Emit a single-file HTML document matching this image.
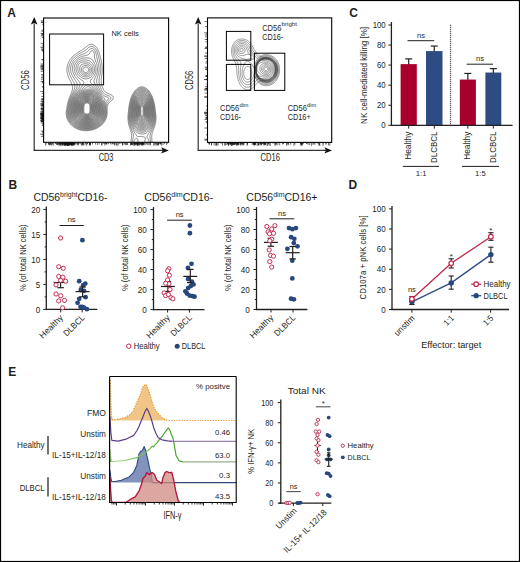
<!DOCTYPE html>
<html><head><meta charset="utf-8"><style>
html,body{margin:0;padding:0;background:#fff;}
body{width:520px;height:562px;overflow:hidden;}
svg{display:block;font-family:"Liberation Sans", sans-serif;}
text{fill:#231f20;}
</style></head><body>
<svg width="520" height="562" viewBox="0 0 520 562">
<rect x="0" y="0" width="520" height="562" fill="#fff"/>
<text x="7.2" y="17.1" font-size="12" font-weight="bold" fill="#000">A</text>
<text x="8.6" y="188.5" font-size="12" font-weight="bold" fill="#000">B</text>
<text x="349.2" y="17.3" font-size="12" font-weight="bold" fill="#000">C</text>
<text x="348.5" y="188.5" font-size="12" font-weight="bold" fill="#000">D</text>
<text x="8.3" y="376.2" font-size="12" font-weight="bold" fill="#000">E</text>
<path d="M89.9,44.5 90.3,44.4 90.8,44.3 91.3,44.3 91.8,44.3 92.3,44.4 92.6,44.5 93.1,44.7 93.3,44.8 93.8,45.0 94.1,45.2 94.3,45.3 94.6,45.5 94.9,45.8 95.2,46.0 95.5,46.2 95.7,46.5 96.0,46.8 96.2,47.0 96.4,47.2 96.6,47.5 96.8,47.9 97.1,48.2 97.3,48.5 97.4,48.8 97.6,49.1 97.8,49.5 97.9,49.8 98.1,50.1 98.3,50.5 98.4,50.8 98.6,51.2 98.7,51.5 98.8,51.9 99.0,52.2 99.1,52.6 99.2,53.0 99.3,53.3 99.5,53.8 99.6,54.2 99.7,54.5 99.8,55.0 99.9,55.2 100.0,55.8 100.1,56.0 100.2,56.5 100.3,57.0 100.4,57.2 100.5,57.8 100.6,58.0 100.7,58.5 100.8,59.0 100.9,59.2 101.0,59.7 101.1,60.2 101.2,60.5 101.3,61.0 101.3,61.4 101.4,61.8 101.5,62.2 101.6,62.6 101.7,63.0 101.8,63.5 101.8,64.0 101.9,64.2 101.9,64.8 102.0,65.2 102.1,65.8 102.1,66.0 102.2,66.5 102.2,67.0 102.2,67.5 102.2,68.0 102.3,68.5 102.3,69.0 102.3,69.5 102.3,70.0 102.2,70.5 102.2,71.0 102.2,71.5 102.1,72.0 102.1,72.5 102.1,72.8 102.0,73.2 102.0,73.8 101.9,74.2 101.8,74.5 101.8,75.0 101.7,75.5 101.6,76.0 101.6,76.2 101.5,76.8 101.4,77.2 101.4,77.8 101.3,78.0 101.3,78.5 101.2,79.0 101.2,79.5 101.2,80.0 101.2,80.5 101.2,81.0 101.2,81.5 101.3,82.0 101.3,82.5 101.4,82.8 101.4,83.2 101.5,83.8 101.6,84.1 101.7,84.5 101.8,85.0 101.9,85.2 102.0,85.8 102.1,86.1 102.2,86.5 102.3,86.9 102.5,87.2 102.6,87.6 102.8,88.0 102.9,88.2 103.1,88.8 103.2,89.0 103.3,89.3 103.6,89.7 103.8,90.0 103.9,90.2 104.1,90.5 104.3,90.9 104.6,91.2 104.8,91.4 105.1,91.7 105.3,91.9 105.6,92.1 105.8,92.3 106.1,92.5 106.5,92.7 106.8,92.9 107.1,93.1 107.5,93.2 107.8,93.4 108.1,93.5 108.6,93.7 108.9,93.8 109.3,94.0 109.6,94.1 110.0,94.2 110.3,94.4 110.6,94.5 111.1,94.8 111.3,94.9 111.6,95.1 111.8,95.3 112.1,95.5 112.4,95.8 112.6,96.0 112.9,96.3 113.1,96.8 113.1,97.0 113.2,97.5 113.2,98.0 113.1,98.4 113.0,98.8 112.8,99.0 112.6,99.4 112.4,99.8 112.2,100.0 111.9,100.2 111.7,100.5 111.4,100.8 111.1,101.0 110.9,101.2 110.6,101.4 110.3,101.6 110.1,101.8 109.8,102.0 109.6,102.3 109.3,102.5 109.1,102.8 108.8,103.0 108.6,103.3 108.3,103.7 108.2,104.0 108.0,104.2 107.8,104.7 107.7,105.0 107.6,105.5 107.5,105.8 107.4,106.2 107.3,106.6 107.3,107.0 107.2,107.5 107.2,108.0 107.2,108.5 107.2,109.0 107.2,109.5 107.2,110.0 107.2,110.5 107.2,111.0 107.2,111.5 107.2,112.0 107.2,112.5 107.2,113.0 107.2,113.5 107.1,114.0 107.1,114.5 107.1,114.7 107.0,115.2 106.9,115.8 106.8,116.0 106.7,116.5 106.6,117.0 106.5,117.2 106.4,117.8 106.3,118.0 106.1,118.5 106.0,118.8 105.8,119.1 105.7,119.5 105.6,119.8 105.3,120.2 105.2,120.5 105.0,120.8 104.8,121.0 104.6,121.4 104.4,121.8 104.2,122.0 104.0,122.2 103.8,122.5 103.6,122.8 103.3,123.1 103.1,123.4 102.8,123.7 102.6,124.0 102.3,124.2 102.1,124.5 101.8,124.7 101.6,125.0 101.3,125.2 101.1,125.4 100.8,125.6 100.6,125.8 100.3,126.0 100.1,126.2 99.7,126.5 99.4,126.8 99.1,126.9 98.8,127.1 98.6,127.2 98.2,127.5 97.8,127.7 97.6,127.8 97.3,128.0 96.8,128.2 96.6,128.4 96.3,128.5 95.8,128.7 95.6,128.8 95.2,129.0 94.8,129.1 94.5,129.2 94.1,129.4 93.8,129.5 93.3,129.6 93.0,129.8 92.6,129.9 92.1,130.0 91.8,130.1 91.3,130.2 91.0,130.2 90.6,130.3 90.1,130.4 89.6,130.5 89.3,130.5 88.8,130.6 88.3,130.6 87.8,130.7 87.3,130.7 86.8,130.7 86.3,130.7 85.8,130.7 85.3,130.7 84.8,130.7 84.3,130.7 83.8,130.6 83.3,130.6 83.0,130.5 82.6,130.4 82.1,130.4 81.6,130.3 81.3,130.2 80.8,130.1 80.5,130.0 80.1,129.9 79.6,129.8 79.3,129.7 78.8,129.5 78.6,129.4 78.1,129.2 77.8,129.2 77.5,129.0 77.1,128.8 76.8,128.7 76.4,128.5 76.1,128.4 75.8,128.2 75.4,128.0 75.1,127.8 74.8,127.7 74.6,127.5 74.2,127.2 73.8,127.0 73.6,126.9 73.3,126.7 73.1,126.5 72.8,126.2 72.5,126.0 72.2,125.8 71.9,125.5 71.6,125.3 71.3,125.0 71.1,124.8 70.8,124.5 70.6,124.2 70.4,124.0 70.2,123.8 70.0,123.5 69.8,123.2 69.6,123.0 69.3,122.7 69.1,122.4 68.8,122.0 68.7,121.8 68.5,121.5 68.3,121.2 68.1,120.8 68.0,120.5 67.8,120.2 67.6,119.8 67.5,119.5 67.3,119.2 67.2,118.8 67.1,118.5 66.9,118.0 66.8,117.7 66.7,117.2 66.6,116.8 66.5,116.5 66.4,116.0 66.4,115.5 66.3,115.2 66.3,114.8 66.2,114.2 66.2,113.8 66.2,113.2 66.2,112.8 66.2,112.2 66.3,111.8 66.3,111.2 66.4,111.0 66.4,110.5 66.5,110.0 66.6,109.5 66.6,109.2 66.7,108.8 66.8,108.2 66.8,107.8 66.9,107.5 67.0,107.0 67.0,106.5 67.1,106.1 67.1,105.8 67.2,105.2 67.3,104.8 67.4,104.5 67.5,104.0 67.6,103.5 67.7,103.2 67.8,102.8 67.9,102.5 68.0,102.0 68.1,101.6 68.2,101.2 68.3,100.8 68.4,100.5 68.6,100.0 68.7,99.8 68.8,99.3 68.9,99.0 69.1,98.6 69.2,98.2 69.3,97.9 69.5,97.5 69.6,97.3 69.8,96.8 69.9,96.5 70.1,96.0 70.2,95.8 70.3,95.4 70.5,95.0 70.6,94.8 70.8,94.2 70.9,94.0 71.1,93.6 71.2,93.2 71.3,93.0 71.5,92.5 71.6,92.2 71.8,91.8 71.9,91.5 72.1,91.0 72.1,90.8 72.3,90.2 72.3,89.9 72.4,89.5 72.5,89.0 72.5,88.5 72.6,88.0 72.6,87.5 72.5,87.0 72.4,86.5 72.4,86.0 72.3,85.8 72.2,85.2 72.1,85.0 71.9,84.5 71.8,84.2 71.6,83.8 71.5,83.5 71.3,83.1 71.2,82.8 71.1,82.5 70.8,82.0 70.7,81.8 70.6,81.5 70.3,81.0 70.2,80.8 70.1,80.5 69.8,80.1 69.7,79.8 69.6,79.5 69.3,79.1 69.2,78.8 69.1,78.5 68.8,78.0 68.7,77.8 68.6,77.4 68.4,77.0 68.3,76.8 68.1,76.2 68.0,76.0 67.9,75.5 67.8,75.2 67.6,74.8 67.5,74.5 67.4,74.0 67.3,73.7 67.2,73.2 67.2,72.8 67.1,72.4 67.0,72.0 67.0,71.5 66.9,71.0 66.9,70.5 66.9,70.0 66.9,69.5 66.9,69.0 67.0,68.5 67.0,68.0 67.1,67.5 67.1,67.2 67.2,66.8 67.3,66.2 67.3,66.0 67.5,65.5 67.6,65.0 67.7,64.8 67.8,64.2 67.9,64.0 68.1,63.5 68.2,63.2 68.3,62.9 68.5,62.5 68.7,62.2 68.8,61.9 69.0,61.5 69.2,61.2 69.3,60.9 69.6,60.5 69.8,60.2 69.9,60.0 70.1,59.7 70.3,59.4 70.6,59.0 70.8,58.8 71.0,58.5 71.2,58.2 71.4,58.0 71.6,57.8 71.8,57.5 72.1,57.2 72.3,56.9 72.6,56.7 72.8,56.4 73.1,56.2 73.3,55.9 73.6,55.7 73.8,55.5 74.1,55.2 74.4,55.0 74.7,54.8 75.0,54.5 75.3,54.2 75.6,54.0 75.8,53.9 76.1,53.7 76.4,53.5 76.7,53.2 77.1,53.0 77.3,52.8 77.6,52.7 77.9,52.5 78.3,52.2 78.6,52.0 78.8,51.9 79.1,51.7 79.5,51.5 79.8,51.3 80.1,51.2 80.4,51.0 80.8,50.8 81.1,50.6 81.3,50.4 81.6,50.2 82.0,50.0 82.3,49.8 82.6,49.6 82.8,49.4 83.1,49.3 83.5,49.0 83.8,48.8 84.1,48.5 84.3,48.3 84.6,48.1 84.8,47.9 85.1,47.7 85.3,47.5 85.6,47.2 85.9,47.0 86.2,46.8 86.5,46.5 86.8,46.2 87.1,46.0 87.3,45.8 87.6,45.6 87.8,45.5 88.2,45.2 88.6,45.0 88.8,44.9 89.2,44.8 89.6,44.6 89.9,44.5ZM131.0,142.5 131.0,142.0 131.1,141.5 131.1,141.1 131.1,140.8 131.2,140.2 131.2,139.8 131.3,139.2 131.3,138.8 131.4,138.5 131.4,138.0 131.5,137.5 131.5,137.0 131.5,136.5 131.6,136.0 131.6,135.5 131.6,135.0 131.5,134.5 131.5,134.0 131.4,133.5 131.3,133.2 131.3,132.8 131.1,132.2 131.1,132.0 130.9,131.5 130.8,131.2 130.7,130.8 130.6,130.4 130.5,130.0 130.3,129.7 130.2,129.2 130.1,128.9 130.0,128.5 129.8,128.2 129.7,127.8 129.6,127.4 129.5,127.0 129.3,126.6 129.2,126.2 129.1,125.8 129.0,125.5 128.9,125.0 128.8,124.8 128.7,124.2 128.6,123.7 128.6,123.5 128.5,123.0 128.4,122.5 128.3,122.2 128.2,121.8 128.2,121.2 128.1,120.8 128.1,120.5 128.0,120.0 128.0,119.5 128.0,119.0 127.9,118.5 127.9,118.0 127.9,117.5 127.9,117.0 128.0,116.5 128.0,116.0 128.0,115.5 128.0,115.0 128.1,114.5 128.1,114.2 128.2,113.8 128.2,113.2 128.3,112.8 128.3,112.2 128.4,112.0 128.4,111.5 128.5,111.0 128.5,110.5 128.6,110.0 128.6,109.8 128.7,109.2 128.7,108.8 128.8,108.2 128.8,107.8 128.9,107.5 128.9,107.0 129.0,106.5 129.1,106.0 129.1,105.7 129.2,105.2 129.3,104.8 129.3,104.2 129.4,104.0 129.5,103.5 129.6,103.0 129.6,102.8 129.8,102.2 129.8,101.9 129.9,101.5 130.1,101.0 130.1,100.8 130.3,100.2 130.3,100.0 130.5,99.5 130.6,99.1 130.7,98.8 130.8,98.4 131.0,98.0 131.1,97.7 131.3,97.2 131.4,97.0 131.6,96.5 131.7,96.2 131.8,95.8 132.0,95.5 132.1,95.2 132.3,94.8 132.5,94.5 132.6,94.2 132.8,93.8 133.0,93.5 133.2,93.2 133.3,93.0 133.6,92.6 133.8,92.2 134.0,92.0 134.2,91.8 134.4,91.5 134.6,91.2 134.8,90.9 135.1,90.6 135.3,90.3 135.6,90.0 135.8,89.8 136.1,89.5 136.3,89.3 136.6,89.1 136.8,88.9 137.1,88.7 137.3,88.5 137.7,88.2 138.1,88.0 138.3,87.9 138.6,87.7 139.1,87.5 139.3,87.4 139.8,87.2 140.1,87.2 140.6,87.0 140.8,87.0 141.3,86.9 141.8,86.9 142.3,86.9 142.8,87.0 143.1,87.0 143.6,87.1 144.0,87.2 144.4,87.4 144.7,87.5 145.1,87.7 145.3,87.8 145.7,88.0 146.1,88.2 146.3,88.4 146.6,88.6 146.8,88.8 147.1,89.0 147.4,89.2 147.6,89.5 147.9,89.8 148.1,90.0 148.4,90.2 148.6,90.5 148.8,90.8 149.1,91.1 149.3,91.5 149.5,91.8 149.7,92.0 149.9,92.2 150.1,92.6 150.3,93.0 150.5,93.2 150.6,93.5 150.8,93.9 151.1,94.2 151.2,94.5 151.3,94.8 151.5,95.2 151.7,95.5 151.8,95.9 152.0,96.2 152.1,96.5 152.3,97.0 152.4,97.2 152.6,97.8 152.7,98.0 152.8,98.5 152.9,98.8 153.1,99.2 153.2,99.5 153.3,100.0 153.4,100.2 153.6,100.8 153.6,101.0 153.8,101.5 153.8,101.9 153.9,102.2 154.1,102.8 154.1,103.0 154.2,103.5 154.3,104.0 154.4,104.2 154.5,104.8 154.6,105.2 154.6,105.5 154.7,106.0 154.8,106.5 154.8,106.9 154.9,107.2 155.0,107.8 155.0,108.2 155.1,108.7 155.1,109.0 155.2,109.5 155.2,110.0 155.3,110.5 155.3,110.9 155.4,111.2 155.5,111.8 155.5,112.2 155.6,112.8 155.6,113.0 155.7,113.5 155.7,114.0 155.8,114.5 155.8,115.0 155.9,115.2 155.9,115.8 155.9,116.2 156.0,116.8 156.0,117.2 156.0,117.8 156.0,118.2 156.0,118.8 155.9,119.2 155.9,119.8 155.8,120.2 155.8,120.5 155.8,121.0 155.7,121.5 155.6,122.0 155.6,122.2 155.5,122.8 155.4,123.2 155.3,123.5 155.2,124.0 155.1,124.5 155.0,124.8 154.9,125.2 154.8,125.5 154.7,126.0 154.6,126.3 154.5,126.8 154.3,127.1 154.2,127.5 154.1,127.8 153.9,128.2 153.8,128.5 153.7,129.0 153.6,129.2 153.4,129.8 153.3,130.0 153.1,130.5 153.0,130.8 152.8,131.2 152.7,131.5 152.6,131.9 152.5,132.2 152.3,132.6 152.2,133.0 152.1,133.5 152.0,133.8 151.9,134.2 151.9,134.7 151.8,135.0 151.8,135.5 151.7,136.0 151.7,136.5 151.7,137.0 151.7,137.5 151.7,138.0 151.8,138.5 151.8,139.0 151.8,139.4 151.9,139.8 151.9,140.2 151.9,140.8 152.0,141.2 152.0,141.8 152.0,142.2M90.6,46.5 90.8,46.4 91.3,46.4 91.8,46.4 92.3,46.5 92.6,46.5 93.1,46.7 93.3,46.8 93.6,47.0 94.0,47.2 94.3,47.5 94.6,47.7 94.8,48.0 95.1,48.3 95.3,48.5 95.5,48.8 95.7,49.0 95.8,49.3 96.1,49.7 96.3,50.0 96.4,50.2 96.6,50.6 96.8,51.0 96.9,51.2 97.1,51.7 97.2,52.0 97.3,52.4 97.5,52.8 97.6,53.2 97.7,53.5 97.8,54.0 97.9,54.2 98.0,54.8 98.1,55.0 98.2,55.5 98.3,56.0 98.4,56.2 98.5,56.8 98.6,57.1 98.7,57.5 98.8,58.0 98.9,58.2 99.0,58.8 99.1,59.2 99.2,59.5 99.3,60.0 99.3,60.3 99.5,60.8 99.6,61.2 99.6,61.5 99.8,62.0 99.8,62.5 99.9,62.8 100.0,63.2 100.1,63.7 100.2,64.0 100.3,64.5 100.3,65.0 100.4,65.2 100.4,65.8 100.5,66.2 100.6,66.8 100.6,67.2 100.6,67.5 100.6,68.0 100.7,68.5 100.7,69.0 100.7,69.5 100.7,70.0 100.6,70.5 100.6,70.9 100.6,71.2 100.5,71.8 100.5,72.2 100.4,72.8 100.3,73.0 100.3,73.5 100.2,74.0 100.1,74.4 100.0,74.8 99.9,75.2 99.8,75.5 99.7,76.0 99.6,76.5 99.6,76.7 99.5,77.2 99.3,77.7 99.3,78.0 99.2,78.5 99.1,79.0 99.1,79.2 99.0,79.8 99.0,80.2 99.0,80.8 99.0,81.2 99.0,81.8 99.0,82.2 99.1,82.7 99.2,83.0 99.3,83.5 99.3,83.9 99.4,84.2 99.6,84.8 99.6,85.0 99.8,85.5 99.9,85.8 100.0,86.2 100.1,86.5 100.3,87.0 100.4,87.2 100.6,87.8 100.7,88.0 100.8,88.4 101.0,88.8 101.1,89.0 101.3,89.5 101.5,89.8 101.6,90.0 101.8,90.5 102.0,90.8 102.2,91.0 102.3,91.3 102.6,91.7 102.8,92.0 103.0,92.2 103.2,92.5 103.4,92.8 103.6,93.0 103.9,93.2 104.1,93.5 104.4,93.8 104.7,94.0 105.1,94.2 105.3,94.4 105.6,94.6 106.0,94.8 106.3,94.9 106.6,95.0 107.1,95.2 107.3,95.3 107.8,95.4 108.1,95.5 108.6,95.7 108.8,95.8 109.2,96.0 109.6,96.2 109.8,96.3 110.1,96.5 110.3,96.8 110.6,97.1 110.8,97.5 110.9,97.8 110.9,98.2 110.8,98.5 110.6,99.0 110.4,99.2 110.2,99.5 110.0,99.8 109.8,100.0 109.5,100.2 109.2,100.5 108.9,100.8 108.6,101.0 108.4,101.2 108.1,101.5 107.9,101.8 107.7,102.0 107.5,102.2 107.3,102.5 107.1,102.9 107.0,103.2 106.8,103.6 106.7,104.0 106.6,104.5 106.6,104.8 106.5,105.2 106.4,105.8 106.4,106.2 106.3,106.7 106.3,107.0 106.3,107.5 106.3,108.0 106.3,108.5 106.3,109.0 106.3,109.5 106.4,109.8 106.4,110.2 106.4,110.8 106.4,111.2 106.5,111.8 106.5,112.2 106.5,112.8 106.5,113.2 106.4,113.8 106.4,114.2 106.3,114.5 106.3,115.0 106.2,115.5 106.1,116.0 106.0,116.2 105.9,116.8 105.8,117.0 105.7,117.5 105.6,117.8 105.4,118.2 105.3,118.5 105.1,119.0 105.0,119.2 104.8,119.6 104.6,120.0 104.5,120.2 104.3,120.5 104.1,120.9 103.9,121.2 103.7,121.5 103.5,121.8 103.3,122.0 103.1,122.3 102.8,122.6 102.6,122.9 102.3,123.2 102.1,123.5 101.9,123.8 101.6,124.0 101.4,124.2 101.1,124.5 100.8,124.7 100.6,124.9 100.3,125.1 100.1,125.4 99.8,125.5 99.6,125.7 99.2,126.0 98.9,126.2 98.6,126.4 98.3,126.6 98.1,126.8 97.7,127.0 97.3,127.2 97.1,127.3 96.8,127.5 96.3,127.7 96.1,127.8 95.8,128.0 95.3,128.2 95.1,128.3 94.6,128.5 94.3,128.6 93.9,128.8 93.6,128.9 93.1,129.0 92.8,129.1 92.3,129.2 92.1,129.3 91.6,129.4 91.2,129.5 90.8,129.6 90.3,129.7 89.9,129.8 89.6,129.8 89.1,129.9 88.6,129.9 88.1,130.0 87.6,130.0 87.3,130.0 86.8,130.0 86.3,130.0 85.8,130.0 85.4,130.0 85.1,130.0 84.6,130.0 84.1,129.9 83.6,129.9 83.1,129.8 82.8,129.8 82.3,129.7 81.8,129.6 81.5,129.5 81.1,129.4 80.6,129.3 80.3,129.2 79.8,129.1 79.6,129.0 79.1,128.8 78.8,128.7 78.3,128.5 78.1,128.4 77.6,128.2 77.3,128.1 77.1,128.0 76.6,127.8 76.3,127.6 76.1,127.5 75.6,127.2 75.3,127.1 75.1,126.9 74.8,126.8 74.4,126.5 74.1,126.3 73.8,126.1 73.6,125.9 73.3,125.7 73.1,125.5 72.8,125.2 72.5,125.0 72.2,124.8 72.0,124.5 71.7,124.2 71.5,124.0 71.2,123.8 71.0,123.5 70.8,123.2 70.6,123.0 70.4,122.7 70.1,122.4 69.8,122.1 69.6,121.8 69.5,121.5 69.3,121.2 69.1,120.9 68.9,120.5 68.7,120.2 68.6,120.0 68.4,119.5 68.2,119.2 68.1,118.9 67.9,118.5 67.8,118.2 67.7,117.8 67.6,117.5 67.5,117.0 67.4,116.5 67.3,116.2 67.2,115.8 67.1,115.2 67.1,115.0 67.1,114.5 67.0,114.0 67.0,113.5 67.0,113.0 67.0,112.5 67.0,112.0 67.1,111.5 67.1,111.2 67.2,110.8 67.3,110.2 67.3,109.8 67.4,109.5 67.4,109.0 67.5,108.5 67.6,108.0 67.6,107.8 67.7,107.2 67.8,106.8 67.8,106.3 67.9,106.0 68.0,105.5 68.1,105.0 68.1,104.8 68.2,104.2 68.3,103.8 68.4,103.5 68.5,103.0 68.6,102.7 68.7,102.2 68.8,101.8 68.9,101.5 69.1,101.0 69.2,100.8 69.3,100.3 69.4,100.0 69.6,99.6 69.7,99.2 69.8,98.9 70.0,98.5 70.1,98.2 70.3,97.8 70.4,97.5 70.6,97.1 70.8,96.8 70.9,96.5 71.1,96.0 71.2,95.8 71.4,95.5 71.6,95.0 71.7,94.8 71.9,94.5 72.1,94.0 72.2,93.8 72.4,93.5 72.6,93.0 72.7,92.8 72.9,92.5 73.1,92.1 73.3,91.8 73.4,91.5 73.6,91.0 73.7,90.8 73.8,90.5 74.1,90.0 74.2,89.8 74.3,89.2 74.4,89.0 74.6,88.5 74.6,88.2 74.7,87.8 74.8,87.2 74.8,86.8 74.8,86.2 74.8,85.8 74.7,85.2 74.6,84.7 74.6,84.5 74.4,84.0 74.3,83.8 74.1,83.2 74.0,83.0 73.8,82.6 73.7,82.2 73.6,82.0 73.3,81.6 73.2,81.2 73.0,81.0 72.8,80.7 72.6,80.3 72.4,80.0 72.3,79.8 72.1,79.4 71.8,79.0 71.7,78.8 71.6,78.5 71.3,78.1 71.1,77.8 71.0,77.5 70.8,77.2 70.6,76.8 70.5,76.5 70.3,76.2 70.2,75.8 70.1,75.5 69.9,75.0 69.8,74.8 69.6,74.3 69.5,74.0 69.4,73.5 69.3,73.2 69.2,72.8 69.1,72.4 69.0,72.0 68.9,71.5 68.9,71.0 68.8,70.8 68.8,70.2 68.8,69.8 68.8,69.2 68.8,68.8 68.8,68.2 68.8,67.9 68.9,67.5 69.0,67.0 69.1,66.5 69.1,66.2 69.2,65.8 69.3,65.3 69.4,65.0 69.6,64.5 69.7,64.2 69.8,63.8 70.0,63.5 70.1,63.2 70.3,62.8 70.4,62.5 70.6,62.2 70.8,61.8 71.0,61.5 71.1,61.3 71.3,60.9 71.6,60.5 71.8,60.2 71.9,60.0 72.1,59.7 72.3,59.4 72.6,59.1 72.8,58.8 73.1,58.5 73.3,58.3 73.6,58.0 73.8,57.8 74.1,57.5 74.3,57.3 74.6,57.0 74.8,56.8 75.1,56.6 75.3,56.4 75.6,56.2 75.8,56.0 76.1,55.8 76.5,55.5 76.8,55.2 77.1,55.1 77.3,54.9 77.6,54.7 78.0,54.5 78.3,54.3 78.6,54.1 78.8,54.0 79.3,53.8 79.6,53.6 79.8,53.4 80.2,53.2 80.6,53.0 80.8,52.9 81.2,52.8 81.6,52.5 81.8,52.4 82.2,52.2 82.6,52.0 82.8,51.9 83.1,51.8 83.6,51.5 83.8,51.3 84.1,51.2 84.4,51.0 84.8,50.8 85.1,50.5 85.3,50.3 85.6,50.1 85.8,49.9 86.1,49.7 86.3,49.5 86.6,49.2 86.9,49.0 87.2,48.8 87.4,48.5 87.7,48.2 88.0,48.0 88.3,47.8 88.6,47.5 88.8,47.3 89.1,47.2 89.4,47.0 89.8,46.8 90.1,46.6 90.6,46.5ZM132.4,142.5 132.4,142.0 132.4,141.5 132.5,141.0 132.6,140.5 132.6,140.2 132.7,139.8 132.8,139.2 132.9,139.0 133.0,138.5 133.1,138.0 133.1,137.8 133.2,137.2 133.3,136.8 133.3,136.3 133.4,136.0 133.4,135.5 133.3,135.0 133.3,134.8 133.2,134.2 133.1,133.8 133.1,133.5 132.9,133.0 132.8,132.8 132.6,132.2 132.5,132.0 132.3,131.5 132.2,131.2 132.1,130.9 131.9,130.5 131.8,130.2 131.6,129.8 131.5,129.5 131.3,129.2 131.2,128.8 131.1,128.5 130.9,128.0 130.8,127.8 130.6,127.3 130.5,127.0 130.3,126.6 130.2,126.2 130.1,125.9 130.0,125.5 129.8,125.1 129.7,124.8 129.6,124.3 129.5,124.0 129.4,123.5 129.3,123.2 129.2,122.8 129.1,122.2 129.1,122.0 129.0,121.5 128.9,121.0 128.9,120.5 128.8,120.2 128.8,119.8 128.7,119.2 128.7,118.8 128.7,118.2 128.7,117.7 128.6,117.2 128.7,116.8 128.7,116.2 128.7,115.8 128.7,115.2 128.8,114.8 128.8,114.2 128.8,113.8 128.9,113.5 128.9,113.0 129.0,112.5 129.1,112.0 129.1,111.6 129.1,111.2 129.2,110.8 129.2,110.2 129.3,109.8 129.3,109.3 129.4,109.0 129.4,108.5 129.5,108.0 129.5,107.5 129.6,107.0 129.6,106.8 129.7,106.2 129.8,105.8 129.8,105.2 129.9,105.0 130.0,104.5 130.1,104.0 130.1,103.8 130.2,103.2 130.3,102.8 130.4,102.5 130.5,102.0 130.6,101.7 130.7,101.2 130.8,100.8 130.9,100.5 131.1,100.0 131.1,99.8 131.3,99.2 131.4,99.0 131.6,98.5 131.6,98.2 131.8,97.8 131.9,97.5 132.1,97.1 132.2,96.8 132.3,96.5 132.6,96.0 132.7,95.8 132.8,95.4 133.1,95.0 133.2,94.8 133.3,94.5 133.6,94.0 133.8,93.8 133.9,93.5 134.1,93.2 134.3,92.8 134.6,92.5 134.8,92.2 135.0,92.0 135.2,91.8 135.4,91.5 135.6,91.2 135.8,90.9 136.1,90.7 136.3,90.4 136.6,90.2 136.8,90.0 137.1,89.8 137.5,89.5 137.8,89.2 138.1,89.1 138.3,88.9 138.6,88.8 139.1,88.5 139.3,88.4 139.8,88.2 140.1,88.2 140.6,88.0 140.8,88.0 141.3,87.9 141.8,87.9 142.3,87.9 142.8,88.0 143.1,88.0 143.6,88.1 144.0,88.2 144.3,88.4 144.7,88.5 145.1,88.7 145.3,88.8 145.6,89.0 146.0,89.2 146.3,89.5 146.6,89.7 146.8,89.9 147.1,90.1 147.3,90.3 147.6,90.6 147.8,90.8 148.1,91.1 148.3,91.4 148.6,91.7 148.8,92.0 149.0,92.2 149.2,92.5 149.4,92.8 149.6,93.1 149.8,93.5 150.0,93.8 150.2,94.0 150.3,94.3 150.6,94.8 150.7,95.0 150.8,95.3 151.1,95.8 151.2,96.0 151.3,96.3 151.5,96.8 151.6,97.0 151.8,97.5 151.9,97.8 152.1,98.2 152.2,98.5 152.3,98.9 152.5,99.2 152.6,99.6 152.7,100.0 152.8,100.5 152.9,100.8 153.1,101.2 153.1,101.5 153.3,102.0 153.3,102.3 153.5,102.8 153.6,103.2 153.6,103.5 153.7,104.0 153.8,104.5 153.9,104.8 154.0,105.2 154.1,105.8 154.1,106.0 154.2,106.5 154.3,107.0 154.3,107.5 154.4,107.8 154.4,108.2 154.5,108.8 154.5,109.2 154.6,109.8 154.6,110.0 154.7,110.5 154.7,111.0 154.8,111.5 154.8,112.0 154.9,112.2 154.9,112.8 155.0,113.2 155.1,113.8 155.1,114.1 155.1,114.5 155.2,115.0 155.2,115.5 155.3,116.0 155.3,116.5 155.3,117.0 155.3,117.5 155.3,118.0 155.3,118.5 155.2,119.0 155.2,119.5 155.1,120.0 155.1,120.4 155.1,120.8 155.0,121.2 154.9,121.8 154.8,122.0 154.7,122.5 154.6,123.0 154.6,123.2 154.5,123.8 154.3,124.1 154.2,124.5 154.1,125.0 154.0,125.2 153.8,125.7 153.8,126.0 153.6,126.4 153.5,126.8 153.3,127.1 153.2,127.5 153.1,127.8 152.9,128.2 152.8,128.5 152.6,128.9 152.4,129.2 152.3,129.5 152.1,130.0 152.0,130.2 151.8,130.5 151.6,131.0 151.5,131.2 151.3,131.5 151.1,132.0 151.0,132.2 150.8,132.7 150.7,133.0 150.6,133.3 150.4,133.8 150.3,134.0 150.2,134.5 150.1,135.0 150.1,135.2 150.0,135.8 150.0,136.2 150.0,136.8 150.0,137.2 150.1,137.8 150.1,138.0 150.2,138.5 150.3,139.0 150.3,139.5 150.4,139.8 150.5,140.2 150.5,140.8 150.6,141.2 150.6,141.5 150.6,142.0 150.7,142.5M91.3,48.5 91.6,48.5 92.1,48.5 92.3,48.5 92.8,48.7 93.1,48.8 93.4,49.0 93.7,49.2 94.0,49.5 94.2,49.8 94.4,50.0 94.6,50.2 94.8,50.6 95.1,51.0 95.2,51.2 95.3,51.6 95.5,52.0 95.6,52.2 95.8,52.8 95.9,53.0 96.0,53.5 96.1,53.9 96.2,54.2 96.3,54.8 96.3,55.1 96.4,55.5 96.5,56.0 96.6,56.4 96.7,56.8 96.8,57.3 96.8,57.7 96.9,58.0 97.0,58.5 97.1,58.8 97.2,59.2 97.3,59.8 97.4,60.0 97.5,60.5 97.6,60.8 97.7,61.2 97.8,61.6 97.9,62.0 98.1,62.5 98.1,62.8 98.3,63.2 98.3,63.6 98.5,64.0 98.6,64.5 98.6,64.8 98.7,65.2 98.8,65.8 98.8,66.1 98.9,66.5 99.0,67.0 99.0,67.5 99.1,68.0 99.1,68.5 99.1,69.0 99.1,69.5 99.1,70.0 99.0,70.5 99.0,71.0 98.9,71.5 98.9,72.0 98.8,72.2 98.7,72.8 98.6,73.2 98.6,73.5 98.5,74.0 98.3,74.4 98.3,74.8 98.1,75.2 98.0,75.5 97.9,76.0 97.8,76.2 97.6,76.8 97.5,77.0 97.4,77.5 97.3,77.8 97.1,78.2 97.1,78.5 96.9,79.0 96.8,79.3 96.7,79.8 96.7,80.2 96.6,80.8 96.6,81.2 96.6,81.8 96.7,82.2 96.8,82.8 96.9,83.0 97.0,83.5 97.1,83.8 97.3,84.2 97.4,84.5 97.6,85.0 97.7,85.2 97.8,85.7 98.0,86.0 98.1,86.3 98.3,86.8 98.4,87.0 98.6,87.4 98.8,87.8 98.9,88.0 99.1,88.5 99.2,88.8 99.4,89.0 99.6,89.5 99.8,89.8 99.9,90.0 100.1,90.4 100.3,90.8 100.5,91.0 100.6,91.3 100.8,91.7 101.1,92.0 101.2,92.2 101.4,92.5 101.6,92.8 101.8,93.2 102.1,93.5 102.3,93.8 102.5,94.0 102.7,94.2 102.9,94.5 103.1,94.8 103.3,95.0 103.6,95.3 103.8,95.5 104.1,95.8 104.5,96.0 104.8,96.2 105.1,96.4 105.4,96.5 105.8,96.7 106.1,96.8 106.6,96.9 106.9,97.0 107.3,97.1 107.7,97.2 108.1,97.4 108.3,97.6 108.6,97.9 108.7,98.2 108.6,98.7 108.4,99.0 108.2,99.2 108.0,99.5 107.7,99.8 107.4,100.0 107.1,100.2 106.8,100.5 106.6,100.7 106.4,101.0 106.3,101.2 106.1,101.5 105.9,102.0 105.8,102.3 105.7,102.8 105.7,103.2 105.6,103.8 105.6,104.0 105.6,104.5 105.5,105.0 105.5,105.5 105.5,106.0 105.5,106.5 105.5,107.0 105.5,107.5 105.5,108.0 105.5,108.5 105.5,109.0 105.6,109.5 105.6,110.0 105.6,110.2 105.7,110.8 105.7,111.2 105.7,111.8 105.7,112.2 105.7,112.8 105.7,113.2 105.7,113.8 105.7,114.2 105.6,114.7 105.6,115.0 105.5,115.5 105.4,116.0 105.3,116.2 105.2,116.8 105.1,117.0 104.9,117.5 104.8,117.8 104.7,118.2 104.6,118.5 104.3,119.0 104.2,119.2 104.1,119.5 103.8,119.9 103.7,120.2 103.5,120.5 103.3,120.8 103.1,121.2 102.9,121.5 102.7,121.8 102.5,122.0 102.3,122.2 102.1,122.5 101.8,122.8 101.6,123.0 101.3,123.3 101.1,123.5 100.8,123.8 100.6,124.0 100.3,124.3 100.1,124.5 99.8,124.8 99.5,125.0 99.1,125.2 98.8,125.4 98.6,125.6 98.3,125.8 98.0,126.0 97.6,126.2 97.3,126.4 97.1,126.6 96.8,126.8 96.3,127.0 96.1,127.1 95.8,127.2 95.3,127.5 95.1,127.6 94.6,127.8 94.3,127.9 94.0,128.0 93.6,128.1 93.3,128.2 92.8,128.4 92.5,128.5 92.1,128.6 91.6,128.7 91.3,128.8 90.8,128.9 90.4,129.0 90.1,129.0 89.6,129.1 89.1,129.2 88.6,129.2 88.3,129.2 87.8,129.3 87.3,129.3 86.8,129.3 86.3,129.3 85.8,129.3 85.3,129.3 84.8,129.3 84.6,129.2 84.1,129.2 83.6,129.1 83.1,129.1 82.7,129.0 82.3,128.9 81.8,128.8 81.4,128.8 81.1,128.7 80.6,128.5 80.3,128.5 79.8,128.3 79.6,128.2 79.1,128.0 78.8,128.0 78.3,127.8 78.1,127.7 77.8,127.5 77.3,127.3 77.1,127.2 76.7,127.0 76.3,126.8 76.1,126.7 75.8,126.5 75.4,126.2 75.1,126.0 74.8,125.9 74.6,125.7 74.3,125.5 74.0,125.2 73.7,125.0 73.4,124.8 73.1,124.5 72.8,124.3 72.6,124.1 72.3,123.8 72.1,123.6 71.8,123.3 71.6,123.0 71.4,122.8 71.2,122.5 71.0,122.2 70.8,122.0 70.6,121.8 70.3,121.4 70.1,121.1 69.9,120.8 69.8,120.5 69.6,120.2 69.4,119.8 69.2,119.5 69.1,119.2 68.9,118.8 68.8,118.5 68.6,118.0 68.5,117.8 68.4,117.2 68.3,117.0 68.1,116.5 68.1,116.2 68.0,115.8 67.9,115.2 67.9,114.8 67.8,114.5 67.8,114.0 67.8,113.5 67.8,113.0 67.8,112.5 67.8,112.0 67.8,111.5 67.9,111.2 67.9,110.8 68.0,110.2 68.1,109.8 68.1,109.5 68.2,109.0 68.3,108.5 68.3,108.0 68.4,107.8 68.5,107.2 68.5,106.8 68.6,106.3 68.6,106.0 68.7,105.5 68.8,105.0 68.9,104.8 69.0,104.2 69.1,103.8 69.1,103.5 69.3,103.0 69.3,102.7 69.5,102.2 69.6,101.9 69.7,101.5 69.8,101.1 70.0,100.8 70.1,100.4 70.2,100.0 70.3,99.7 70.5,99.2 70.6,99.0 70.8,98.5 71.0,98.2 71.1,98.0 71.3,97.5 71.4,97.2 71.6,96.9 71.8,96.5 71.9,96.2 72.1,95.9 72.3,95.5 72.5,95.2 72.6,95.0 72.8,94.6 73.0,94.2 73.2,94.0 73.3,93.7 73.6,93.3 73.8,93.0 74.0,92.8 74.1,92.5 74.3,92.1 74.6,91.8 74.7,91.5 74.9,91.2 75.1,90.9 75.3,90.5 75.5,90.2 75.7,90.0 75.8,89.7 76.1,89.2 76.2,89.0 76.4,88.8 76.6,88.2 76.7,88.0 76.8,87.6 77.0,87.2 77.1,86.8 77.1,86.5 77.2,86.0 77.3,85.5 77.3,85.0 77.2,84.5 77.2,84.0 77.1,83.7 77.0,83.2 76.8,83.0 76.6,82.5 76.5,82.2 76.3,81.9 76.1,81.5 75.9,81.2 75.8,81.0 75.6,80.7 75.3,80.3 75.1,80.0 74.9,79.8 74.8,79.5 74.6,79.2 74.3,78.9 74.1,78.5 73.9,78.2 73.7,78.0 73.6,77.8 73.3,77.4 73.1,77.0 73.0,76.8 72.8,76.5 72.6,76.1 72.4,75.8 72.3,75.5 72.1,75.1 71.9,74.8 71.8,74.5 71.6,74.0 71.5,73.8 71.3,73.3 71.3,73.0 71.1,72.5 71.0,72.2 70.9,71.8 70.8,71.4 70.8,71.0 70.7,70.5 70.7,70.0 70.6,69.5 70.6,69.0 70.6,68.5 70.7,68.0 70.7,67.5 70.8,67.0 70.8,66.5 70.9,66.2 71.0,65.8 71.1,65.4 71.2,65.0 71.3,64.6 71.5,64.2 71.6,64.0 71.8,63.5 71.9,63.2 72.1,62.9 72.3,62.5 72.4,62.2 72.6,62.0 72.8,61.6 73.1,61.2 73.2,61.0 73.4,60.7 73.6,60.5 73.8,60.2 74.1,59.9 74.3,59.6 74.6,59.3 74.8,59.1 75.1,58.8 75.3,58.6 75.6,58.3 75.8,58.1 76.1,57.9 76.3,57.7 76.6,57.5 76.9,57.2 77.3,57.0 77.6,56.8 77.8,56.6 78.1,56.4 78.4,56.2 78.8,56.0 79.1,55.9 79.3,55.7 79.8,55.5 80.1,55.3 80.3,55.2 80.8,55.0 81.1,54.9 81.4,54.8 81.8,54.6 82.1,54.5 82.6,54.3 82.8,54.2 83.2,54.0 83.6,53.9 83.9,53.8 84.3,53.6 84.6,53.4 85.0,53.2 85.3,53.1 85.6,53.0 86.0,52.8 86.3,52.5 86.6,52.4 86.8,52.2 87.1,52.0 87.4,51.8 87.6,51.5 87.9,51.2 88.1,51.0 88.3,50.7 88.6,50.5 88.8,50.2 89.1,49.9 89.3,49.7 89.6,49.4 89.8,49.2 90.2,49.0 90.6,48.8 90.8,48.6 91.3,48.5ZM133.7,142.5 133.8,142.0 133.9,141.8 134.0,141.2 134.1,140.9 134.3,140.5 134.4,140.2 134.6,139.8 134.8,139.5 135.0,139.2 135.2,139.0 135.4,138.8 135.7,138.5 136.1,138.3 136.3,138.2 136.8,138.2 137.1,138.5 137.3,138.8 137.4,139.0 137.6,139.4 137.7,139.8 137.8,140.2 137.9,140.5 138.0,141.0 138.1,141.5 138.1,141.8 138.2,142.2M144.8,142.5 144.8,142.0 144.8,141.5 144.9,141.2 144.9,140.8 145.0,140.2 145.1,139.8 145.2,139.5 145.3,139.0 145.3,138.5 145.3,138.0 145.1,137.6 144.8,137.4 144.6,137.2 144.1,137.0 143.8,136.9 143.3,136.8 143.1,136.7 142.6,136.7 142.1,136.6 141.6,136.5 141.1,136.5 140.6,136.5 140.1,136.5 139.6,136.5 139.1,136.5 138.6,136.6 138.1,136.6 137.6,136.5 137.3,136.4 137.1,136.2 136.8,136.0 136.6,135.7 136.3,135.3 136.1,135.0 136.0,134.8 135.8,134.5 135.6,134.2 135.3,133.8 135.2,133.5 135.0,133.2 134.8,133.0 134.6,132.6 134.4,132.2 134.2,132.0 134.1,131.8 133.8,131.4 133.6,131.0 133.5,130.8 133.3,130.5 133.1,130.1 132.9,129.8 132.8,129.5 132.6,129.2 132.3,128.8 132.2,128.5 132.1,128.2 131.9,127.8 131.7,127.5 131.6,127.2 131.4,126.8 131.3,126.5 131.1,126.0 131.0,125.8 130.8,125.4 130.7,125.0 130.6,124.7 130.5,124.2 130.3,123.9 130.2,123.5 130.1,123.0 130.0,122.8 129.9,122.2 129.8,121.9 129.8,121.5 129.7,121.0 129.6,120.5 129.6,120.2 129.5,119.8 129.5,119.2 129.4,118.8 129.4,118.3 129.4,117.8 129.3,117.5 129.3,117.0 129.3,116.5 129.4,116.2 129.4,115.7 129.4,115.3 129.4,114.8 129.5,114.2 129.5,113.8 129.6,113.2 129.6,113.0 129.7,112.5 129.7,112.0 129.8,111.5 129.8,111.0 129.8,110.7 129.9,110.2 129.9,109.8 130.0,109.2 130.0,108.8 130.1,108.2 130.1,108.0 130.2,107.5 130.2,107.0 130.3,106.5 130.3,106.1 130.4,105.8 130.5,105.2 130.6,104.8 130.6,104.5 130.7,104.0 130.8,103.5 130.9,103.3 131.0,102.8 131.1,102.3 131.2,102.0 131.3,101.5 131.4,101.2 131.5,100.8 131.6,100.5 131.7,100.0 131.8,99.7 132.0,99.2 132.1,99.0 132.3,98.5 132.4,98.2 132.6,97.8 132.7,97.5 132.9,97.1 133.0,96.8 133.1,96.5 133.3,96.0 133.5,95.8 133.6,95.5 133.8,95.0 134.0,94.8 134.2,94.5 134.3,94.2 134.6,93.8 134.8,93.5 135.0,93.2 135.2,93.0 135.4,92.7 135.6,92.4 135.8,92.1 136.1,91.9 136.3,91.6 136.6,91.3 136.8,91.1 137.1,90.9 137.3,90.7 137.6,90.5 137.9,90.2 138.3,90.0 138.6,89.8 138.8,89.7 139.2,89.5 139.6,89.3 139.8,89.2 140.3,89.1 140.7,89.0 141.1,88.9 141.6,88.9 142.1,88.9 142.6,88.9 143.1,89.0 143.3,89.0 143.8,89.2 144.1,89.3 144.6,89.5 144.8,89.6 145.2,89.8 145.6,90.0 145.8,90.2 146.1,90.3 146.3,90.5 146.6,90.8 146.9,91.0 147.2,91.2 147.4,91.5 147.7,91.8 147.9,92.0 148.1,92.2 148.3,92.6 148.6,92.9 148.8,93.2 149.0,93.5 149.2,93.8 149.4,94.0 149.6,94.4 149.8,94.8 150.0,95.0 150.1,95.2 150.3,95.7 150.5,96.0 150.6,96.2 150.8,96.8 151.0,97.0 151.1,97.3 151.3,97.8 151.4,98.0 151.6,98.5 151.7,98.8 151.8,99.2 151.9,99.5 152.1,100.0 152.2,100.2 152.3,100.7 152.4,101.0 152.5,101.5 152.6,101.8 152.7,102.2 152.8,102.7 152.9,103.0 153.0,103.5 153.1,103.8 153.2,104.2 153.3,104.8 153.3,105.0 153.4,105.5 153.5,106.0 153.6,106.5 153.6,106.8 153.7,107.2 153.8,107.8 153.8,108.2 153.8,108.6 153.9,109.0 153.9,109.5 154.0,110.0 154.1,110.5 154.1,110.9 154.1,111.2 154.2,111.8 154.3,112.2 154.3,112.8 154.3,113.1 154.4,113.5 154.4,114.0 154.5,114.5 154.5,115.0 154.6,115.5 154.6,116.0 154.6,116.3 154.6,116.8 154.6,117.2 154.6,117.5 154.6,118.0 154.6,118.5 154.5,119.0 154.5,119.5 154.4,120.0 154.3,120.5 154.3,120.8 154.2,121.2 154.1,121.8 154.1,122.0 154.0,122.5 153.8,122.9 153.8,123.2 153.6,123.8 153.5,124.0 153.4,124.5 153.3,124.8 153.1,125.2 153.0,125.5 152.8,126.0 152.7,126.2 152.6,126.5 152.4,127.0 152.3,127.2 152.1,127.6 151.9,128.0 151.8,128.2 151.6,128.6 151.4,129.0 151.2,129.2 151.1,129.5 150.8,129.9 150.7,130.2 150.5,130.5 150.3,130.8 150.1,131.1 149.9,131.5 149.7,131.8 149.5,132.0 149.3,132.3 149.1,132.7 148.9,133.0 148.7,133.2 148.6,133.5 148.3,133.9 148.1,134.2 147.9,134.5 147.8,134.8 147.6,135.1 147.4,135.5 147.3,135.8 147.1,136.2 147.0,136.5 146.9,137.0 147.1,137.5 147.2,137.8 147.4,138.0 147.6,138.3 147.8,138.6 148.1,139.0 148.2,139.2 148.4,139.5 148.6,140.0 148.7,140.2 148.8,140.6 149.0,141.0 149.1,141.4 149.2,141.8 149.3,142.2M91.4,50.8 91.8,50.6 92.3,50.6 92.8,50.7 93.1,50.9 93.3,51.2 93.6,51.5 93.7,51.8 93.9,52.0 94.0,52.5 94.1,52.8 94.2,53.2 94.3,53.8 94.3,54.1 94.4,54.5 94.4,55.0 94.4,55.5 94.4,56.0 94.5,56.5 94.5,57.0 94.6,57.5 94.6,57.8 94.7,58.2 94.8,58.7 94.9,59.0 95.1,59.5 95.2,59.8 95.3,60.2 95.4,60.5 95.6,60.9 95.7,61.2 95.8,61.6 96.0,62.0 96.1,62.3 96.3,62.8 96.4,63.0 96.5,63.5 96.6,63.8 96.8,64.2 96.8,64.6 97.0,65.0 97.1,65.5 97.1,65.8 97.2,66.2 97.3,66.8 97.4,67.0 97.4,67.5 97.5,68.0 97.5,68.5 97.5,69.0 97.5,69.5 97.5,70.0 97.5,70.5 97.4,71.0 97.3,71.5 97.3,71.8 97.2,72.2 97.1,72.7 97.0,73.0 96.9,73.5 96.8,73.8 96.7,74.2 96.6,74.5 96.4,75.0 96.3,75.2 96.1,75.7 96.0,76.0 95.8,76.3 95.6,76.8 95.5,77.0 95.3,77.3 95.1,77.8 95.0,78.0 94.8,78.3 94.7,78.8 94.5,79.0 94.3,79.5 94.3,79.8 94.1,80.2 94.0,80.5 94.0,81.0 94.0,81.5 94.0,82.0 94.1,82.2 94.3,82.8 94.4,83.0 94.6,83.5 94.7,83.8 94.9,84.0 95.1,84.4 95.3,84.8 95.4,85.0 95.6,85.3 95.8,85.7 96.0,86.0 96.1,86.2 96.3,86.6 96.6,87.0 96.7,87.2 96.9,87.5 97.1,87.9 97.3,88.3 97.5,88.5 97.6,88.8 97.8,89.1 98.1,89.5 98.2,89.8 98.4,90.0 98.6,90.3 98.8,90.7 99.0,91.0 99.2,91.2 99.3,91.5 99.6,91.9 99.8,92.2 100.0,92.5 100.1,92.8 100.3,93.1 100.6,93.5 100.8,93.8 101.0,94.0 101.1,94.2 101.3,94.6 101.6,94.9 101.8,95.2 102.0,95.5 102.2,95.8 102.4,96.0 102.6,96.3 102.8,96.6 103.1,96.9 103.3,97.2 103.6,97.4 103.8,97.7 104.1,97.9 104.3,98.2 104.6,98.4 104.8,98.7 105.0,99.0 104.9,99.5 104.8,99.9 104.8,100.2 104.7,100.8 104.6,101.2 104.6,101.8 104.6,102.0 104.6,102.5 104.6,103.0 104.6,103.5 104.6,103.8 104.6,104.2 104.6,104.8 104.6,105.2 104.6,105.8 104.7,106.2 104.7,106.8 104.7,107.2 104.7,107.8 104.7,108.2 104.8,108.8 104.8,109.2 104.8,109.8 104.9,110.0 104.9,110.5 105.0,111.0 105.0,111.5 105.0,112.0 105.0,112.5 105.0,113.0 105.0,113.5 105.0,114.0 104.9,114.5 104.8,114.9 104.8,115.2 104.7,115.8 104.6,116.2 104.5,116.5 104.4,117.0 104.3,117.3 104.1,117.8 104.0,118.0 103.8,118.4 103.7,118.8 103.6,119.0 103.3,119.4 103.2,119.8 103.0,120.0 102.8,120.3 102.6,120.7 102.4,121.0 102.2,121.2 102.0,121.5 101.8,121.8 101.6,122.0 101.3,122.3 101.1,122.6 100.8,122.8 100.6,123.1 100.3,123.3 100.1,123.6 99.8,123.8 99.6,124.0 99.3,124.2 99.0,124.5 98.7,124.8 98.3,125.0 98.1,125.2 97.8,125.3 97.6,125.5 97.2,125.8 96.8,125.9 96.6,126.1 96.3,126.2 95.8,126.5 95.6,126.6 95.3,126.8 94.8,126.9 94.6,127.1 94.1,127.2 93.8,127.3 93.4,127.5 93.1,127.6 92.6,127.8 92.3,127.8 91.8,128.0 91.6,128.0 91.1,128.2 90.6,128.2 90.3,128.3 89.8,128.4 89.3,128.5 89.1,128.5 88.6,128.6 88.1,128.6 87.6,128.6 87.1,128.6 86.6,128.7 86.1,128.6 85.6,128.6 85.1,128.6 84.6,128.6 84.1,128.5 83.8,128.5 83.3,128.4 82.8,128.3 82.4,128.2 82.1,128.2 81.6,128.1 81.3,128.0 80.8,127.9 80.4,127.8 80.1,127.6 79.7,127.5 79.3,127.4 79.0,127.2 78.6,127.1 78.3,127.0 77.9,126.8 77.6,126.6 77.3,126.5 76.9,126.2 76.6,126.1 76.3,126.0 76.0,125.8 75.6,125.5 75.3,125.3 75.1,125.2 74.8,125.0 74.6,124.8 74.2,124.5 73.9,124.2 73.6,124.0 73.4,123.8 73.1,123.5 72.8,123.3 72.6,123.0 72.4,122.8 72.1,122.5 71.9,122.2 71.7,122.0 71.5,121.8 71.3,121.5 71.1,121.2 70.8,120.8 70.6,120.5 70.5,120.2 70.3,120.0 70.1,119.5 70.0,119.2 69.8,119.0 69.6,118.5 69.5,118.2 69.3,117.8 69.2,117.5 69.1,117.1 69.0,116.8 68.9,116.2 68.8,116.0 68.7,115.5 68.6,115.0 68.6,114.7 68.6,114.2 68.5,113.8 68.5,113.2 68.5,112.8 68.5,112.2 68.6,111.8 68.6,111.4 68.6,111.0 68.7,110.5 68.8,110.0 68.8,109.5 68.9,109.2 69.0,108.8 69.0,108.2 69.1,107.8 69.1,107.5 69.2,107.0 69.3,106.5 69.3,106.1 69.4,105.8 69.5,105.2 69.6,104.8 69.6,104.5 69.7,104.0 69.8,103.6 69.9,103.2 70.1,102.8 70.1,102.5 70.3,102.0 70.4,101.8 70.5,101.2 70.6,101.0 70.8,100.5 70.9,100.2 71.1,99.8 71.2,99.5 71.3,99.2 71.5,98.8 71.7,98.5 71.8,98.1 72.0,97.8 72.1,97.5 72.3,97.1 72.5,96.8 72.7,96.5 72.8,96.2 73.1,95.8 73.3,95.5 73.4,95.2 73.6,94.9 73.8,94.6 74.0,94.2 74.2,94.0 74.4,93.8 74.6,93.4 74.8,93.1 75.1,92.8 75.3,92.5 75.5,92.2 75.7,92.0 75.9,91.8 76.1,91.4 76.3,91.1 76.6,90.8 76.8,90.5 77.0,90.2 77.2,90.0 77.4,89.8 77.6,89.5 77.8,89.2 78.1,88.8 78.3,88.5 78.5,88.2 78.7,88.0 78.8,87.7 79.1,87.3 79.2,87.0 79.4,86.7 79.6,86.2 79.7,86.0 79.8,85.5 79.9,85.2 80.0,84.8 80.0,84.2 80.1,83.8 80.0,83.2 79.8,82.8 79.8,82.5 79.6,82.2 79.4,81.7 79.2,81.5 79.0,81.2 78.8,81.0 78.6,80.7 78.3,80.4 78.1,80.1 77.8,79.9 77.6,79.6 77.3,79.3 77.1,79.0 76.9,78.8 76.7,78.5 76.5,78.2 76.3,78.0 76.1,77.8 75.8,77.5 75.6,77.2 75.3,76.8 75.1,76.5 75.0,76.2 74.8,76.0 74.6,75.7 74.3,75.3 74.2,75.0 74.1,74.8 73.8,74.3 73.7,74.0 73.6,73.8 73.4,73.2 73.3,73.0 73.1,72.6 73.0,72.2 72.9,71.8 72.8,71.5 72.7,71.0 72.6,70.6 72.5,70.2 72.5,69.8 72.4,69.2 72.4,68.8 72.4,68.2 72.5,67.8 72.5,67.2 72.6,66.8 72.6,66.5 72.7,66.0 72.8,65.5 72.9,65.2 73.1,64.8 73.2,64.5 73.3,64.1 73.5,63.8 73.6,63.5 73.8,63.1 74.0,62.8 74.2,62.5 74.3,62.2 74.6,61.9 74.8,61.5 75.1,61.2 75.3,61.0 75.5,60.8 75.7,60.5 75.9,60.2 76.2,60.0 76.4,59.8 76.7,59.5 77.0,59.2 77.3,59.0 77.6,58.8 77.8,58.6 78.1,58.4 78.4,58.3 78.8,58.0 79.1,57.8 79.3,57.7 79.7,57.5 80.1,57.3 80.3,57.2 80.7,57.0 81.1,56.8 81.3,56.7 81.8,56.6 82.1,56.5 82.6,56.3 82.8,56.2 83.3,56.1 83.8,56.0 84.1,55.9 84.6,55.8 84.8,55.7 85.3,55.6 85.8,55.5 86.1,55.4 86.6,55.3 86.8,55.2 87.3,55.1 87.6,55.0 88.1,54.8 88.3,54.6 88.6,54.5 88.9,54.2 89.2,54.0 89.4,53.8 89.6,53.4 89.8,53.0 90.0,52.8 90.1,52.5 90.3,52.1 90.5,51.8 90.7,51.5 90.9,51.2 91.1,51.0 91.4,50.8ZM140.6,90.0 141.1,89.9 141.6,89.9 142.1,89.9 142.6,89.9 143.1,90.0 143.3,90.0 143.8,90.2 144.1,90.3 144.6,90.5 144.8,90.6 145.1,90.8 145.6,91.0 145.8,91.2 146.1,91.4 146.3,91.6 146.6,91.8 146.8,92.0 147.1,92.3 147.3,92.5 147.6,92.8 147.8,93.1 148.1,93.4 148.3,93.7 148.5,94.0 148.7,94.2 148.9,94.5 149.1,94.8 149.3,95.2 149.5,95.5 149.6,95.8 149.8,96.2 150.0,96.5 150.1,96.8 150.3,97.2 150.5,97.5 150.6,97.8 150.8,98.2 150.9,98.5 151.1,99.0 151.2,99.2 151.3,99.7 151.5,100.0 151.6,100.4 151.7,100.8 151.8,101.2 151.9,101.5 152.1,102.0 152.1,102.2 152.3,102.8 152.3,103.1 152.4,103.5 152.6,104.0 152.6,104.2 152.7,104.8 152.8,105.2 152.8,105.5 152.9,106.0 153.0,106.5 153.1,107.0 153.1,107.3 153.2,107.8 153.2,108.2 153.3,108.8 153.3,109.2 153.3,109.7 153.4,110.0 153.4,110.5 153.5,111.0 153.5,111.5 153.6,112.0 153.6,112.2 153.7,112.8 153.7,113.2 153.8,113.8 153.8,114.2 153.8,114.5 153.9,115.0 153.9,115.5 153.9,116.0 153.9,116.5 153.9,117.0 153.9,117.5 153.9,118.0 153.9,118.5 153.8,118.8 153.8,119.2 153.7,119.8 153.7,120.2 153.6,120.6 153.5,121.0 153.4,121.5 153.3,121.8 153.2,122.2 153.1,122.8 153.0,123.0 152.9,123.5 152.8,123.8 152.6,124.2 152.5,124.5 152.3,124.9 152.2,125.2 152.1,125.5 151.9,126.0 151.8,126.2 151.6,126.6 151.4,127.0 151.2,127.2 151.1,127.5 150.8,127.9 150.7,128.2 150.5,128.5 150.3,128.8 150.1,129.1 149.8,129.4 149.6,129.8 149.4,130.0 149.2,130.2 149.0,130.5 148.8,130.8 148.6,131.0 148.3,131.2 148.1,131.5 147.8,131.8 147.6,132.0 147.3,132.2 147.0,132.5 146.6,132.8 146.3,132.9 146.1,133.1 145.8,133.2 145.3,133.5 145.1,133.6 144.6,133.7 144.3,133.8 143.8,133.9 143.3,133.9 142.8,134.0 142.3,134.0 141.8,134.0 141.3,134.0 140.8,133.9 140.3,133.8 139.9,133.8 139.6,133.7 139.1,133.6 138.8,133.5 138.3,133.3 138.1,133.2 137.8,133.0 137.3,132.8 137.1,132.6 136.8,132.4 136.6,132.2 136.3,132.0 136.1,131.8 135.8,131.5 135.5,131.2 135.3,131.0 135.1,130.8 134.8,130.5 134.6,130.2 134.3,129.8 134.1,129.5 133.9,129.2 133.7,129.0 133.6,128.8 133.4,128.4 133.1,128.0 133.0,127.8 132.8,127.5 132.6,127.1 132.4,126.8 132.3,126.5 132.1,126.1 131.9,125.8 131.8,125.5 131.6,125.0 131.5,124.8 131.3,124.3 131.2,124.0 131.1,123.6 131.0,123.2 130.9,122.8 130.8,122.5 130.7,122.0 130.6,121.8 130.5,121.2 130.4,120.8 130.3,120.5 130.3,120.0 130.2,119.5 130.1,119.0 130.1,118.5 130.1,118.2 130.0,117.8 130.0,117.2 130.0,116.8 130.0,116.2 130.0,115.8 130.1,115.2 130.1,114.8 130.1,114.5 130.2,114.0 130.2,113.5 130.3,113.0 130.3,112.5 130.3,112.1 130.4,111.8 130.4,111.2 130.5,110.8 130.5,110.2 130.6,109.8 130.6,109.5 130.7,109.0 130.7,108.5 130.7,108.0 130.8,107.5 130.8,107.1 130.9,106.8 131.0,106.2 131.0,105.8 131.1,105.4 131.2,105.0 131.3,104.5 131.3,104.0 131.4,103.8 131.5,103.2 131.6,102.9 131.7,102.5 131.8,102.0 131.9,101.8 132.0,101.2 132.1,101.0 132.3,100.5 132.3,100.2 132.5,99.8 132.6,99.5 132.8,99.0 132.9,98.8 133.1,98.2 133.2,98.0 133.3,97.6 133.5,97.2 133.6,97.0 133.8,96.5 134.0,96.2 134.1,96.0 134.3,95.6 134.5,95.2 134.7,95.0 134.8,94.7 135.1,94.4 135.3,94.0 135.5,93.8 135.7,93.5 135.9,93.2 136.1,93.0 136.4,92.8 136.6,92.5 136.8,92.2 137.1,92.0 137.4,91.8 137.7,91.5 138.0,91.2 138.3,91.0 138.6,90.8 138.8,90.7 139.2,90.5 139.6,90.3 139.8,90.2 140.3,90.1 140.6,90.0ZM84.0,58.0 84.3,58.0 84.8,57.9 85.3,57.9 85.8,57.9 86.3,57.9 86.8,57.9 87.3,57.9 87.8,57.9 88.3,58.0 88.6,58.0 89.1,58.1 89.6,58.2 89.8,58.3 90.3,58.5 90.6,58.6 90.9,58.8 91.3,59.0 91.6,59.2 91.8,59.5 92.1,59.7 92.3,60.0 92.6,60.2 92.8,60.5 93.0,60.8 93.1,61.0 93.3,61.3 93.6,61.7 93.8,62.0 93.9,62.2 94.1,62.6 94.3,63.0 94.5,63.2 94.6,63.5 94.8,64.0 94.9,64.2 95.1,64.7 95.2,65.0 95.3,65.4 95.4,65.8 95.6,66.2 95.6,66.5 95.8,67.0 95.8,67.5 95.9,67.8 95.9,68.2 96.0,68.8 96.0,69.2 96.0,69.8 95.9,70.2 95.9,70.8 95.8,71.1 95.8,71.5 95.7,72.0 95.6,72.3 95.5,72.8 95.3,73.2 95.2,73.5 95.1,73.9 94.9,74.2 94.8,74.5 94.6,75.0 94.4,75.2 94.3,75.5 94.1,75.9 93.9,76.2 93.7,76.5 93.5,76.8 93.3,77.0 93.1,77.3 92.8,77.7 92.6,78.0 92.4,78.2 92.2,78.5 92.0,78.8 91.7,79.0 91.5,79.2 91.3,79.5 91.1,79.8 90.8,80.1 90.6,80.5 90.4,80.8 90.3,81.0 90.2,81.5 90.3,82.0 90.4,82.2 90.6,82.5 90.8,82.8 91.1,83.1 91.3,83.4 91.6,83.6 91.8,83.8 92.1,84.1 92.3,84.3 92.6,84.6 92.8,84.8 93.1,85.1 93.3,85.4 93.6,85.7 93.8,86.0 94.1,86.2 94.3,86.5 94.5,86.8 94.7,87.0 94.9,87.2 95.1,87.5 95.3,87.8 95.6,88.1 95.8,88.4 96.1,88.8 96.3,89.0 96.5,89.2 96.6,89.5 96.8,89.8 97.1,90.1 97.3,90.5 97.5,90.8 97.7,91.0 97.9,91.2 98.1,91.5 98.3,91.9 98.6,92.2 98.8,92.5 98.9,92.8 99.1,93.0 99.3,93.4 99.6,93.8 99.8,94.0 99.9,94.2 100.1,94.5 100.3,94.9 100.6,95.3 100.7,95.5 100.9,95.8 101.1,96.1 101.3,96.4 101.6,96.8 101.7,97.0 101.9,97.2 102.1,97.6 102.3,98.0 102.5,98.2 102.6,98.5 102.8,99.0 103.0,99.2 103.1,99.6 103.2,100.0 103.3,100.5 103.4,100.8 103.4,101.2 103.5,101.8 103.6,102.2 103.6,102.6 103.6,103.0 103.7,103.5 103.7,104.0 103.8,104.5 103.8,105.0 103.8,105.5 103.9,105.8 103.9,106.2 103.9,106.8 103.9,107.2 104.0,107.8 104.0,108.2 104.1,108.8 104.1,109.2 104.1,109.5 104.2,110.0 104.2,110.5 104.3,111.0 104.3,111.5 104.3,112.0 104.3,112.5 104.3,113.0 104.3,113.5 104.3,114.0 104.2,114.5 104.1,115.0 104.1,115.2 104.0,115.8 103.9,116.2 103.8,116.5 103.6,117.0 103.5,117.2 103.4,117.8 103.3,118.0 103.1,118.3 102.9,118.8 102.8,119.0 102.6,119.3 102.4,119.8 102.2,120.0 102.0,120.2 101.8,120.5 101.6,120.9 101.3,121.2 101.1,121.5 100.9,121.8 100.7,122.0 100.5,122.2 100.2,122.5 100.0,122.8 99.7,123.0 99.4,123.2 99.2,123.5 98.9,123.8 98.6,124.0 98.3,124.2 98.1,124.3 97.8,124.5 97.5,124.8 97.1,125.0 96.8,125.2 96.6,125.3 96.3,125.5 95.8,125.7 95.6,125.9 95.3,126.0 94.8,126.2 94.6,126.3 94.2,126.5 93.8,126.6 93.6,126.8 93.1,126.9 92.8,127.0 92.3,127.2 92.0,127.2 91.6,127.4 91.1,127.5 90.8,127.5 90.3,127.6 89.8,127.7 89.6,127.8 89.1,127.8 88.6,127.9 88.1,127.9 87.6,128.0 87.1,128.0 86.6,128.0 86.1,128.0 85.6,128.0 85.1,127.9 84.6,127.9 84.1,127.8 83.6,127.8 83.3,127.7 82.8,127.6 82.3,127.5 82.1,127.5 81.6,127.4 81.2,127.2 80.8,127.2 80.4,127.0 80.1,126.9 79.7,126.8 79.3,126.6 79.0,126.5 78.6,126.3 78.3,126.2 77.9,126.0 77.6,125.8 77.3,125.7 77.0,125.5 76.6,125.3 76.3,125.1 76.1,125.0 75.8,124.8 75.4,124.5 75.1,124.3 74.8,124.1 74.6,123.9 74.3,123.7 74.1,123.4 73.8,123.2 73.6,123.0 73.3,122.7 73.1,122.5 72.8,122.2 72.6,121.9 72.3,121.6 72.1,121.3 71.9,121.0 71.7,120.8 71.5,120.5 71.3,120.2 71.1,119.8 70.9,119.5 70.8,119.2 70.6,118.9 70.4,118.5 70.3,118.2 70.1,117.8 70.0,117.5 69.9,117.0 69.8,116.8 69.6,116.2 69.6,116.0 69.5,115.5 69.4,115.0 69.3,114.7 69.3,114.2 69.3,113.8 69.2,113.2 69.2,112.8 69.3,112.2 69.3,111.8 69.3,111.2 69.4,111.0 69.4,110.5 69.5,110.0 69.6,109.5 69.6,109.2 69.7,108.8 69.7,108.2 69.8,107.8 69.9,107.5 69.9,107.0 70.0,106.5 70.1,106.0 70.1,105.7 70.2,105.2 70.3,104.8 70.3,104.4 70.4,104.0 70.6,103.5 70.6,103.2 70.8,102.8 70.9,102.5 71.0,102.0 71.1,101.7 71.3,101.2 71.4,101.0 71.5,100.5 71.6,100.2 71.8,99.8 72.0,99.5 72.1,99.2 72.3,98.8 72.4,98.5 72.6,98.2 72.8,97.8 72.9,97.5 73.1,97.2 73.3,96.8 73.5,96.5 73.7,96.2 73.8,96.0 74.1,95.6 74.3,95.2 74.5,95.0 74.7,94.8 74.8,94.5 75.1,94.1 75.3,93.8 75.6,93.5 75.8,93.2 76.0,93.0 76.2,92.8 76.4,92.5 76.7,92.2 76.9,92.0 77.1,91.8 77.4,91.5 77.6,91.2 77.8,91.0 78.1,90.7 78.3,90.5 78.6,90.2 78.8,90.0 79.1,89.7 79.3,89.5 79.6,89.2 79.8,88.9 80.1,88.7 80.3,88.4 80.6,88.1 80.8,87.8 81.1,87.5 81.3,87.2 81.5,87.0 81.7,86.8 81.9,86.5 82.1,86.2 82.3,85.8 82.6,85.5 82.7,85.2 82.9,85.0 83.1,84.6 83.3,84.2 83.5,84.0 83.6,83.7 83.8,83.2 83.9,83.0 83.9,82.5 83.8,82.2 83.6,81.8 83.4,81.5 83.1,81.2 82.8,81.0 82.6,80.8 82.3,80.6 82.1,80.5 81.8,80.2 81.5,80.0 81.1,79.8 80.8,79.5 80.6,79.4 80.3,79.2 80.1,79.0 79.8,78.8 79.5,78.5 79.2,78.2 79.0,78.0 78.7,77.8 78.4,77.5 78.2,77.2 77.9,77.0 77.7,76.8 77.5,76.5 77.3,76.2 77.1,76.0 76.8,75.7 76.6,75.4 76.3,75.0 76.2,74.8 76.0,74.5 75.8,74.2 75.6,73.8 75.5,73.5 75.4,73.2 75.1,72.8 75.0,72.5 74.8,72.0 74.8,71.8 74.6,71.2 74.5,71.0 74.4,70.5 74.3,70.1 74.3,69.8 74.2,69.2 74.2,68.8 74.2,68.2 74.2,67.8 74.3,67.2 74.3,66.8 74.4,66.5 74.5,66.0 74.6,65.6 74.7,65.2 74.8,64.8 75.0,64.5 75.1,64.2 75.3,63.8 75.5,63.5 75.6,63.2 75.8,62.9 76.1,62.5 76.3,62.2 76.5,62.0 76.7,61.8 76.9,61.5 77.2,61.2 77.4,61.0 77.7,60.8 78.0,60.5 78.3,60.2 78.6,60.0 78.8,59.9 79.1,59.7 79.5,59.5 79.8,59.3 80.1,59.2 80.4,59.0 80.8,58.8 81.1,58.7 81.6,58.5 81.8,58.5 82.3,58.3 82.6,58.2 83.1,58.1 83.6,58.1 84.0,58.0ZM140.6,91.0 140.8,90.9 141.3,90.9 141.8,90.8 142.3,90.8 142.8,90.9 143.3,91.0 143.6,91.1 144.1,91.2 144.3,91.3 144.7,91.5 145.1,91.7 145.3,91.9 145.6,92.1 145.9,92.2 146.2,92.5 146.5,92.8 146.7,93.0 147.0,93.2 147.2,93.5 147.4,93.8 147.6,94.0 147.8,94.3 148.1,94.6 148.3,95.0 148.5,95.3 148.7,95.5 148.9,95.8 149.1,96.2 149.3,96.5 149.4,96.8 149.6,97.1 149.8,97.5 149.9,97.8 150.1,98.1 150.3,98.5 150.4,98.8 150.6,99.2 150.7,99.5 150.8,100.0 150.9,100.2 151.1,100.7 151.2,101.0 151.3,101.5 151.4,101.8 151.5,102.2 151.6,102.5 151.7,103.0 151.8,103.5 151.9,103.8 152.0,104.2 152.1,104.7 152.2,105.0 152.3,105.5 152.3,106.0 152.4,106.2 152.4,106.8 152.5,107.2 152.6,107.8 152.6,108.2 152.6,108.5 152.7,109.0 152.7,109.5 152.8,110.0 152.8,110.5 152.8,110.8 152.9,111.2 152.9,111.8 153.0,112.2 153.0,112.8 153.1,113.2 153.1,113.5 153.2,114.0 153.2,114.5 153.2,115.0 153.3,115.5 153.3,116.0 153.3,116.5 153.3,117.0 153.3,117.5 153.2,118.0 153.2,118.5 153.1,119.0 153.1,119.2 153.0,119.7 152.9,120.2 152.8,120.7 152.8,121.0 152.7,121.5 152.6,121.8 152.5,122.2 152.3,122.6 152.2,123.0 152.1,123.4 152.0,123.8 151.8,124.0 151.6,124.5 151.5,124.8 151.3,125.1 151.2,125.5 151.0,125.8 150.8,126.1 150.6,126.5 150.5,126.8 150.3,127.0 150.1,127.3 149.8,127.7 149.6,128.0 149.4,128.2 149.2,128.5 149.0,128.8 148.8,129.0 148.6,129.2 148.3,129.5 148.1,129.8 147.8,130.0 147.5,130.2 147.2,130.5 146.9,130.8 146.6,131.0 146.3,131.1 146.1,131.3 145.7,131.5 145.3,131.7 145.1,131.8 144.6,131.9 144.3,132.0 143.9,132.1 143.3,132.2 143.1,132.3 142.6,132.3 142.1,132.3 141.6,132.3 141.1,132.3 140.9,132.2 140.3,132.2 139.8,132.0 139.6,132.0 139.1,131.8 138.8,131.7 138.3,131.5 138.1,131.4 137.8,131.2 137.4,131.0 137.1,130.8 136.8,130.6 136.6,130.4 136.3,130.2 136.1,130.0 135.8,129.8 135.6,129.5 135.3,129.2 135.1,129.0 134.8,128.7 134.6,128.4 134.3,128.1 134.1,127.8 134.0,127.5 133.8,127.2 133.6,127.0 133.3,126.5 133.2,126.2 133.0,126.0 132.8,125.6 132.7,125.2 132.5,125.0 132.3,124.6 132.2,124.2 132.1,124.0 131.9,123.5 131.8,123.2 131.7,122.7 131.6,122.5 131.4,122.0 131.3,121.7 131.2,121.2 131.1,120.8 131.1,120.5 131.0,120.0 130.9,119.5 130.9,119.0 130.8,118.8 130.8,118.2 130.7,117.8 130.7,117.2 130.7,116.8 130.7,116.2 130.7,115.8 130.7,115.2 130.7,114.8 130.8,114.2 130.8,113.8 130.9,113.5 130.9,113.0 130.9,112.5 131.0,112.0 131.0,111.5 131.1,111.0 131.1,110.8 131.2,110.2 131.2,109.8 131.3,109.2 131.3,108.8 131.3,108.2 131.4,108.0 131.4,107.5 131.5,107.0 131.5,106.5 131.6,106.1 131.6,105.8 131.7,105.2 131.8,104.8 131.9,104.5 132.0,104.0 132.1,103.5 132.1,103.2 132.3,102.8 132.3,102.4 132.5,102.0 132.6,101.5 132.7,101.2 132.8,100.8 132.9,100.5 133.1,100.0 133.2,99.8 133.3,99.3 133.5,99.0 133.6,98.7 133.8,98.2 133.9,98.0 134.1,97.5 134.2,97.2 134.4,97.0 134.6,96.5 134.8,96.2 134.9,96.0 135.1,95.7 135.3,95.3 135.5,95.0 135.7,94.8 135.9,94.5 136.1,94.2 136.3,93.9 136.6,93.6 136.8,93.4 137.1,93.1 137.3,92.9 137.6,92.6 137.8,92.4 138.1,92.2 138.4,92.0 138.8,91.8 139.1,91.6 139.3,91.5 139.8,91.2 140.1,91.1 140.6,91.0ZM83.4,60.0 83.8,60.0 84.3,59.9 84.8,59.9 85.3,59.9 85.8,60.0 86.1,60.0 86.6,60.1 87.1,60.2 87.5,60.2 87.8,60.4 88.3,60.5 88.6,60.6 89.0,60.8 89.3,60.9 89.6,61.0 90.0,61.2 90.3,61.5 90.6,61.7 90.8,61.9 91.1,62.1 91.3,62.3 91.6,62.5 91.8,62.8 92.1,63.1 92.3,63.4 92.6,63.7 92.8,64.0 92.9,64.2 93.1,64.5 93.3,65.0 93.5,65.2 93.6,65.5 93.8,66.0 93.9,66.2 94.1,66.8 94.1,67.0 94.3,67.5 94.3,68.0 94.4,68.2 94.4,68.8 94.5,69.2 94.5,69.8 94.4,70.2 94.4,70.8 94.3,71.0 94.2,71.5 94.1,72.0 94.0,72.2 93.9,72.8 93.8,73.0 93.6,73.4 93.4,73.8 93.3,74.0 93.1,74.4 92.9,74.8 92.7,75.0 92.5,75.2 92.3,75.5 92.1,75.8 91.8,76.0 91.6,76.3 91.3,76.5 91.1,76.8 90.8,77.0 90.5,77.2 90.2,77.5 89.8,77.7 89.6,77.9 89.3,78.0 88.8,78.2 88.6,78.4 88.2,78.5 87.8,78.6 87.3,78.7 87.1,78.8 86.6,78.9 86.1,78.9 85.6,78.9 85.1,78.8 84.6,78.8 84.3,78.7 83.8,78.6 83.6,78.5 83.1,78.3 82.8,78.2 82.3,78.0 82.1,77.9 81.8,77.7 81.4,77.5 81.1,77.3 80.8,77.1 80.6,77.0 80.3,76.8 80.0,76.5 79.7,76.2 79.4,76.0 79.2,75.8 79.0,75.5 78.7,75.2 78.5,75.0 78.3,74.8 78.1,74.5 77.8,74.1 77.6,73.8 77.5,73.5 77.3,73.2 77.1,72.8 77.0,72.5 76.8,72.2 76.6,71.8 76.6,71.5 76.4,71.0 76.3,70.8 76.2,70.2 76.1,69.8 76.1,69.5 76.0,69.0 76.0,68.5 76.0,68.0 76.0,67.5 76.1,67.0 76.1,66.7 76.2,66.2 76.3,65.8 76.4,65.5 76.6,65.0 76.7,64.8 76.8,64.4 77.0,64.0 77.2,63.8 77.3,63.5 77.6,63.1 77.8,62.8 78.1,62.5 78.3,62.3 78.6,62.1 78.8,61.8 79.1,61.6 79.3,61.5 79.7,61.2 80.1,61.0 80.3,60.9 80.6,60.8 81.1,60.6 81.3,60.5 81.8,60.3 82.1,60.2 82.6,60.1 83.1,60.0 83.4,60.0ZM87.0,85.0 87.3,84.9 87.8,84.9 88.3,84.9 88.8,84.9 89.2,85.0 89.6,85.1 89.9,85.2 90.3,85.4 90.6,85.6 90.9,85.8 91.3,86.0 91.6,86.2 91.8,86.4 92.1,86.6 92.3,86.8 92.6,87.0 92.8,87.3 93.1,87.5 93.4,87.8 93.7,88.0 93.9,88.2 94.2,88.5 94.5,88.8 94.7,89.0 94.9,89.2 95.2,89.5 95.4,89.8 95.6,90.0 95.9,90.2 96.1,90.5 96.3,90.8 96.6,91.1 96.8,91.5 97.1,91.8 97.3,92.0 97.5,92.2 97.6,92.5 97.8,92.8 98.1,93.1 98.3,93.5 98.5,93.8 98.7,94.0 98.9,94.2 99.1,94.6 99.3,95.0 99.5,95.2 99.7,95.5 99.8,95.8 100.1,96.2 100.3,96.5 100.5,96.8 100.6,97.0 100.8,97.4 101.0,97.8 101.2,98.0 101.3,98.3 101.6,98.8 101.7,99.0 101.8,99.4 102.0,99.8 102.1,100.0 102.3,100.5 102.3,100.9 102.5,101.2 102.6,101.8 102.6,102.0 102.7,102.5 102.8,103.0 102.8,103.3 102.9,103.8 103.0,104.2 103.0,104.8 103.1,105.2 103.1,105.5 103.1,106.0 103.2,106.5 103.2,107.0 103.2,107.5 103.3,108.0 103.3,108.5 103.4,108.8 103.4,109.2 103.4,109.8 103.5,110.2 103.5,110.8 103.6,111.2 103.6,111.5 103.6,112.0 103.6,112.5 103.6,113.0 103.6,113.5 103.6,113.8 103.5,114.2 103.5,114.8 103.4,115.2 103.3,115.5 103.2,116.0 103.1,116.4 103.0,116.8 102.8,117.1 102.7,117.5 102.6,117.8 102.4,118.2 102.3,118.5 102.1,118.8 101.9,119.2 101.7,119.5 101.6,119.7 101.3,120.1 101.1,120.4 100.8,120.7 100.7,121.0 100.4,121.2 100.2,121.5 100.0,121.8 99.8,122.0 99.5,122.2 99.3,122.5 99.0,122.8 98.7,123.0 98.4,123.2 98.1,123.5 97.8,123.7 97.6,123.9 97.3,124.1 97.1,124.2 96.7,124.5 96.3,124.7 96.1,124.9 95.8,125.0 95.4,125.2 95.1,125.4 94.8,125.5 94.3,125.7 94.1,125.8 93.7,126.0 93.3,126.1 93.0,126.2 92.6,126.4 92.3,126.5 91.8,126.6 91.3,126.7 91.1,126.8 90.6,126.9 90.2,127.0 89.8,127.1 89.3,127.1 88.9,127.2 88.3,127.2 88.1,127.3 87.6,127.3 87.1,127.3 86.6,127.3 86.1,127.3 85.6,127.3 85.1,127.3 84.8,127.2 84.3,127.2 83.8,127.1 83.3,127.0 83.1,127.0 82.6,126.9 82.1,126.8 81.8,126.7 81.3,126.6 81.1,126.5 80.6,126.4 80.3,126.2 79.8,126.1 79.6,126.0 79.1,125.8 78.8,125.7 78.5,125.5 78.1,125.3 77.8,125.2 77.5,125.0 77.1,124.8 76.8,124.6 76.6,124.4 76.3,124.2 75.9,124.0 75.6,123.8 75.3,123.6 75.1,123.4 74.8,123.1 74.6,122.9 74.3,122.7 74.1,122.5 73.8,122.2 73.6,121.9 73.3,121.7 73.1,121.4 72.8,121.1 72.6,120.7 72.4,120.5 72.2,120.2 72.1,120.0 71.8,119.6 71.6,119.2 71.5,119.0 71.3,118.7 71.1,118.2 71.0,118.0 70.8,117.6 70.7,117.2 70.6,116.9 70.5,116.5 70.3,116.1 70.3,115.8 70.2,115.2 70.1,114.8 70.1,114.5 70.0,114.0 70.0,113.5 70.0,113.0 70.0,112.5 70.0,112.0 70.0,111.5 70.1,111.0 70.1,110.7 70.2,110.2 70.2,109.8 70.3,109.2 70.3,108.9 70.4,108.5 70.5,108.0 70.5,107.5 70.6,107.1 70.6,106.8 70.7,106.2 70.8,105.8 70.8,105.4 70.9,105.0 71.0,104.5 71.1,104.1 71.2,103.8 71.3,103.2 71.4,103.0 71.5,102.5 71.6,102.2 71.8,101.8 71.9,101.5 72.1,101.0 72.2,100.8 72.3,100.3 72.5,100.0 72.6,99.7 72.8,99.2 72.9,99.0 73.1,98.7 73.3,98.2 73.4,98.0 73.6,97.7 73.8,97.3 74.0,97.0 74.2,96.8 74.3,96.5 74.6,96.1 74.8,95.8 75.0,95.5 75.2,95.2 75.4,95.0 75.6,94.7 75.8,94.4 76.1,94.1 76.3,93.8 76.6,93.5 76.8,93.3 77.1,93.0 77.3,92.8 77.6,92.5 77.8,92.3 78.1,92.0 78.3,91.8 78.6,91.6 78.8,91.3 79.1,91.1 79.3,90.9 79.6,90.7 79.9,90.5 80.2,90.2 80.5,90.0 80.8,89.8 81.1,89.5 81.3,89.3 81.6,89.1 81.8,88.9 82.1,88.7 82.4,88.5 82.7,88.2 83.0,88.0 83.2,87.8 83.5,87.5 83.8,87.2 84.0,87.0 84.3,86.8 84.5,86.5 84.8,86.2 85.1,86.0 85.3,85.8 85.6,85.6 85.8,85.5 86.3,85.2 86.6,85.1 87.0,85.0ZM140.5,92.0 140.8,91.9 141.3,91.8 141.8,91.8 142.3,91.8 142.8,91.9 143.3,92.0 143.6,92.0 144.1,92.2 144.3,92.3 144.7,92.5 145.1,92.8 145.3,92.9 145.6,93.1 145.8,93.3 146.1,93.5 146.4,93.8 146.6,94.0 146.9,94.2 147.1,94.5 147.3,94.8 147.6,95.1 147.8,95.5 148.1,95.8 148.2,96.0 148.4,96.2 148.6,96.6 148.8,97.0 149.0,97.2 149.1,97.5 149.3,98.0 149.5,98.2 149.6,98.5 149.8,99.0 149.9,99.2 150.1,99.7 150.2,100.0 150.3,100.4 150.5,100.8 150.6,101.2 150.7,101.5 150.8,102.0 150.9,102.2 151.1,102.8 151.1,103.0 151.3,103.5 151.3,103.9 151.4,104.2 151.5,104.8 151.6,105.1 151.7,105.5 151.7,106.0 151.8,106.5 151.9,106.8 151.9,107.2 152.0,107.8 152.0,108.2 152.1,108.8 152.1,109.2 152.1,109.5 152.2,110.0 152.2,110.5 152.3,111.0 152.3,111.5 152.3,112.0 152.4,112.2 152.4,112.8 152.5,113.2 152.5,113.8 152.6,114.2 152.6,114.8 152.6,115.0 152.6,115.5 152.6,116.0 152.6,116.5 152.6,117.0 152.6,117.2 152.6,117.8 152.5,118.2 152.5,118.8 152.4,119.2 152.3,119.5 152.3,120.0 152.2,120.5 152.1,120.8 152.0,121.2 151.8,121.7 151.8,122.0 151.6,122.5 151.5,122.8 151.3,123.1 151.2,123.5 151.1,123.8 150.9,124.2 150.8,124.5 150.6,124.8 150.4,125.2 150.2,125.5 150.1,125.8 149.8,126.1 149.6,126.5 149.4,126.8 149.2,127.0 149.0,127.2 148.8,127.5 148.6,127.8 148.3,128.0 148.1,128.3 147.8,128.5 147.6,128.8 147.3,129.0 147.0,129.2 146.6,129.5 146.3,129.7 146.1,129.8 145.8,130.0 145.3,130.2 145.1,130.3 144.7,130.5 144.3,130.6 143.8,130.7 143.6,130.8 143.1,130.9 142.6,130.9 142.1,131.0 141.6,130.9 141.1,130.9 140.6,130.8 140.2,130.8 139.8,130.7 139.4,130.5 139.1,130.4 138.7,130.2 138.3,130.1 138.1,129.9 137.8,129.8 137.4,129.5 137.1,129.3 136.9,129.1 136.6,128.9 136.3,128.7 136.1,128.5 135.8,128.2 135.6,128.0 135.3,127.7 135.1,127.4 134.8,127.1 134.6,126.8 134.4,126.5 134.2,126.2 134.1,126.0 133.8,125.7 133.6,125.2 133.5,125.0 133.3,124.8 133.1,124.2 133.0,124.0 132.8,123.7 132.7,123.2 132.6,123.0 132.4,122.5 132.3,122.2 132.1,121.8 132.1,121.5 131.9,121.0 131.8,120.6 131.8,120.2 131.7,119.8 131.6,119.3 131.6,119.0 131.5,118.5 131.4,118.0 131.4,117.5 131.4,117.0 131.4,116.5 131.4,116.0 131.4,115.5 131.4,115.0 131.4,114.5 131.4,114.0 131.5,113.5 131.5,113.0 131.6,112.5 131.6,112.2 131.6,111.8 131.7,111.2 131.7,110.8 131.8,110.2 131.8,109.8 131.9,109.5 131.9,109.0 131.9,108.5 132.0,108.0 132.0,107.5 132.1,107.0 132.1,106.8 132.2,106.2 132.3,105.8 132.3,105.2 132.4,105.0 132.5,104.5 132.6,104.0 132.6,103.8 132.8,103.2 132.8,102.9 132.9,102.5 133.1,102.0 133.2,101.8 133.3,101.2 133.4,101.0 133.6,100.5 133.7,100.2 133.8,99.8 133.9,99.5 134.1,99.1 134.3,98.8 134.4,98.5 134.6,98.0 134.7,97.8 134.9,97.5 135.1,97.0 135.3,96.8 135.4,96.5 135.6,96.2 135.8,95.8 136.1,95.5 136.2,95.2 136.4,95.0 136.6,94.8 136.9,94.5 137.1,94.2 137.3,94.0 137.6,93.7 137.8,93.5 138.1,93.2 138.5,93.0 138.8,92.8 139.1,92.6 139.3,92.5 139.8,92.2 140.1,92.1 140.5,92.0ZM82.8,62.0 83.1,62.0 83.6,61.9 84.1,61.9 84.6,61.9 85.1,61.9 85.6,61.9 86.1,62.0 86.3,62.0 86.8,62.1 87.3,62.2 87.6,62.3 88.1,62.5 88.3,62.6 88.6,62.8 89.1,63.0 89.3,63.1 89.6,63.3 89.9,63.5 90.2,63.8 90.5,64.0 90.8,64.2 91.0,64.5 91.2,64.8 91.4,65.0 91.6,65.2 91.8,65.6 92.1,66.0 92.2,66.2 92.3,66.6 92.5,67.0 92.6,67.2 92.8,67.8 92.8,68.2 92.9,68.5 93.0,69.0 93.0,69.5 93.0,70.0 92.9,70.5 92.8,71.0 92.8,71.2 92.7,71.8 92.6,72.0 92.4,72.5 92.3,72.8 92.1,73.1 91.9,73.5 91.7,73.8 91.5,74.0 91.3,74.2 91.1,74.5 90.8,74.8 90.6,75.0 90.3,75.2 90.0,75.5 89.7,75.8 89.3,76.0 89.1,76.1 88.8,76.2 88.3,76.5 88.1,76.5 87.6,76.7 87.3,76.8 86.8,76.9 86.3,76.9 85.8,76.9 85.3,76.9 84.8,76.9 84.3,76.8 84.1,76.7 83.6,76.6 83.3,76.5 82.8,76.3 82.6,76.2 82.2,76.0 81.8,75.8 81.6,75.6 81.3,75.4 81.1,75.2 80.8,75.0 80.5,74.8 80.3,74.5 80.0,74.2 79.8,74.0 79.6,73.7 79.3,73.4 79.1,73.0 79.0,72.8 78.8,72.5 78.6,72.0 78.5,71.8 78.3,71.4 78.2,71.0 78.1,70.6 78.0,70.2 77.9,69.8 77.9,69.2 77.8,69.0 77.8,68.5 77.8,68.0 77.8,67.5 77.9,67.2 77.9,66.8 78.0,66.2 78.1,66.0 78.2,65.5 78.3,65.2 78.5,64.8 78.6,64.5 78.8,64.1 79.1,63.8 79.3,63.5 79.6,63.2 79.9,63.0 80.1,62.9 80.3,62.7 80.8,62.5 81.1,62.4 81.6,62.3 81.8,62.2 82.3,62.1 82.8,62.0ZM87.3,86.8 87.6,86.6 88.1,86.6 88.6,86.6 88.9,86.8 89.3,87.0 89.6,87.1 89.9,87.2 90.3,87.5 90.6,87.7 90.9,87.8 91.2,88.0 91.6,88.2 91.8,88.3 92.1,88.5 92.5,88.8 92.8,89.0 93.1,89.2 93.3,89.3 93.6,89.5 93.9,89.8 94.2,90.0 94.5,90.2 94.7,90.5 95.0,90.8 95.2,91.0 95.5,91.2 95.7,91.5 95.9,91.8 96.2,92.0 96.4,92.2 96.6,92.5 96.8,92.9 97.1,93.2 97.3,93.5 97.5,93.8 97.7,94.0 97.9,94.2 98.1,94.6 98.3,94.9 98.6,95.2 98.7,95.5 98.9,95.8 99.1,96.1 99.3,96.5 99.5,96.8 99.7,97.0 99.8,97.3 100.1,97.8 100.2,98.0 100.4,98.2 100.6,98.7 100.7,99.0 100.8,99.3 101.1,99.8 101.2,100.0 101.3,100.5 101.4,100.8 101.6,101.2 101.7,101.5 101.8,102.0 101.9,102.2 102.0,102.8 102.1,103.2 102.1,103.5 102.2,104.0 102.3,104.5 102.3,105.0 102.4,105.2 102.4,105.8 102.5,106.2 102.5,106.8 102.5,107.2 102.6,107.7 102.6,108.0 102.6,108.5 102.7,109.0 102.7,109.5 102.8,110.0 102.8,110.5 102.9,110.8 102.9,111.2 103.0,111.8 103.0,112.2 103.0,112.8 102.9,113.2 102.9,113.8 102.9,114.2 102.8,114.5 102.7,115.0 102.6,115.5 102.6,115.7 102.4,116.2 102.3,116.5 102.2,117.0 102.1,117.3 101.9,117.8 101.7,118.0 101.6,118.3 101.4,118.8 101.2,119.0 101.1,119.2 100.8,119.6 100.6,119.9 100.4,120.2 100.2,120.5 100.0,120.8 99.8,121.0 99.6,121.2 99.3,121.5 99.1,121.8 98.8,122.0 98.6,122.2 98.3,122.5 98.0,122.8 97.7,123.0 97.3,123.2 97.1,123.4 96.8,123.6 96.6,123.8 96.2,124.0 95.8,124.2 95.6,124.4 95.3,124.5 94.9,124.8 94.6,124.9 94.3,125.0 93.8,125.2 93.6,125.3 93.2,125.5 92.8,125.6 92.5,125.8 92.1,125.9 91.6,126.0 91.3,126.1 90.8,126.2 90.6,126.3 90.1,126.4 89.6,126.4 89.2,126.5 88.8,126.5 88.3,126.6 87.8,126.6 87.3,126.7 86.8,126.7 86.3,126.7 85.8,126.7 85.3,126.6 84.8,126.6 84.3,126.5 84.1,126.5 83.6,126.4 83.1,126.3 82.8,126.2 82.3,126.2 81.8,126.0 81.6,126.0 81.1,125.8 80.8,125.7 80.3,125.6 80.1,125.5 79.6,125.3 79.3,125.1 79.0,125.0 78.6,124.8 78.3,124.7 78.0,124.5 77.6,124.2 77.3,124.1 77.1,123.9 76.8,123.8 76.4,123.5 76.1,123.2 75.8,123.1 75.6,122.8 75.3,122.6 75.1,122.4 74.8,122.2 74.6,121.9 74.3,121.7 74.1,121.4 73.8,121.1 73.6,120.9 73.3,120.5 73.1,120.2 73.0,120.0 72.8,119.8 72.6,119.5 72.3,119.1 72.2,118.8 72.0,118.5 71.8,118.1 71.7,117.8 71.6,117.5 71.4,117.0 71.3,116.8 71.1,116.2 71.1,116.0 71.0,115.5 70.9,115.0 70.8,114.8 70.7,114.2 70.7,113.8 70.7,113.2 70.7,112.8 70.7,112.2 70.7,111.8 70.7,111.2 70.8,110.8 70.8,110.3 70.9,110.0 71.0,109.5 71.0,109.0 71.1,108.5 71.1,108.2 71.2,107.8 71.3,107.2 71.3,106.8 71.4,106.5 71.4,106.0 71.5,105.5 71.6,105.0 71.6,104.8 71.7,104.2 71.9,103.8 71.9,103.5 72.1,103.0 72.1,102.8 72.3,102.2 72.4,102.0 72.6,101.5 72.6,101.2 72.8,100.8 72.9,100.5 73.1,100.2 73.3,99.8 73.4,99.5 73.6,99.1 73.8,98.8 73.9,98.5 74.1,98.2 74.3,97.8 74.5,97.5 74.6,97.2 74.8,96.9 75.1,96.6 75.3,96.2 75.5,96.0 75.7,95.8 75.9,95.5 76.1,95.2 76.3,94.9 76.6,94.6 76.8,94.4 77.1,94.1 77.3,93.8 77.6,93.6 77.8,93.3 78.1,93.1 78.3,92.9 78.6,92.7 78.8,92.4 79.1,92.2 79.4,92.0 79.7,91.8 80.1,91.5 80.3,91.3 80.6,91.1 80.8,90.9 81.2,90.8 81.5,90.5 81.8,90.3 82.1,90.2 82.4,90.0 82.8,89.8 83.1,89.6 83.3,89.4 83.6,89.2 84.1,89.0 84.3,88.8 84.6,88.7 84.9,88.5 85.3,88.2 85.6,88.0 85.8,87.9 86.1,87.7 86.3,87.5 86.6,87.3 86.9,87.0 87.3,86.8ZM140.4,93.0 140.8,92.9 141.3,92.8 141.8,92.8 142.3,92.8 142.8,92.8 143.3,92.9 143.6,93.0 144.1,93.2 144.3,93.3 144.7,93.5 145.1,93.8 145.3,93.9 145.6,94.1 145.8,94.3 146.1,94.6 146.3,94.8 146.6,95.1 146.8,95.4 147.1,95.7 147.3,96.0 147.6,96.2 147.7,96.5 147.9,96.8 148.1,97.1 148.3,97.5 148.5,97.8 148.6,98.0 148.8,98.4 149.0,98.8 149.1,99.0 149.3,99.5 149.4,99.8 149.6,100.1 149.7,100.5 149.8,100.8 150.0,101.3 150.1,101.5 150.3,102.0 150.3,102.3 150.5,102.8 150.6,103.2 150.7,103.5 150.8,104.0 150.8,104.3 150.9,104.8 151.0,105.2 151.1,105.6 151.2,106.0 151.2,106.5 151.3,107.0 151.3,107.5 151.4,107.8 151.4,108.2 151.5,108.8 151.5,109.2 151.5,109.8 151.6,110.2 151.6,110.5 151.6,111.0 151.7,111.5 151.7,112.0 151.8,112.5 151.8,113.0 151.8,113.4 151.9,113.8 151.9,114.2 152.0,114.8 152.0,115.2 152.0,115.8 152.0,116.2 152.0,116.8 151.9,117.2 151.9,117.8 151.8,118.1 151.8,118.5 151.7,119.0 151.6,119.5 151.6,119.8 151.5,120.2 151.4,120.8 151.3,121.0 151.1,121.5 151.1,121.8 150.9,122.2 150.8,122.5 150.6,122.9 150.5,123.2 150.3,123.5 150.1,124.0 150.0,124.2 149.8,124.5 149.6,124.9 149.4,125.2 149.2,125.5 149.0,125.8 148.8,126.0 148.6,126.3 148.3,126.6 148.1,126.9 147.8,127.1 147.6,127.4 147.3,127.6 147.1,127.8 146.8,128.0 146.5,128.2 146.2,128.5 145.8,128.7 145.6,128.8 145.3,129.0 144.9,129.2 144.6,129.3 144.1,129.4 143.8,129.5 143.3,129.6 142.8,129.7 142.4,129.7 141.8,129.7 141.3,129.7 140.9,129.7 140.3,129.6 140.1,129.5 139.6,129.3 139.3,129.2 138.8,129.1 138.6,128.9 138.3,128.8 137.8,128.5 137.6,128.4 137.3,128.2 137.1,128.0 136.8,127.8 136.5,127.5 136.3,127.2 136.0,127.0 135.8,126.8 135.6,126.5 135.3,126.2 135.1,125.9 134.8,125.6 134.6,125.2 134.5,125.0 134.3,124.8 134.1,124.4 133.9,124.0 133.8,123.8 133.6,123.4 133.4,123.0 133.3,122.8 133.1,122.2 133.0,122.0 132.8,121.5 132.8,121.2 132.6,120.8 132.6,120.5 132.4,120.0 132.3,119.5 132.3,119.2 132.2,118.8 132.1,118.2 132.1,117.8 132.1,117.5 132.0,117.0 132.0,116.5 132.0,116.0 132.0,115.5 132.0,115.0 132.0,114.5 132.1,114.0 132.1,113.8 132.1,113.2 132.2,112.8 132.2,112.2 132.3,111.8 132.3,111.2 132.3,110.8 132.4,110.5 132.4,110.0 132.5,109.5 132.5,109.0 132.5,108.5 132.6,108.0 132.6,107.8 132.7,107.2 132.7,106.8 132.8,106.2 132.8,105.8 132.9,105.5 133.0,105.0 133.1,104.5 133.1,104.2 133.2,103.8 133.3,103.3 133.4,103.0 133.6,102.5 133.6,102.2 133.8,101.8 133.9,101.5 134.0,101.0 134.1,100.8 134.3,100.2 134.4,100.0 134.6,99.5 134.7,99.2 134.8,99.0 135.1,98.5 135.2,98.2 135.3,98.0 135.6,97.5 135.8,97.2 135.9,97.0 136.1,96.7 136.3,96.3 136.6,96.0 136.8,95.8 137.0,95.5 137.2,95.2 137.4,95.0 137.7,94.8 137.9,94.5 138.2,94.2 138.5,94.0 138.8,93.8 139.1,93.6 139.3,93.5 139.8,93.2 140.1,93.1 140.4,93.0ZM84.4,63.8 84.8,63.7 85.3,63.7 85.8,63.8 86.1,63.8 86.6,63.9 87.1,64.0 87.3,64.1 87.8,64.2 88.1,64.4 88.4,64.5 88.8,64.8 89.1,65.0 89.3,65.2 89.6,65.4 89.8,65.6 90.1,65.9 90.3,66.2 90.6,66.5 90.7,66.8 90.9,67.0 91.1,67.5 91.2,67.8 91.3,68.2 91.4,68.5 91.5,69.0 91.5,69.5 91.5,70.0 91.5,70.5 91.4,71.0 91.3,71.2 91.1,71.8 91.0,72.0 90.8,72.3 90.6,72.8 90.4,73.0 90.2,73.2 90.0,73.5 89.8,73.8 89.5,74.0 89.2,74.2 88.8,74.5 88.6,74.6 88.3,74.8 87.8,75.0 87.6,75.1 87.1,75.2 86.8,75.2 86.3,75.3 85.8,75.3 85.3,75.3 84.8,75.3 84.6,75.2 84.1,75.1 83.8,75.0 83.3,74.8 83.1,74.7 82.7,74.5 82.4,74.2 82.1,74.1 81.8,73.9 81.6,73.6 81.3,73.4 81.1,73.1 80.8,72.8 80.7,72.5 80.5,72.2 80.3,71.9 80.1,71.5 80.1,71.2 79.9,70.8 79.8,70.5 79.7,70.0 79.7,69.5 79.6,69.0 79.7,68.5 79.7,68.0 79.8,67.5 79.9,67.2 80.0,66.8 80.1,66.5 80.3,66.0 80.5,65.8 80.7,65.5 80.8,65.2 81.1,65.0 81.4,64.8 81.8,64.5 82.1,64.4 82.3,64.2 82.8,64.1 83.1,64.0 83.6,63.9 84.1,63.8 84.4,63.8ZM88.4,89.0 88.8,89.0 89.1,89.0 89.6,89.1 90.1,89.2 90.5,89.2 90.8,89.4 91.3,89.5 91.6,89.6 91.9,89.8 92.3,90.0 92.6,90.1 92.8,90.3 93.2,90.5 93.6,90.8 93.8,90.9 94.1,91.1 94.3,91.4 94.6,91.6 94.8,91.8 95.1,92.1 95.3,92.3 95.6,92.6 95.8,92.9 96.1,93.2 96.3,93.5 96.6,93.8 96.8,94.0 96.9,94.2 97.1,94.5 97.3,94.8 97.6,95.2 97.8,95.5 98.0,95.8 98.2,96.0 98.3,96.3 98.6,96.7 98.8,97.0 98.9,97.2 99.1,97.5 99.3,98.0 99.5,98.2 99.6,98.5 99.8,98.9 100.0,99.2 100.1,99.5 100.3,100.0 100.4,100.2 100.6,100.7 100.7,101.0 100.8,101.4 101.0,101.8 101.1,102.2 101.2,102.5 101.3,103.0 101.4,103.2 101.5,103.8 101.5,104.2 101.6,104.6 101.7,105.0 101.7,105.5 101.8,106.0 101.8,106.5 101.8,107.0 101.9,107.2 101.9,107.8 102.0,108.2 102.0,108.8 102.1,109.2 102.1,109.7 102.1,110.0 102.2,110.5 102.2,111.0 102.3,111.5 102.3,112.0 102.3,112.5 102.3,113.0 102.3,113.5 102.2,114.0 102.1,114.5 102.1,114.8 102.0,115.2 101.9,115.8 101.8,116.0 101.6,116.5 101.5,116.8 101.4,117.2 101.2,117.5 101.1,117.8 100.8,118.2 100.7,118.5 100.6,118.8 100.3,119.1 100.1,119.5 99.9,119.8 99.7,120.0 99.5,120.2 99.3,120.5 99.1,120.8 98.8,121.0 98.6,121.3 98.3,121.5 98.1,121.8 97.8,122.0 97.5,122.2 97.2,122.5 96.9,122.8 96.6,123.0 96.3,123.2 96.1,123.3 95.8,123.5 95.4,123.8 95.1,123.9 94.8,124.0 94.4,124.2 94.1,124.4 93.8,124.5 93.3,124.7 93.1,124.8 92.7,125.0 92.3,125.1 91.9,125.2 91.6,125.3 91.1,125.5 90.8,125.5 90.3,125.7 89.8,125.7 89.6,125.8 89.1,125.9 88.6,125.9 88.1,126.0 87.6,126.0 87.3,126.0 86.8,126.0 86.3,126.0 85.9,126.0 85.6,126.0 85.1,125.9 84.6,125.9 84.1,125.8 83.6,125.8 83.3,125.7 82.8,125.6 82.4,125.5 82.1,125.4 81.6,125.3 81.3,125.2 80.8,125.0 80.6,124.9 80.1,124.8 79.8,124.6 79.6,124.5 79.1,124.3 78.8,124.2 78.5,124.0 78.1,123.8 77.8,123.6 77.6,123.4 77.3,123.2 76.9,123.0 76.6,122.8 76.3,122.6 76.1,122.4 75.8,122.2 75.6,121.9 75.3,121.7 75.1,121.5 74.8,121.2 74.6,120.9 74.3,120.6 74.1,120.3 73.8,120.0 73.6,119.8 73.5,119.5 73.3,119.2 73.1,118.9 72.9,118.5 72.7,118.2 72.6,118.0 72.4,117.5 72.3,117.2 72.1,116.8 72.0,116.5 71.8,116.1 71.8,115.8 71.6,115.2 71.6,115.0 71.5,114.5 71.4,114.0 71.4,113.5 71.4,113.0 71.4,112.5 71.4,112.0 71.4,111.5 71.4,111.0 71.5,110.5 71.6,110.0 71.6,109.7 71.7,109.2 71.7,108.8 71.8,108.2 71.8,107.8 71.9,107.5 72.0,107.0 72.0,106.5 72.1,106.0 72.1,105.8 72.2,105.2 72.3,104.8 72.3,104.4 72.4,104.0 72.6,103.5 72.6,103.2 72.8,102.8 72.9,102.5 73.0,102.0 73.1,101.8 73.3,101.2 73.4,101.0 73.6,100.6 73.7,100.2 73.9,100.0 74.1,99.5 74.2,99.2 74.4,99.0 74.6,98.6 74.8,98.2 74.9,98.0 75.1,97.7 75.3,97.4 75.6,97.0 75.8,96.8 76.0,96.5 76.1,96.2 76.3,96.0 76.6,95.7 76.8,95.4 77.1,95.1 77.3,94.8 77.6,94.6 77.8,94.3 78.1,94.1 78.3,93.9 78.6,93.6 78.8,93.4 79.1,93.2 79.4,93.0 79.7,92.8 80.0,92.5 80.3,92.3 80.6,92.1 80.8,92.0 81.2,91.8 81.6,91.5 81.8,91.4 82.1,91.2 82.5,91.0 82.8,90.8 83.1,90.7 83.6,90.5 83.8,90.4 84.2,90.2 84.6,90.1 84.8,90.0 85.4,89.8 85.6,89.7 86.1,89.5 86.3,89.4 86.8,89.3 87.1,89.2 87.6,89.1 88.1,89.0 88.4,89.0ZM141.4,93.8 141.8,93.7 142.3,93.7 142.6,93.8 143.1,93.8 143.6,94.0 143.8,94.1 144.2,94.2 144.6,94.5 144.9,94.6 145.1,94.8 145.4,95.0 145.7,95.2 145.9,95.5 146.2,95.8 146.4,96.0 146.6,96.2 146.9,96.5 147.1,96.8 147.3,97.2 147.6,97.5 147.7,97.8 147.9,98.0 148.1,98.4 148.3,98.8 148.4,99.0 148.6,99.4 148.8,99.8 148.9,100.0 149.1,100.5 149.2,100.8 149.3,101.2 149.5,101.5 149.6,101.9 149.7,102.2 149.8,102.7 149.9,103.0 150.1,103.5 150.1,103.8 150.2,104.2 150.3,104.8 150.4,105.0 150.5,105.5 150.6,106.0 150.6,106.2 150.7,106.8 150.7,107.2 150.8,107.8 150.8,108.2 150.8,108.6 150.9,109.0 150.9,109.5 151.0,110.0 151.0,110.5 151.0,111.0 151.1,111.5 151.1,111.8 151.1,112.2 151.2,112.8 151.2,113.2 151.3,113.8 151.3,114.2 151.3,114.8 151.3,115.2 151.3,115.8 151.3,116.2 151.3,116.8 151.3,117.2 151.2,117.8 151.2,118.2 151.1,118.6 151.0,119.0 150.9,119.5 150.8,119.9 150.8,120.2 150.6,120.8 150.5,121.0 150.4,121.5 150.3,121.8 150.1,122.2 150.0,122.5 149.8,122.8 149.6,123.2 149.5,123.5 149.3,123.8 149.1,124.1 148.9,124.5 148.7,124.8 148.5,125.0 148.3,125.2 148.1,125.5 147.8,125.8 147.6,126.1 147.3,126.3 147.1,126.5 146.8,126.8 146.6,127.0 146.2,127.2 145.9,127.5 145.6,127.6 145.3,127.8 144.9,128.0 144.6,128.1 144.2,128.2 143.8,128.4 143.3,128.5 143.1,128.5 142.6,128.6 142.1,128.6 141.6,128.6 141.1,128.6 140.7,128.5 140.3,128.4 139.8,128.3 139.6,128.2 139.1,128.0 138.8,127.9 138.6,127.8 138.2,127.5 137.8,127.3 137.6,127.1 137.3,126.9 137.1,126.7 136.8,126.5 136.6,126.2 136.3,126.0 136.1,125.8 135.8,125.5 135.6,125.2 135.3,124.8 135.1,124.5 135.0,124.2 134.8,124.0 134.6,123.6 134.4,123.2 134.3,123.0 134.1,122.7 133.9,122.2 133.8,122.0 133.6,121.5 133.5,121.2 133.4,120.8 133.3,120.5 133.2,120.0 133.1,119.7 133.0,119.2 132.9,118.8 132.8,118.4 132.8,118.0 132.7,117.5 132.7,117.0 132.7,116.5 132.7,116.0 132.6,115.5 132.7,115.0 132.7,114.5 132.7,114.0 132.7,113.5 132.8,113.0 132.8,112.5 132.9,112.2 132.9,111.8 132.9,111.2 133.0,110.8 133.0,110.2 133.0,109.8 133.1,109.2 133.1,109.0 133.1,108.5 133.2,108.0 133.2,107.5 133.3,107.0 133.3,106.5 133.4,106.2 133.4,105.8 133.5,105.2 133.6,104.9 133.7,104.5 133.8,104.0 133.9,103.8 134.0,103.2 134.1,102.8 134.2,102.5 134.3,102.0 134.4,101.8 134.6,101.2 134.7,101.0 134.8,100.6 135.0,100.2 135.1,100.0 135.3,99.5 135.4,99.2 135.6,98.9 135.8,98.5 135.9,98.2 136.1,98.0 136.3,97.6 136.6,97.2 136.7,97.0 136.9,96.8 137.1,96.5 137.3,96.2 137.6,95.9 137.8,95.7 138.1,95.4 138.3,95.2 138.6,95.0 138.9,94.8 139.3,94.5 139.6,94.3 139.8,94.2 140.3,94.0 140.6,93.9 141.1,93.8 141.4,93.8ZM84.6,65.5 85.1,65.4 85.6,65.4 86.1,65.4 86.5,65.5 86.8,65.6 87.3,65.8 87.6,65.9 87.9,66.0 88.3,66.2 88.6,66.5 88.8,66.7 89.1,67.0 89.3,67.2 89.5,67.5 89.6,67.8 89.8,68.2 89.9,68.5 90.0,69.0 90.1,69.5 90.1,70.0 90.0,70.5 89.9,71.0 89.8,71.2 89.6,71.7 89.4,72.0 89.2,72.2 89.0,72.5 88.8,72.8 88.5,73.0 88.1,73.2 87.8,73.4 87.6,73.5 87.1,73.7 86.8,73.8 86.3,73.9 85.8,73.9 85.3,73.9 84.8,73.8 84.6,73.7 84.1,73.5 83.8,73.4 83.5,73.2 83.1,73.0 82.8,72.8 82.6,72.5 82.4,72.2 82.2,72.0 82.0,71.8 81.8,71.5 81.6,71.0 81.6,70.8 81.4,70.2 81.4,69.8 81.4,69.2 81.4,68.8 81.5,68.2 81.6,68.0 81.8,67.5 82.0,67.2 82.2,67.0 82.4,66.8 82.6,66.5 82.9,66.2 83.3,66.0 83.6,65.8 83.8,65.7 84.3,65.6 84.6,65.5ZM86.8,90.5 87.1,90.4 87.6,90.4 88.1,90.3 88.6,90.3 89.1,90.3 89.6,90.3 90.1,90.3 90.6,90.4 90.9,90.5 91.3,90.6 91.7,90.8 92.1,90.9 92.3,91.0 92.7,91.2 93.1,91.5 93.3,91.6 93.6,91.8 93.8,92.0 94.1,92.2 94.4,92.5 94.7,92.8 94.9,93.0 95.2,93.2 95.4,93.5 95.6,93.8 95.8,94.0 96.1,94.3 96.3,94.7 96.6,95.0 96.8,95.2 97.0,95.5 97.1,95.8 97.3,96.1 97.6,96.4 97.8,96.8 98.0,97.0 98.1,97.2 98.3,97.6 98.6,98.0 98.7,98.2 98.8,98.5 99.1,99.0 99.2,99.2 99.3,99.5 99.6,100.0 99.7,100.2 99.8,100.7 100.0,101.0 100.1,101.3 100.2,101.8 100.3,102.1 100.5,102.5 100.6,103.0 100.7,103.2 100.8,103.8 100.8,104.2 100.9,104.5 101.0,105.0 101.1,105.5 101.1,106.0 101.1,106.2 101.2,106.8 101.2,107.2 101.3,107.8 101.3,108.2 101.3,108.8 101.4,109.0 101.4,109.5 101.5,110.0 101.5,110.5 101.6,111.0 101.6,111.4 101.6,111.8 101.6,112.2 101.6,112.8 101.6,113.2 101.6,113.5 101.5,114.0 101.4,114.5 101.3,115.0 101.3,115.3 101.1,115.8 101.1,116.0 100.9,116.5 100.8,116.8 100.6,117.2 100.5,117.5 100.3,117.8 100.1,118.2 99.9,118.5 99.8,118.8 99.6,119.0 99.3,119.4 99.1,119.7 98.9,120.0 98.6,120.2 98.4,120.5 98.2,120.8 97.9,121.0 97.7,121.2 97.4,121.5 97.1,121.8 96.8,122.0 96.6,122.2 96.3,122.3 96.1,122.5 95.8,122.8 95.4,123.0 95.1,123.2 94.8,123.3 94.5,123.5 94.1,123.7 93.8,123.8 93.5,124.0 93.1,124.2 92.8,124.2 92.3,124.4 92.1,124.5 91.6,124.7 91.3,124.8 90.8,124.9 90.3,125.0 90.1,125.0 89.6,125.1 89.1,125.2 88.8,125.2 88.3,125.3 87.8,125.3 87.3,125.4 86.8,125.4 86.3,125.4 85.8,125.4 85.3,125.3 84.8,125.3 84.6,125.2 84.1,125.2 83.6,125.1 83.2,125.0 82.8,124.9 82.3,124.8 82.1,124.7 81.6,124.6 81.3,124.5 80.8,124.3 80.6,124.2 80.1,124.0 79.8,123.9 79.5,123.8 79.1,123.5 78.8,123.4 78.6,123.2 78.2,123.0 77.8,122.8 77.6,122.6 77.3,122.5 77.1,122.2 76.7,122.0 76.4,121.8 76.2,121.5 75.9,121.2 75.6,121.0 75.4,120.8 75.2,120.5 74.9,120.2 74.7,120.0 74.5,119.8 74.3,119.5 74.1,119.2 73.8,118.8 73.7,118.5 73.5,118.2 73.3,117.9 73.1,117.5 73.0,117.2 72.8,116.8 72.7,116.5 72.6,116.1 72.5,115.8 72.4,115.2 72.3,115.0 72.2,114.5 72.1,114.0 72.1,113.8 72.1,113.2 72.0,112.8 72.0,112.2 72.1,111.8 72.1,111.2 72.1,111.0 72.2,110.5 72.2,110.0 72.3,109.5 72.3,109.1 72.4,108.8 72.4,108.3 72.5,107.8 72.6,107.2 72.6,107.0 72.7,106.5 72.7,106.0 72.8,105.5 72.8,105.2 72.9,104.8 73.0,104.2 73.1,104.0 73.2,103.5 73.3,103.1 73.4,102.8 73.6,102.3 73.7,102.0 73.8,101.6 74.0,101.2 74.1,101.0 74.3,100.5 74.4,100.2 74.6,99.9 74.8,99.5 74.9,99.2 75.1,99.0 75.3,98.5 75.5,98.2 75.7,98.0 75.8,97.7 76.1,97.4 76.3,97.0 76.6,96.8 76.8,96.5 77.0,96.2 77.2,96.0 77.4,95.8 77.6,95.5 77.9,95.2 78.1,95.0 78.4,94.8 78.7,94.5 79.0,94.2 79.3,94.0 79.6,93.8 79.8,93.5 80.1,93.4 80.3,93.2 80.6,93.0 81.0,92.8 81.3,92.6 81.6,92.4 81.9,92.2 82.3,92.0 82.6,91.9 82.9,91.8 83.3,91.6 83.6,91.5 84.1,91.3 84.3,91.2 84.8,91.0 85.1,90.9 85.6,90.8 85.8,90.7 86.3,90.6 86.8,90.5ZM141.2,94.8 141.6,94.7 142.1,94.7 142.6,94.7 142.8,94.8 143.3,94.9 143.7,95.0 144.1,95.2 144.3,95.3 144.6,95.5 145.0,95.8 145.3,96.0 145.6,96.2 145.8,96.5 146.1,96.8 146.3,97.0 146.5,97.2 146.7,97.5 146.9,97.8 147.1,98.0 147.3,98.4 147.5,98.8 147.7,99.0 147.8,99.3 148.1,99.8 148.2,100.0 148.3,100.3 148.5,100.8 148.6,101.0 148.8,101.5 148.9,101.8 149.1,102.2 149.2,102.5 149.3,103.0 149.4,103.2 149.5,103.8 149.6,104.1 149.7,104.5 149.8,105.0 149.9,105.2 149.9,105.8 150.0,106.2 150.1,106.8 150.1,107.0 150.2,107.5 150.2,108.0 150.2,108.5 150.3,109.0 150.3,109.5 150.3,109.9 150.4,110.2 150.4,110.8 150.5,111.2 150.5,111.8 150.5,112.2 150.6,112.8 150.6,113.2 150.6,113.5 150.7,114.0 150.7,114.5 150.7,115.0 150.7,115.5 150.7,116.0 150.7,116.5 150.6,117.0 150.6,117.3 150.6,117.8 150.5,118.2 150.4,118.8 150.3,119.0 150.2,119.5 150.1,120.0 150.0,120.2 149.9,120.8 149.8,121.0 149.6,121.4 149.5,121.8 149.3,122.0 149.1,122.5 149.0,122.8 148.8,123.0 148.6,123.4 148.4,123.8 148.2,124.0 148.0,124.2 147.8,124.5 147.6,124.8 147.3,125.0 147.1,125.3 146.8,125.5 146.6,125.8 146.3,126.0 146.0,126.2 145.6,126.5 145.3,126.6 145.1,126.8 144.6,127.0 144.3,127.1 144.0,127.2 143.6,127.4 143.1,127.5 142.8,127.5 142.3,127.6 141.8,127.6 141.3,127.5 141.1,127.5 140.6,127.4 140.1,127.3 139.8,127.2 139.4,127.0 139.1,126.9 138.8,126.8 138.4,126.5 138.1,126.3 137.8,126.1 137.6,125.9 137.3,125.7 137.1,125.5 136.8,125.2 136.6,125.0 136.3,124.7 136.1,124.4 135.8,124.1 135.6,123.8 135.5,123.5 135.3,123.2 135.1,122.9 134.9,122.5 134.8,122.2 134.6,121.9 134.4,121.5 134.3,121.2 134.1,120.7 134.1,120.5 133.9,120.0 133.8,119.8 133.7,119.2 133.6,118.8 133.6,118.5 133.5,118.0 133.4,117.5 133.4,117.0 133.3,116.8 133.3,116.2 133.3,115.8 133.3,115.2 133.3,114.8 133.3,114.2 133.3,113.9 133.4,113.5 133.4,113.0 133.4,112.5 133.5,112.0 133.5,111.5 133.6,111.0 133.6,110.5 133.6,110.2 133.7,109.8 133.7,109.2 133.7,108.8 133.8,108.2 133.8,107.8 133.8,107.2 133.9,107.0 133.9,106.5 134.0,106.0 134.1,105.5 134.1,105.2 134.2,104.8 134.3,104.2 134.4,104.0 134.5,103.5 134.6,103.2 134.7,102.8 134.8,102.4 135.0,102.0 135.1,101.6 135.2,101.2 135.3,101.0 135.6,100.5 135.7,100.2 135.8,99.9 136.0,99.5 136.2,99.2 136.3,98.9 136.6,98.5 136.7,98.2 136.9,98.0 137.1,97.7 137.3,97.4 137.6,97.1 137.8,96.8 138.1,96.5 138.3,96.3 138.6,96.1 138.8,95.8 139.1,95.7 139.3,95.5 139.8,95.2 140.1,95.1 140.3,95.0 140.8,94.8 141.2,94.8ZM85.2,67.0 85.6,66.9 86.1,67.0 86.4,67.0 86.8,67.1 87.1,67.2 87.5,67.5 87.8,67.8 88.1,68.0 88.2,68.2 88.4,68.5 88.6,69.0 88.7,69.2 88.7,69.8 88.6,70.2 88.6,70.5 88.4,71.0 88.2,71.2 88.0,71.5 87.8,71.8 87.5,72.0 87.1,72.2 86.8,72.3 86.3,72.5 86.0,72.5 85.7,72.5 85.3,72.5 84.8,72.3 84.6,72.2 84.2,72.0 83.9,71.8 83.6,71.5 83.4,71.2 83.3,71.0 83.1,70.6 83.0,70.2 82.9,69.8 83.0,69.2 83.1,68.8 83.2,68.5 83.3,68.2 83.6,67.9 83.8,67.6 84.1,67.5 84.4,67.2 84.8,67.1 85.2,67.0ZM88.5,91.2 88.8,91.2 89.3,91.2 89.6,91.3 90.1,91.3 90.6,91.4 91.1,91.5 91.3,91.6 91.8,91.8 92.1,91.9 92.4,92.0 92.8,92.2 93.1,92.4 93.3,92.6 93.6,92.8 93.8,93.0 94.1,93.2 94.4,93.5 94.6,93.8 94.9,94.0 95.1,94.3 95.3,94.5 95.6,94.8 95.8,95.2 96.1,95.5 96.3,95.8 96.5,96.0 96.7,96.2 96.8,96.5 97.1,96.9 97.3,97.2 97.5,97.5 97.6,97.8 97.8,98.1 98.1,98.5 98.2,98.8 98.3,99.0 98.6,99.5 98.7,99.8 98.8,100.0 99.1,100.5 99.2,100.8 99.3,101.2 99.5,101.5 99.6,101.9 99.7,102.2 99.8,102.7 99.9,103.0 100.1,103.5 100.1,103.8 100.2,104.2 100.3,104.8 100.3,105.1 100.4,105.5 100.5,106.0 100.5,106.5 100.5,107.0 100.6,107.5 100.6,107.8 100.7,108.2 100.7,108.8 100.7,109.2 100.8,109.8 100.8,110.2 100.9,110.5 100.9,111.0 101.0,111.5 101.0,112.0 101.0,112.5 101.0,113.0 100.9,113.5 100.8,114.0 100.8,114.2 100.7,114.8 100.6,115.2 100.5,115.5 100.4,116.0 100.3,116.2 100.1,116.7 100.0,117.0 99.8,117.2 99.6,117.7 99.4,118.0 99.3,118.2 99.1,118.5 98.8,118.9 98.6,119.2 98.4,119.5 98.2,119.8 98.0,120.0 97.7,120.2 97.5,120.5 97.2,120.8 97.0,121.0 96.7,121.2 96.4,121.5 96.1,121.7 95.8,121.9 95.6,122.1 95.3,122.2 94.9,122.5 94.6,122.7 94.3,122.8 94.1,123.0 93.6,123.2 93.3,123.3 93.0,123.5 92.6,123.7 92.3,123.8 91.8,123.9 91.6,124.0 91.1,124.2 90.7,124.2 90.3,124.3 89.8,124.4 89.6,124.5 89.1,124.6 88.6,124.6 88.1,124.7 87.6,124.7 87.1,124.7 86.6,124.7 86.1,124.7 85.6,124.7 85.1,124.7 84.6,124.6 84.1,124.5 83.8,124.5 83.3,124.4 82.8,124.3 82.6,124.2 82.1,124.0 81.8,124.0 81.3,123.8 81.1,123.7 80.6,123.5 80.3,123.4 80.0,123.2 79.6,123.0 79.3,122.9 79.1,122.8 78.6,122.5 78.3,122.3 78.1,122.2 77.8,122.0 77.5,121.8 77.2,121.5 76.9,121.2 76.6,121.0 76.4,120.7 76.1,120.5 75.9,120.2 75.6,120.0 75.4,119.8 75.2,119.5 75.0,119.2 74.8,119.0 74.6,118.7 74.3,118.3 74.2,118.0 74.1,117.8 73.8,117.4 73.7,117.0 73.6,116.8 73.4,116.2 73.3,116.0 73.1,115.5 73.1,115.2 73.0,114.8 72.9,114.2 72.8,114.0 72.8,113.5 72.7,113.0 72.7,112.5 72.7,112.0 72.7,111.5 72.8,111.0 72.8,110.5 72.9,110.2 72.9,109.8 73.0,109.2 73.0,108.8 73.1,108.3 73.1,108.0 73.2,107.5 73.3,107.0 73.3,106.5 73.3,106.2 73.4,105.8 73.5,105.2 73.6,104.8 73.6,104.5 73.7,104.0 73.8,103.6 73.9,103.2 74.1,102.8 74.2,102.5 74.3,102.0 74.4,101.8 74.6,101.4 74.8,101.0 74.9,100.8 75.1,100.3 75.2,100.0 75.4,99.8 75.6,99.3 75.8,99.0 75.9,98.8 76.1,98.5 76.3,98.1 76.6,97.8 76.8,97.5 77.0,97.2 77.2,97.0 77.4,96.8 77.6,96.5 77.8,96.2 78.1,96.0 78.3,95.7 78.6,95.5 78.8,95.2 79.1,95.0 79.4,94.8 79.7,94.5 80.0,94.2 80.3,94.0 80.6,93.9 80.8,93.7 81.2,93.5 81.6,93.3 81.8,93.1 82.1,93.0 82.6,92.8 82.8,92.6 83.1,92.5 83.6,92.3 83.8,92.2 84.3,92.0 84.6,92.0 85.1,91.8 85.4,91.8 85.8,91.6 86.3,91.5 86.6,91.5 87.1,91.4 87.6,91.3 88.1,91.3 88.5,91.2ZM141.0,95.8 141.3,95.7 141.8,95.6 142.3,95.6 142.8,95.7 143.1,95.8 143.6,95.9 143.9,96.1 144.2,96.2 144.6,96.5 144.8,96.7 145.1,96.9 145.3,97.1 145.6,97.3 145.8,97.6 146.1,97.9 146.3,98.2 146.6,98.5 146.8,98.8 146.9,99.0 147.1,99.3 147.3,99.7 147.5,100.0 147.6,100.2 147.9,100.7 148.0,101.0 148.1,101.3 148.3,101.7 148.4,102.0 148.5,102.5 148.6,102.8 148.8,103.2 148.9,103.5 149.0,104.0 149.1,104.5 149.2,104.8 149.3,105.2 149.3,105.7 149.4,106.0 149.5,106.5 149.5,107.0 149.6,107.5 149.6,107.8 149.6,108.2 149.7,108.8 149.7,109.2 149.7,109.8 149.8,110.2 149.8,110.8 149.8,111.2 149.9,111.5 149.9,112.0 149.9,112.5 150.0,113.0 150.0,113.5 150.0,114.0 150.1,114.5 150.1,115.0 150.1,115.5 150.1,116.0 150.0,116.5 150.0,117.0 149.9,117.5 149.9,117.9 149.8,118.3 149.7,118.8 149.6,119.1 149.5,119.5 149.4,120.0 149.3,120.3 149.1,120.7 149.0,121.0 148.8,121.3 148.6,121.8 148.5,122.0 148.3,122.3 148.1,122.7 147.9,123.0 147.7,123.2 147.5,123.5 147.3,123.8 147.1,124.0 146.8,124.3 146.6,124.6 146.3,124.8 146.1,125.0 145.8,125.3 145.4,125.5 145.1,125.7 144.8,125.8 144.5,126.0 144.1,126.2 143.8,126.2 143.3,126.4 142.8,126.5 142.6,126.5 142.1,126.5 141.6,126.5 141.3,126.5 140.9,126.4 140.3,126.3 140.1,126.2 139.6,126.0 139.3,125.9 139.0,125.8 138.6,125.5 138.3,125.3 138.1,125.2 137.8,125.0 137.6,124.7 137.3,124.5 137.1,124.2 136.8,124.0 136.6,123.7 136.3,123.4 136.1,123.0 135.9,122.8 135.8,122.5 135.6,122.2 135.4,121.8 135.2,121.5 135.1,121.2 134.9,120.8 134.8,120.5 134.6,120.0 134.6,119.8 134.4,119.2 134.3,118.9 134.2,118.5 134.2,118.0 134.1,117.6 134.0,117.2 134.0,116.8 134.0,116.2 133.9,115.8 133.9,115.2 133.9,114.8 133.9,114.2 134.0,113.8 134.0,113.2 134.0,112.8 134.1,112.2 134.1,112.0 134.1,111.5 134.2,111.0 134.2,110.5 134.2,110.0 134.3,109.5 134.3,109.0 134.3,108.5 134.4,108.2 134.4,107.8 134.4,107.2 134.5,106.8 134.6,106.2 134.6,106.0 134.7,105.5 134.8,105.0 134.8,104.6 134.9,104.2 135.1,103.8 135.1,103.5 135.3,103.0 135.4,102.8 135.5,102.2 135.6,102.0 135.8,101.5 135.9,101.2 136.1,100.8 136.2,100.5 136.4,100.2 136.6,99.8 136.8,99.5 136.9,99.2 137.1,99.0 137.3,98.6 137.6,98.2 137.8,98.0 138.0,97.8 138.2,97.5 138.5,97.2 138.7,97.0 139.0,96.8 139.4,96.5 139.6,96.3 139.8,96.2 140.3,96.0 140.6,95.9 141.0,95.8ZM87.0,92.2 87.3,92.2 87.8,92.1 88.3,92.1 88.8,92.1 89.3,92.1 89.8,92.1 90.3,92.2 90.7,92.2 91.1,92.3 91.6,92.5 91.8,92.6 92.1,92.8 92.6,93.0 92.8,93.2 93.1,93.3 93.3,93.5 93.6,93.8 93.9,94.0 94.1,94.2 94.4,94.5 94.6,94.8 94.8,95.0 95.1,95.3 95.3,95.6 95.6,95.9 95.8,96.2 96.0,96.5 96.2,96.8 96.4,97.0 96.6,97.4 96.8,97.7 97.0,98.0 97.2,98.2 97.3,98.5 97.6,99.0 97.8,99.2 97.9,99.5 98.1,99.9 98.3,100.2 98.4,100.5 98.6,101.0 98.7,101.2 98.8,101.7 99.0,102.0 99.1,102.4 99.2,102.8 99.3,103.2 99.4,103.5 99.5,104.0 99.6,104.5 99.7,104.8 99.7,105.2 99.8,105.8 99.8,106.2 99.8,106.5 99.9,107.0 99.9,107.5 100.0,108.0 100.0,108.5 100.1,109.0 100.1,109.3 100.1,109.8 100.2,110.2 100.2,110.8 100.3,111.2 100.3,111.8 100.3,112.2 100.3,112.8 100.3,113.2 100.2,113.8 100.1,114.2 100.1,114.5 100.0,115.0 99.8,115.4 99.7,115.8 99.6,116.1 99.4,116.5 99.3,116.8 99.1,117.2 99.0,117.5 98.8,117.8 98.6,118.1 98.3,118.5 98.1,118.8 98.0,119.0 97.7,119.2 97.5,119.5 97.3,119.8 97.1,120.0 96.8,120.2 96.5,120.5 96.3,120.8 96.0,121.0 95.6,121.2 95.3,121.5 95.1,121.6 94.8,121.8 94.5,122.0 94.1,122.2 93.8,122.4 93.6,122.5 93.1,122.7 92.8,122.9 92.5,123.0 92.1,123.2 91.8,123.3 91.3,123.4 91.1,123.5 90.6,123.6 90.1,123.7 89.8,123.8 89.3,123.9 88.8,124.0 88.6,124.0 88.1,124.0 87.6,124.1 87.1,124.1 86.6,124.1 86.1,124.1 85.6,124.1 85.1,124.0 84.8,124.0 84.3,123.9 83.8,123.8 83.5,123.8 83.1,123.7 82.6,123.5 82.3,123.4 81.8,123.3 81.6,123.2 81.1,123.0 80.8,122.9 80.5,122.8 80.1,122.6 79.8,122.4 79.5,122.2 79.1,122.0 78.8,121.8 78.6,121.7 78.3,121.5 78.0,121.2 77.7,121.0 77.4,120.8 77.1,120.5 76.8,120.3 76.6,120.0 76.3,119.8 76.1,119.5 75.9,119.2 75.7,119.0 75.5,118.8 75.3,118.5 75.1,118.2 74.9,117.8 74.7,117.5 74.6,117.2 74.3,116.8 74.2,116.5 74.1,116.2 73.9,115.8 73.8,115.5 73.7,115.0 73.6,114.5 73.6,114.2 73.5,113.8 73.4,113.2 73.4,112.8 73.4,112.2 73.4,111.8 73.4,111.2 73.5,110.8 73.5,110.2 73.6,109.8 73.6,109.5 73.7,109.0 73.7,108.5 73.8,108.0 73.8,107.5 73.9,107.2 73.9,106.8 74.0,106.2 74.0,105.8 74.1,105.3 74.2,105.0 74.3,104.5 74.3,104.1 74.4,103.8 74.6,103.2 74.6,103.0 74.8,102.5 74.9,102.2 75.1,101.8 75.2,101.5 75.3,101.1 75.5,100.8 75.7,100.5 75.8,100.1 76.0,99.8 76.2,99.5 76.3,99.2 76.6,98.8 76.8,98.5 77.0,98.2 77.2,98.0 77.4,97.7 77.6,97.5 77.8,97.2 78.1,96.9 78.3,96.6 78.6,96.3 78.8,96.1 79.1,95.9 79.3,95.6 79.6,95.4 79.8,95.2 80.1,95.0 80.5,94.8 80.8,94.5 81.1,94.3 81.3,94.2 81.7,94.0 82.1,93.8 82.3,93.6 82.6,93.5 83.1,93.3 83.3,93.2 83.8,93.0 84.1,92.9 84.6,92.8 84.8,92.7 85.3,92.6 85.6,92.5 86.1,92.4 86.6,92.3 87.0,92.2ZM140.9,96.8 141.3,96.6 141.8,96.6 142.3,96.6 142.8,96.7 143.1,96.8 143.6,96.9 143.8,97.0 144.2,97.2 144.6,97.5 144.8,97.7 145.1,97.9 145.3,98.2 145.6,98.4 145.8,98.7 146.1,99.0 146.3,99.2 146.4,99.5 146.6,99.8 146.8,100.2 147.0,100.5 147.2,100.8 147.3,101.2 147.5,101.5 147.6,101.8 147.8,102.2 147.9,102.5 148.1,103.0 148.2,103.2 148.3,103.8 148.4,104.0 148.5,104.5 148.6,104.9 148.7,105.2 148.8,105.8 148.8,106.2 148.9,106.5 148.9,107.0 149.0,107.5 149.0,108.0 149.1,108.5 149.1,109.0 149.1,109.2 149.1,109.8 149.2,110.2 149.2,110.8 149.2,111.2 149.3,111.8 149.3,112.2 149.3,112.8 149.3,113.1 149.4,113.5 149.4,114.0 149.4,114.5 149.4,115.0 149.4,115.5 149.4,116.0 149.4,116.5 149.3,116.7 149.3,117.2 149.2,117.8 149.1,118.2 149.0,118.5 148.9,119.0 148.8,119.2 148.7,119.8 148.6,120.0 148.4,120.5 148.3,120.8 148.1,121.1 147.9,121.5 147.8,121.8 147.6,122.0 147.3,122.4 147.1,122.7 146.9,123.0 146.7,123.2 146.4,123.5 146.2,123.8 145.9,124.0 145.6,124.2 145.3,124.4 145.1,124.6 144.8,124.8 144.4,125.0 144.1,125.1 143.7,125.2 143.3,125.4 142.8,125.5 142.5,125.5 142.1,125.5 141.6,125.5 141.3,125.5 140.8,125.4 140.3,125.3 140.1,125.2 139.6,125.0 139.3,124.9 139.1,124.7 138.7,124.5 138.4,124.2 138.1,124.0 137.8,123.8 137.6,123.6 137.3,123.3 137.1,123.0 136.9,122.7 136.7,122.5 136.5,122.2 136.3,121.9 136.1,121.5 136.0,121.2 135.8,121.0 135.6,120.5 135.5,120.2 135.3,119.9 135.2,119.5 135.1,119.1 135.0,118.8 134.9,118.2 134.8,118.0 134.7,117.5 134.7,117.0 134.6,116.5 134.6,116.2 134.6,115.8 134.6,115.2 134.6,114.8 134.6,114.2 134.6,113.8 134.6,113.5 134.6,113.0 134.7,112.5 134.7,112.0 134.7,111.5 134.8,111.0 134.8,110.5 134.8,110.0 134.9,109.8 134.9,109.2 134.9,108.7 134.9,108.2 135.0,107.8 135.0,107.2 135.1,106.8 135.1,106.5 135.2,106.0 135.3,105.5 135.3,105.1 135.4,104.8 135.5,104.2 135.6,104.0 135.8,103.5 135.8,103.2 136.0,102.8 136.1,102.5 136.3,102.0 136.4,101.8 136.6,101.2 136.7,101.0 136.8,100.7 137.1,100.3 137.2,100.0 137.4,99.8 137.6,99.5 137.8,99.1 138.1,98.8 138.3,98.5 138.6,98.2 138.8,98.0 139.1,97.8 139.3,97.5 139.6,97.4 139.8,97.2 140.2,97.0 140.6,96.8 140.9,96.8ZM87.2,93.0 87.6,93.0 88.1,92.9 88.6,92.9 89.1,92.9 89.6,92.9 90.1,92.9 90.5,93.0 90.8,93.1 91.3,93.2 91.6,93.3 92.0,93.5 92.3,93.7 92.6,93.9 92.8,94.0 93.1,94.2 93.4,94.5 93.7,94.8 93.9,95.0 94.2,95.2 94.4,95.5 94.6,95.8 94.8,96.1 95.1,96.4 95.3,96.7 95.6,97.0 95.7,97.2 95.9,97.5 96.1,97.8 96.3,98.1 96.6,98.5 96.7,98.8 96.9,99.0 97.1,99.4 97.3,99.8 97.4,100.0 97.6,100.3 97.8,100.8 97.9,101.0 98.1,101.5 98.2,101.8 98.3,102.1 98.5,102.5 98.6,102.9 98.7,103.2 98.8,103.8 98.9,104.0 99.0,104.5 99.1,105.0 99.1,105.3 99.2,105.8 99.2,106.2 99.2,106.8 99.3,107.3 99.3,107.8 99.3,108.0 99.4,108.5 99.4,109.0 99.5,109.5 99.5,110.0 99.6,110.5 99.6,110.8 99.6,111.2 99.7,111.8 99.7,112.2 99.6,112.8 99.6,113.2 99.6,113.5 99.5,114.0 99.4,114.5 99.3,114.8 99.2,115.2 99.1,115.5 98.9,116.0 98.8,116.2 98.6,116.7 98.5,117.0 98.3,117.2 98.1,117.6 97.9,118.0 97.7,118.2 97.5,118.5 97.3,118.8 97.1,119.0 96.8,119.3 96.6,119.5 96.3,119.8 96.1,120.0 95.8,120.2 95.5,120.5 95.2,120.8 94.9,121.0 94.6,121.2 94.3,121.3 94.1,121.5 93.7,121.8 93.3,121.9 93.1,122.0 92.6,122.2 92.3,122.4 92.0,122.5 91.6,122.7 91.3,122.8 90.8,122.9 90.5,123.0 90.1,123.1 89.6,123.2 89.3,123.2 88.8,123.3 88.3,123.4 87.8,123.4 87.3,123.5 86.8,123.5 86.3,123.5 85.8,123.4 85.3,123.4 84.8,123.3 84.3,123.3 84.1,123.2 83.6,123.1 83.1,123.0 82.8,122.9 82.3,122.8 82.1,122.7 81.6,122.5 81.3,122.4 81.0,122.2 80.6,122.1 80.3,121.9 80.0,121.8 79.6,121.5 79.3,121.4 79.1,121.2 78.8,121.0 78.4,120.8 78.1,120.5 77.8,120.3 77.6,120.1 77.3,119.8 77.1,119.6 76.8,119.3 76.6,119.0 76.4,118.8 76.2,118.5 76.0,118.2 75.8,118.0 75.6,117.7 75.4,117.2 75.2,117.0 75.1,116.8 74.9,116.2 74.8,116.0 74.6,115.5 74.5,115.2 74.4,114.8 74.3,114.5 74.2,114.0 74.1,113.5 74.1,113.2 74.1,112.8 74.0,112.2 74.1,111.8 74.1,111.2 74.1,111.0 74.2,110.5 74.2,110.0 74.3,109.5 74.3,109.0 74.3,108.7 74.4,108.2 74.5,107.8 74.5,107.2 74.6,106.8 74.6,106.4 74.6,106.0 74.7,105.5 74.8,105.0 74.8,104.7 74.9,104.2 75.1,103.8 75.1,103.5 75.3,103.0 75.4,102.8 75.5,102.2 75.6,102.0 75.8,101.5 76.0,101.2 76.1,101.0 76.3,100.5 76.5,100.2 76.6,100.0 76.8,99.6 77.1,99.2 77.2,99.0 77.4,98.8 77.6,98.5 77.8,98.1 78.1,97.8 78.3,97.5 78.6,97.2 78.8,97.0 79.1,96.8 79.3,96.5 79.6,96.3 79.8,96.0 80.1,95.8 80.3,95.6 80.6,95.5 80.9,95.2 81.3,95.0 81.6,94.8 81.8,94.7 82.1,94.5 82.6,94.3 82.8,94.2 83.2,94.0 83.6,93.8 83.9,93.8 84.3,93.6 84.6,93.5 85.1,93.4 85.6,93.3 85.8,93.2 86.3,93.1 86.8,93.0 87.2,93.0ZM140.8,97.8 141.1,97.6 141.6,97.6 142.1,97.5 142.6,97.6 143.1,97.7 143.3,97.8 143.8,98.0 144.1,98.2 144.3,98.4 144.6,98.6 144.8,98.8 145.1,99.0 145.3,99.3 145.6,99.6 145.8,99.9 146.1,100.3 146.3,100.5 146.4,100.8 146.6,101.1 146.8,101.5 146.9,101.8 147.1,102.1 147.3,102.5 147.4,102.8 147.5,103.2 147.6,103.5 147.8,104.0 147.8,104.3 148.0,104.8 148.1,105.2 148.1,105.5 148.2,106.0 148.3,106.5 148.3,106.9 148.4,107.2 148.4,107.8 148.5,108.2 148.5,108.8 148.5,109.2 148.5,109.8 148.6,110.2 148.6,110.7 148.6,111.0 148.6,111.5 148.7,112.0 148.7,112.5 148.7,113.0 148.8,113.5 148.8,114.0 148.8,114.5 148.8,115.0 148.8,115.5 148.8,116.0 148.7,116.5 148.7,117.0 148.6,117.3 148.5,117.8 148.4,118.2 148.3,118.5 148.2,119.0 148.1,119.3 147.9,119.8 147.8,120.0 147.6,120.5 147.5,120.8 147.3,121.0 147.1,121.4 146.8,121.7 146.7,122.0 146.5,122.2 146.2,122.5 146.0,122.8 145.7,123.0 145.4,123.2 145.1,123.5 144.8,123.7 144.6,123.8 144.3,124.0 143.8,124.2 143.6,124.3 143.1,124.4 142.6,124.5 142.3,124.5 141.8,124.5 141.4,124.5 141.1,124.5 140.6,124.3 140.3,124.2 139.8,124.1 139.6,123.9 139.3,123.8 138.9,123.5 138.6,123.3 138.3,123.1 138.1,122.8 137.8,122.6 137.6,122.3 137.3,122.0 137.2,121.8 137.0,121.5 136.8,121.2 136.6,120.9 136.4,120.5 136.3,120.2 136.1,119.8 136.0,119.5 135.8,119.1 135.7,118.8 135.6,118.3 135.5,118.0 135.4,117.5 135.3,117.1 135.3,116.8 135.2,116.2 135.2,115.8 135.2,115.2 135.2,114.8 135.2,114.2 135.2,113.8 135.2,113.2 135.3,112.8 135.3,112.2 135.3,111.8 135.4,111.5 135.4,111.0 135.4,110.5 135.4,110.0 135.5,109.5 135.5,109.0 135.5,108.5 135.5,108.0 135.6,107.5 135.6,107.2 135.7,106.8 135.7,106.2 135.8,105.8 135.9,105.5 136.0,105.0 136.1,104.5 136.2,104.2 136.3,103.8 136.4,103.5 136.5,103.0 136.6,102.8 136.8,102.2 136.9,102.0 137.1,101.7 137.3,101.2 137.4,101.0 137.6,100.7 137.8,100.3 138.1,100.0 138.3,99.8 138.5,99.5 138.7,99.2 138.9,99.0 139.2,98.8 139.5,98.5 139.8,98.2 140.1,98.1 140.3,97.9 140.8,97.8ZM87.1,93.8 87.6,93.7 88.1,93.7 88.6,93.7 89.1,93.6 89.6,93.7 90.1,93.7 90.4,93.8 90.8,93.8 91.3,94.0 91.6,94.1 91.9,94.2 92.3,94.5 92.6,94.7 92.8,94.9 93.1,95.1 93.3,95.4 93.6,95.6 93.8,95.9 94.1,96.2 94.3,96.5 94.6,96.8 94.8,97.0 94.9,97.2 95.1,97.5 95.3,97.8 95.6,98.2 95.8,98.5 96.0,98.8 96.2,99.0 96.3,99.3 96.6,99.8 96.7,100.0 96.9,100.2 97.1,100.7 97.2,101.0 97.3,101.3 97.5,101.8 97.6,102.0 97.8,102.5 97.9,102.8 98.1,103.2 98.1,103.5 98.2,104.0 98.3,104.5 98.4,104.8 98.5,105.2 98.5,105.8 98.6,106.2 98.6,106.7 98.6,107.0 98.7,107.5 98.7,108.0 98.8,108.5 98.8,109.0 98.8,109.5 98.9,109.8 98.9,110.2 99.0,110.8 99.0,111.2 99.0,111.8 99.0,112.2 99.0,112.8 98.9,113.2 98.9,113.8 98.8,114.0 98.7,114.5 98.6,114.9 98.5,115.2 98.3,115.6 98.2,116.0 98.1,116.2 97.8,116.7 97.7,117.0 97.5,117.2 97.3,117.6 97.1,117.9 96.8,118.2 96.6,118.5 96.4,118.8 96.2,119.0 96.0,119.2 95.7,119.5 95.4,119.8 95.1,120.0 94.8,120.2 94.6,120.4 94.3,120.6 94.1,120.8 93.7,121.0 93.3,121.2 93.1,121.3 92.7,121.5 92.3,121.7 92.1,121.8 91.6,122.0 91.3,122.1 90.8,122.2 90.6,122.3 90.1,122.4 89.8,122.5 89.3,122.6 88.8,122.7 88.4,122.8 88.1,122.8 87.6,122.8 87.1,122.8 86.6,122.8 86.1,122.8 85.6,122.8 85.3,122.8 84.8,122.7 84.3,122.6 83.8,122.5 83.6,122.5 83.1,122.3 82.8,122.2 82.3,122.1 82.1,122.0 81.6,121.8 81.3,121.7 80.9,121.5 80.6,121.3 80.3,121.2 80.0,121.0 79.6,120.8 79.3,120.6 79.1,120.4 78.8,120.2 78.6,120.0 78.3,119.8 78.0,119.5 77.7,119.2 77.5,119.0 77.3,118.8 77.0,118.5 76.8,118.2 76.6,117.9 76.3,117.6 76.1,117.2 76.0,117.0 75.8,116.7 75.6,116.2 75.5,116.0 75.3,115.6 75.2,115.2 75.1,114.9 75.0,114.5 74.9,114.0 74.8,113.7 74.8,113.2 74.7,112.8 74.7,112.2 74.7,111.8 74.7,111.2 74.8,110.8 74.8,110.2 74.9,110.0 74.9,109.5 75.0,109.0 75.0,108.5 75.1,108.0 75.1,107.7 75.1,107.2 75.2,106.8 75.2,106.2 75.3,105.8 75.3,105.4 75.4,105.0 75.5,104.5 75.6,104.1 75.7,103.8 75.8,103.2 75.9,103.0 76.1,102.5 76.2,102.2 76.3,101.8 76.5,101.5 76.6,101.2 76.8,100.8 77.0,100.5 77.1,100.2 77.3,99.9 77.6,99.5 77.8,99.2 77.9,99.0 78.1,98.8 78.3,98.5 78.6,98.2 78.8,97.9 79.1,97.6 79.3,97.3 79.6,97.1 79.8,96.9 80.1,96.7 80.3,96.4 80.6,96.2 80.9,96.0 81.3,95.8 81.6,95.6 81.8,95.4 82.1,95.2 82.6,95.0 82.8,94.9 83.2,94.8 83.6,94.6 83.8,94.5 84.3,94.3 84.6,94.2 85.1,94.1 85.5,94.0 85.8,93.9 86.3,93.8 86.8,93.8 87.1,93.8ZM141.7,98.5 142.1,98.5 142.3,98.5 142.8,98.6 143.3,98.8 143.6,98.9 143.8,99.0 144.2,99.2 144.5,99.5 144.7,99.8 145.0,100.0 145.2,100.2 145.4,100.5 145.6,100.8 145.8,101.1 146.1,101.5 146.2,101.8 146.3,102.0 146.6,102.5 146.7,102.8 146.8,103.1 147.0,103.5 147.1,103.8 147.2,104.2 147.3,104.7 147.4,105.0 147.5,105.5 147.6,105.8 147.7,106.2 147.7,106.8 147.8,107.2 147.8,107.8 147.9,108.0 147.9,108.5 147.9,109.0 147.9,109.5 148.0,110.0 148.0,110.5 148.0,111.0 148.0,111.5 148.1,112.0 148.1,112.5 148.1,112.8 148.1,113.2 148.2,113.8 148.2,114.2 148.2,114.8 148.2,115.2 148.1,115.8 148.1,116.2 148.1,116.5 148.0,117.0 147.9,117.5 147.8,117.8 147.7,118.2 147.6,118.6 147.5,119.0 147.3,119.2 147.1,119.8 147.0,120.0 146.8,120.3 146.6,120.7 146.4,121.0 146.2,121.2 146.0,121.5 145.8,121.8 145.6,122.0 145.3,122.2 145.0,122.5 144.6,122.8 144.3,122.9 144.1,123.1 143.7,123.2 143.3,123.4 142.8,123.5 142.6,123.5 142.1,123.6 141.6,123.5 141.3,123.5 140.8,123.4 140.3,123.3 140.1,123.2 139.8,123.0 139.4,122.8 139.1,122.6 138.8,122.4 138.6,122.2 138.3,121.9 138.1,121.6 137.8,121.3 137.6,121.0 137.4,120.8 137.3,120.5 137.1,120.2 136.9,119.8 136.8,119.5 136.6,119.1 136.5,118.8 136.3,118.4 136.2,118.0 136.1,117.5 136.1,117.2 136.0,116.8 135.9,116.2 135.9,115.8 135.8,115.5 135.8,115.0 135.8,114.5 135.8,114.0 135.8,113.6 135.9,113.2 135.9,112.8 135.9,112.2 135.9,111.8 136.0,111.2 136.0,110.8 136.0,110.2 136.0,109.8 136.1,109.2 136.1,108.8 136.1,108.5 136.1,108.0 136.2,107.5 136.2,107.0 136.3,106.5 136.3,106.1 136.4,105.8 136.5,105.2 136.6,104.9 136.7,104.5 136.8,104.0 136.9,103.8 137.1,103.3 137.2,103.0 137.3,102.6 137.5,102.2 137.7,102.0 137.8,101.6 138.1,101.2 138.2,101.0 138.4,100.8 138.6,100.5 138.8,100.2 139.1,99.9 139.3,99.6 139.6,99.4 139.8,99.2 140.2,99.0 140.6,98.8 140.8,98.7 141.4,98.6 141.7,98.5ZM86.8,94.5 87.1,94.5 87.6,94.4 88.1,94.4 88.6,94.4 89.1,94.4 89.6,94.4 90.1,94.5 90.4,94.5 90.8,94.6 91.3,94.7 91.6,94.9 91.8,95.0 92.2,95.2 92.5,95.5 92.8,95.8 93.0,96.0 93.3,96.2 93.5,96.5 93.7,96.8 93.9,97.0 94.1,97.2 94.3,97.5 94.6,97.9 94.8,98.2 95.1,98.5 95.3,98.8 95.4,99.0 95.6,99.3 95.8,99.7 96.0,100.0 96.2,100.2 96.3,100.6 96.6,101.0 96.7,101.2 96.8,101.6 97.0,102.0 97.1,102.3 97.3,102.8 97.3,103.0 97.5,103.5 97.6,103.9 97.7,104.2 97.8,104.8 97.8,105.2 97.9,105.5 97.9,106.0 98.0,106.5 98.0,107.0 98.0,107.5 98.1,108.0 98.1,108.2 98.1,108.8 98.2,109.2 98.2,109.8 98.3,110.2 98.3,110.8 98.3,111.2 98.4,111.5 98.4,112.0 98.4,112.5 98.3,112.8 98.3,113.2 98.2,113.8 98.1,114.2 98.0,114.5 97.9,115.0 97.8,115.2 97.6,115.7 97.5,116.0 97.3,116.2 97.1,116.7 96.9,117.0 96.8,117.2 96.6,117.5 96.3,117.8 96.1,118.1 95.8,118.4 95.6,118.7 95.3,118.9 95.1,119.2 94.8,119.4 94.6,119.6 94.3,119.8 94.0,120.0 93.7,120.2 93.3,120.4 93.1,120.6 92.8,120.8 92.3,121.0 92.1,121.1 91.7,121.2 91.3,121.4 91.1,121.5 90.6,121.7 90.3,121.8 89.8,121.9 89.3,122.0 89.1,122.0 88.6,122.1 88.1,122.1 87.6,122.2 87.1,122.2 86.6,122.2 86.1,122.2 85.6,122.2 85.1,122.1 84.6,122.0 84.3,122.0 83.8,121.9 83.4,121.8 83.1,121.7 82.6,121.5 82.3,121.4 82.0,121.2 81.6,121.1 81.3,121.0 80.9,120.8 80.6,120.6 80.3,120.4 80.0,120.2 79.7,120.0 79.3,119.8 79.1,119.6 78.8,119.4 78.6,119.2 78.3,118.9 78.1,118.7 77.8,118.4 77.6,118.1 77.3,117.8 77.1,117.5 77.0,117.2 76.8,117.0 76.6,116.7 76.4,116.2 76.3,116.0 76.1,115.7 75.9,115.2 75.8,115.0 75.7,114.5 75.6,114.1 75.5,113.8 75.5,113.2 75.4,112.8 75.4,112.2 75.4,111.8 75.4,111.2 75.4,110.8 75.5,110.2 75.5,109.8 75.6,109.2 75.6,109.0 75.7,108.5 75.7,108.0 75.7,107.5 75.8,107.0 75.8,106.5 75.9,106.2 75.9,105.8 76.0,105.2 76.1,104.8 76.1,104.5 76.2,104.0 76.3,103.6 76.5,103.2 76.6,102.8 76.7,102.5 76.8,102.2 77.0,101.8 77.2,101.5 77.3,101.1 77.5,100.8 77.7,100.5 77.8,100.2 78.1,99.8 78.3,99.5 78.5,99.2 78.7,99.0 78.9,98.8 79.1,98.5 79.3,98.2 79.6,98.0 79.8,97.7 80.1,97.5 80.4,97.3 80.6,97.0 81.0,96.8 81.3,96.5 81.6,96.3 81.8,96.1 82.1,96.0 82.6,95.8 82.8,95.6 83.1,95.5 83.6,95.3 83.8,95.2 84.4,95.0 84.6,94.9 85.1,94.8 85.3,94.7 85.8,94.6 86.3,94.6 86.8,94.5ZM141.4,99.5 141.8,99.4 142.3,99.5 142.6,99.5 143.1,99.7 143.4,99.8 143.8,100.0 144.1,100.2 144.3,100.4 144.6,100.7 144.8,101.0 145.1,101.3 145.3,101.5 145.4,101.8 145.6,102.0 145.8,102.5 146.0,102.8 146.1,103.0 146.3,103.5 146.4,103.8 146.6,104.2 146.7,104.5 146.8,105.0 146.9,105.2 147.0,105.8 147.1,106.2 147.1,106.5 147.2,107.0 147.2,107.5 147.3,108.0 147.3,108.5 147.3,109.0 147.3,109.5 147.4,109.8 147.4,110.2 147.4,110.8 147.4,111.2 147.4,111.8 147.5,112.2 147.5,112.8 147.5,113.3 147.5,113.8 147.6,114.2 147.6,114.8 147.5,115.2 147.5,115.8 147.5,116.2 147.4,116.8 147.3,117.0 147.2,117.5 147.1,117.9 147.0,118.2 146.8,118.6 146.7,119.0 146.6,119.2 146.3,119.6 146.1,120.0 146.0,120.2 145.8,120.5 145.6,120.7 145.3,121.0 145.1,121.3 144.8,121.5 144.5,121.7 144.1,122.0 143.8,122.2 143.6,122.3 143.1,122.4 142.8,122.5 142.3,122.6 141.8,122.6 141.3,122.5 141.1,122.5 140.6,122.3 140.3,122.2 139.9,122.0 139.6,121.8 139.3,121.7 139.1,121.5 138.8,121.2 138.6,121.0 138.3,120.7 138.1,120.4 137.9,120.0 137.7,119.8 137.6,119.5 137.3,119.1 137.2,118.8 137.1,118.5 136.9,118.0 136.8,117.7 136.7,117.2 136.6,116.8 136.6,116.5 136.5,116.0 136.5,115.5 136.4,115.0 136.4,114.5 136.4,114.0 136.5,113.5 136.5,113.0 136.5,112.5 136.5,112.0 136.6,111.5 136.6,111.0 136.6,110.8 136.6,110.2 136.6,109.8 136.7,109.2 136.7,108.8 136.7,108.2 136.7,107.8 136.8,107.2 136.8,106.8 136.9,106.5 137.0,106.0 137.1,105.5 137.1,105.2 137.2,104.8 137.3,104.4 137.5,104.0 137.6,103.7 137.8,103.2 137.9,103.0 138.1,102.5 138.3,102.2 138.4,102.0 138.6,101.7 138.8,101.3 139.1,101.0 139.3,100.8 139.6,100.5 139.8,100.3 140.1,100.1 140.3,99.9 140.7,99.7 141.1,99.6 141.4,99.5ZM86.3,95.2 86.6,95.2 87.1,95.2 87.6,95.1 88.1,95.1 88.6,95.1 89.1,95.1 89.6,95.1 90.1,95.2 90.5,95.2 90.9,95.3 91.3,95.5 91.6,95.6 91.8,95.8 92.1,96.0 92.4,96.2 92.6,96.5 92.8,96.8 93.1,97.0 93.3,97.3 93.6,97.6 93.8,97.9 94.1,98.2 94.3,98.5 94.5,98.8 94.7,99.0 94.8,99.3 95.1,99.6 95.3,100.0 95.5,100.2 95.6,100.5 95.8,100.9 96.0,101.2 96.1,101.5 96.3,102.0 96.4,102.2 96.6,102.7 96.7,103.0 96.8,103.5 96.9,103.8 97.1,104.2 97.1,104.5 97.2,105.0 97.3,105.5 97.3,106.0 97.3,106.5 97.4,106.8 97.4,107.2 97.4,107.8 97.5,108.2 97.5,108.8 97.6,109.2 97.6,109.8 97.6,110.0 97.7,110.5 97.7,111.0 97.7,111.5 97.7,112.0 97.7,112.5 97.7,113.0 97.6,113.3 97.5,113.8 97.4,114.2 97.3,114.5 97.2,115.0 97.1,115.2 96.8,115.7 96.7,116.0 96.6,116.3 96.3,116.7 96.1,117.0 95.9,117.2 95.8,117.5 95.5,117.8 95.3,118.0 95.1,118.2 94.8,118.5 94.6,118.8 94.3,119.0 94.0,119.2 93.6,119.5 93.3,119.7 93.1,119.8 92.8,120.0 92.4,120.2 92.1,120.4 91.8,120.5 91.4,120.7 91.1,120.8 90.6,121.0 90.3,121.1 89.8,121.2 89.6,121.3 89.1,121.4 88.6,121.5 88.2,121.5 87.8,121.5 87.3,121.6 86.8,121.6 86.3,121.6 85.8,121.5 85.5,121.5 85.1,121.5 84.6,121.4 84.1,121.3 83.8,121.2 83.3,121.1 83.1,121.0 82.6,120.8 82.3,120.7 81.8,120.5 81.6,120.4 81.3,120.2 80.9,120.0 80.6,119.8 80.3,119.7 80.1,119.5 79.7,119.2 79.4,119.0 79.1,118.8 78.9,118.5 78.6,118.2 78.4,118.0 78.2,117.8 78.0,117.5 77.8,117.2 77.6,117.0 77.3,116.6 77.1,116.2 77.0,116.0 76.8,115.7 76.7,115.2 76.6,115.0 76.4,114.5 76.3,114.2 76.2,113.8 76.1,113.2 76.1,113.0 76.0,112.5 76.0,112.0 76.0,111.5 76.1,111.0 76.1,110.6 76.1,110.2 76.2,109.8 76.2,109.2 76.3,108.8 76.3,108.2 76.3,107.8 76.4,107.5 76.4,107.0 76.5,106.5 76.5,106.0 76.6,105.5 76.6,105.2 76.7,104.8 76.8,104.2 76.9,104.0 77.0,103.5 77.1,103.2 77.3,102.8 77.4,102.5 77.6,102.0 77.7,101.8 77.8,101.4 78.1,101.0 78.2,100.8 78.4,100.5 78.6,100.1 78.8,99.8 79.1,99.5 79.3,99.2 79.5,99.0 79.7,98.8 79.9,98.5 80.2,98.2 80.4,98.0 80.7,97.8 81.0,97.5 81.3,97.2 81.6,97.1 81.8,96.9 82.1,96.7 82.5,96.5 82.8,96.3 83.1,96.2 83.5,96.0 83.8,95.9 84.2,95.8 84.6,95.6 85.0,95.5 85.3,95.4 85.8,95.3 86.3,95.2ZM141.3,100.5 141.6,100.4 142.1,100.4 142.6,100.5 142.8,100.5 143.3,100.7 143.6,100.9 143.8,101.1 144.1,101.3 144.3,101.5 144.6,101.8 144.8,102.1 145.1,102.5 145.3,102.8 145.4,103.0 145.6,103.4 145.8,103.8 145.9,104.0 146.0,104.5 146.1,104.8 146.3,105.2 146.3,105.6 146.4,106.0 146.5,106.5 146.6,107.0 146.6,107.2 146.7,107.8 146.7,108.2 146.7,108.8 146.7,109.2 146.8,109.8 146.8,110.2 146.8,110.8 146.8,111.2 146.8,111.8 146.8,112.0 146.9,112.5 146.9,113.0 146.9,113.5 146.9,114.0 146.9,114.5 146.9,115.0 146.9,115.5 146.8,115.9 146.8,116.2 146.7,116.8 146.6,117.1 146.5,117.5 146.3,117.9 146.2,118.2 146.1,118.5 145.9,119.0 145.7,119.2 145.6,119.5 145.3,119.8 145.1,120.1 144.8,120.4 144.6,120.6 144.3,120.8 144.1,121.0 143.6,121.2 143.3,121.4 142.9,121.5 142.6,121.6 142.1,121.6 141.6,121.6 141.1,121.5 140.8,121.4 140.4,121.2 140.1,121.1 139.8,120.9 139.6,120.8 139.3,120.5 139.0,120.2 138.8,120.0 138.6,119.7 138.3,119.4 138.1,119.0 138.0,118.8 137.8,118.4 137.7,118.0 137.6,117.8 137.4,117.3 137.3,117.0 137.2,116.5 137.2,116.0 137.1,115.5 137.1,115.2 137.1,114.8 137.1,114.2 137.1,113.8 137.1,113.2 137.1,113.0 137.1,112.5 137.1,112.0 137.2,111.5 137.2,111.0 137.2,110.5 137.2,110.0 137.3,109.5 137.3,109.0 137.3,108.5 137.3,108.0 137.3,107.5 137.4,107.2 137.4,106.7 137.5,106.2 137.6,105.8 137.7,105.5 137.8,105.0 137.9,104.7 138.0,104.2 138.1,104.0 138.3,103.5 138.5,103.2 138.6,103.0 138.8,102.6 139.1,102.2 139.2,102.0 139.4,101.8 139.7,101.5 139.9,101.2 140.3,101.0 140.6,100.8 140.8,100.6 141.3,100.5ZM85.8,96.0 86.1,95.9 86.6,95.9 87.1,95.8 87.6,95.8 88.1,95.8 88.6,95.8 89.1,95.9 89.6,95.9 90.1,95.9 90.5,96.0 90.8,96.2 91.1,96.3 91.5,96.5 91.8,96.7 92.1,96.9 92.3,97.2 92.6,97.5 92.8,97.7 93.1,98.0 93.3,98.2 93.5,98.5 93.7,98.8 93.9,99.0 94.1,99.3 94.3,99.6 94.6,100.0 94.8,100.2 94.9,100.5 95.1,100.8 95.3,101.2 95.5,101.5 95.6,101.8 95.8,102.2 95.9,102.5 96.1,103.0 96.2,103.2 96.3,103.7 96.4,104.0 96.5,104.5 96.6,105.0 96.6,105.2 96.7,105.8 96.7,106.2 96.7,106.8 96.8,107.2 96.8,107.8 96.8,108.2 96.9,108.5 96.9,109.0 96.9,109.5 97.0,110.0 97.0,110.5 97.1,111.0 97.1,111.5 97.1,112.0 97.0,112.5 97.0,113.0 96.9,113.5 96.8,113.8 96.7,114.2 96.6,114.6 96.5,115.0 96.3,115.2 96.1,115.8 96.0,116.0 95.8,116.2 95.6,116.6 95.3,116.9 95.1,117.2 94.9,117.5 94.7,117.8 94.4,118.0 94.2,118.2 93.9,118.5 93.6,118.7 93.3,118.9 93.1,119.1 92.8,119.3 92.4,119.5 92.1,119.7 91.8,119.8 91.4,120.0 91.1,120.1 90.8,120.2 90.3,120.4 90.1,120.5 89.6,120.6 89.1,120.7 88.8,120.8 88.3,120.9 87.8,120.9 87.3,120.9 86.8,121.0 86.3,120.9 85.8,120.9 85.3,120.9 84.8,120.8 84.6,120.7 84.1,120.6 83.7,120.5 83.3,120.4 82.9,120.2 82.6,120.1 82.3,120.0 81.8,119.8 81.6,119.7 81.3,119.5 80.9,119.2 80.6,119.1 80.3,118.9 80.1,118.7 79.9,118.5 79.6,118.2 79.3,118.0 79.1,117.8 78.8,117.5 78.6,117.2 78.3,116.9 78.1,116.5 77.9,116.3 77.8,116.0 77.6,115.7 77.4,115.2 77.3,115.0 77.1,114.5 77.0,114.2 76.9,113.8 76.8,113.5 76.8,113.0 76.7,112.5 76.7,112.0 76.7,111.5 76.7,111.0 76.7,110.5 76.8,110.0 76.8,109.5 76.9,109.2 76.9,108.8 76.9,108.2 77.0,107.8 77.0,107.2 77.1,106.8 77.1,106.4 77.1,106.0 77.2,105.5 77.3,105.0 77.3,104.6 77.4,104.2 77.6,103.8 77.6,103.5 77.8,103.0 77.9,102.8 78.1,102.3 78.2,102.0 78.3,101.7 78.6,101.3 78.8,101.0 78.9,100.8 79.1,100.5 79.3,100.1 79.6,99.8 79.8,99.5 80.0,99.2 80.3,99.0 80.5,98.8 80.8,98.5 81.1,98.2 81.3,98.0 81.6,97.8 81.8,97.6 82.1,97.5 82.4,97.2 82.8,97.0 83.1,96.9 83.4,96.8 83.8,96.5 84.1,96.5 84.6,96.3 84.8,96.2 85.3,96.1 85.8,96.0ZM141.2,101.5 141.6,101.4 142.1,101.3 142.6,101.4 142.8,101.5 143.3,101.8 143.6,101.9 143.8,102.1 144.1,102.4 144.3,102.7 144.6,103.0 144.8,103.2 144.9,103.5 145.1,103.8 145.3,104.2 145.4,104.5 145.6,105.0 145.7,105.2 145.8,105.8 145.8,106.0 145.9,106.5 146.0,107.0 146.1,107.5 146.1,108.0 146.1,108.2 146.1,108.8 146.1,109.2 146.2,109.8 146.2,110.2 146.2,110.8 146.2,111.2 146.2,111.8 146.3,112.2 146.3,112.8 146.3,113.2 146.3,113.8 146.3,114.2 146.3,114.8 146.3,115.2 146.2,115.8 146.1,116.2 146.1,116.5 145.9,117.0 145.8,117.3 145.7,117.8 145.6,118.0 145.3,118.4 145.1,118.8 145.0,119.0 144.8,119.2 144.5,119.5 144.3,119.8 144.0,120.0 143.6,120.2 143.3,120.4 143.0,120.5 142.6,120.6 142.1,120.7 141.6,120.6 141.1,120.5 140.8,120.5 140.4,120.2 140.1,120.0 139.8,119.9 139.6,119.6 139.4,119.4 139.1,119.1 138.9,118.8 138.7,118.5 138.6,118.2 138.3,117.8 138.2,117.5 138.1,117.1 138.0,116.8 137.9,116.2 137.8,116.0 137.7,115.5 137.7,115.0 137.7,114.5 137.7,114.0 137.7,113.5 137.7,113.0 137.7,112.5 137.8,112.0 137.8,111.5 137.8,111.0 137.8,110.5 137.8,110.0 137.8,109.5 137.9,109.2 137.9,108.8 137.9,108.2 137.9,107.8 137.9,107.2 138.0,106.8 138.1,106.3 138.2,106.0 138.3,105.5 138.3,105.2 138.5,104.8 138.6,104.5 138.8,104.0 138.9,103.8 139.1,103.5 139.3,103.1 139.6,102.8 139.8,102.5 140.0,102.2 140.3,102.0 140.6,101.8 140.8,101.6 141.2,101.5ZM85.3,96.8 85.6,96.7 86.1,96.6 86.6,96.6 87.1,96.5 87.6,96.5 88.1,96.5 88.6,96.6 89.1,96.6 89.6,96.7 90.1,96.7 90.3,96.8 90.7,97.0 91.1,97.2 91.3,97.3 91.6,97.5 91.9,97.8 92.2,98.0 92.4,98.2 92.7,98.5 92.9,98.8 93.1,99.0 93.3,99.3 93.6,99.6 93.8,99.9 94.1,100.2 94.2,100.5 94.4,100.8 94.6,101.1 94.8,101.5 94.9,101.8 95.1,102.1 95.3,102.5 95.4,102.8 95.5,103.2 95.6,103.5 95.8,104.0 95.8,104.4 95.9,104.8 96.0,105.2 96.1,105.8 96.1,106.2 96.1,106.5 96.1,107.0 96.2,107.5 96.2,108.0 96.2,108.5 96.3,109.0 96.3,109.5 96.3,110.0 96.4,110.2 96.4,110.8 96.4,111.2 96.4,111.8 96.4,112.2 96.4,112.8 96.3,113.0 96.2,113.5 96.1,114.0 96.0,114.2 95.8,114.7 95.7,115.0 95.6,115.3 95.3,115.7 95.2,116.0 95.0,116.2 94.8,116.5 94.6,116.8 94.3,117.1 94.1,117.4 93.8,117.6 93.6,117.9 93.3,118.1 93.1,118.3 92.8,118.5 92.4,118.8 92.1,119.0 91.8,119.1 91.5,119.2 91.1,119.5 90.8,119.6 90.4,119.7 90.1,119.8 89.6,120.0 89.3,120.0 88.8,120.1 88.3,120.2 88.1,120.3 87.6,120.3 87.1,120.3 86.6,120.3 86.1,120.3 85.6,120.3 85.3,120.2 84.8,120.1 84.3,120.0 84.1,120.0 83.6,119.8 83.3,119.7 82.8,119.5 82.6,119.4 82.2,119.2 81.8,119.1 81.6,118.9 81.3,118.8 80.9,118.5 80.6,118.2 80.3,118.1 80.1,117.8 79.8,117.6 79.6,117.4 79.3,117.1 79.1,116.8 78.9,116.5 78.7,116.2 78.5,116.0 78.3,115.7 78.1,115.2 78.0,115.0 77.8,114.6 77.7,114.2 77.6,113.8 77.5,113.5 77.4,113.0 77.4,112.5 77.3,112.2 77.3,111.8 77.3,111.2 77.4,111.0 77.4,110.5 77.4,110.0 77.5,109.5 77.5,109.0 77.5,108.5 77.6,108.0 77.6,107.8 77.6,107.2 77.7,106.8 77.7,106.2 77.8,105.8 77.8,105.2 77.9,105.0 78.0,104.5 78.1,104.0 78.2,103.8 78.3,103.2 78.4,103.0 78.6,102.6 78.8,102.2 78.9,102.0 79.1,101.6 79.3,101.2 79.5,101.0 79.6,100.8 79.8,100.4 80.1,100.1 80.3,99.8 80.6,99.5 80.8,99.3 81.1,99.0 81.3,98.8 81.6,98.6 81.8,98.4 82.1,98.2 82.4,98.0 82.8,97.8 83.1,97.6 83.3,97.5 83.8,97.2 84.1,97.1 84.5,97.0 84.8,96.9 85.3,96.8ZM141.1,102.5 141.6,102.3 142.1,102.3 142.6,102.4 142.9,102.5 143.3,102.8 143.6,103.0 143.8,103.2 144.1,103.5 144.3,103.8 144.4,104.0 144.6,104.3 144.8,104.8 144.9,105.0 145.1,105.5 145.2,105.8 145.3,106.2 145.3,106.5 145.4,107.0 145.5,107.5 145.5,108.0 145.5,108.5 145.5,109.0 145.6,109.5 145.6,110.0 145.6,110.5 145.6,110.9 145.6,111.2 145.6,111.8 145.6,112.2 145.7,112.8 145.7,113.2 145.7,113.8 145.7,114.2 145.7,114.8 145.6,115.2 145.6,115.6 145.5,116.0 145.4,116.5 145.3,116.8 145.1,117.2 145.0,117.5 144.8,117.8 144.6,118.2 144.4,118.5 144.1,118.8 143.9,119.0 143.6,119.2 143.3,119.4 143.0,119.5 142.6,119.6 142.1,119.7 141.6,119.7 141.1,119.6 140.8,119.5 140.5,119.2 140.1,119.0 139.9,118.8 139.6,118.5 139.5,118.2 139.3,118.0 139.1,117.7 138.9,117.2 138.8,117.0 138.6,116.5 138.5,116.2 138.4,115.8 138.4,115.3 138.3,115.0 138.3,114.5 138.3,114.0 138.3,113.5 138.3,113.0 138.3,112.5 138.4,112.3 138.4,111.8 138.4,111.2 138.4,110.8 138.4,110.2 138.4,109.8 138.4,109.2 138.5,108.8 138.5,108.2 138.5,107.8 138.5,107.2 138.6,106.8 138.7,106.5 138.8,106.0 138.8,105.7 139.0,105.2 139.1,105.0 139.3,104.5 139.4,104.2 139.6,104.0 139.8,103.6 140.1,103.3 140.3,103.0 140.6,102.8 140.8,102.6 141.1,102.5ZM86.2,97.2 86.6,97.2 87.1,97.2 87.6,97.2 88.1,97.2 88.4,97.2 88.8,97.3 89.3,97.4 89.8,97.5 90.1,97.6 90.5,97.8 90.8,97.9 91.1,98.1 91.4,98.2 91.7,98.5 92.0,98.8 92.3,99.0 92.5,99.2 92.7,99.5 92.9,99.8 93.1,100.0 93.3,100.3 93.6,100.7 93.8,101.0 94.0,101.2 94.1,101.5 94.3,102.0 94.5,102.2 94.6,102.5 94.8,103.0 94.9,103.2 95.1,103.8 95.1,104.0 95.3,104.5 95.3,105.0 95.4,105.2 95.4,105.8 95.5,106.2 95.5,106.8 95.5,107.2 95.6,107.8 95.6,108.2 95.6,108.5 95.6,109.0 95.7,109.5 95.7,110.0 95.8,110.5 95.8,111.0 95.8,111.5 95.8,112.0 95.7,112.5 95.7,113.0 95.6,113.3 95.5,113.8 95.4,114.2 95.2,114.5 95.1,114.8 94.9,115.2 94.7,115.5 94.6,115.8 94.3,116.1 94.1,116.4 93.8,116.7 93.6,117.0 93.3,117.2 93.1,117.4 92.8,117.7 92.6,117.9 92.3,118.0 92.0,118.2 91.6,118.5 91.3,118.6 91.1,118.8 90.6,119.0 90.3,119.1 89.8,119.2 89.6,119.3 89.1,119.5 88.8,119.5 88.3,119.6 87.8,119.7 87.3,119.7 86.8,119.7 86.3,119.7 85.8,119.7 85.3,119.6 84.9,119.5 84.6,119.4 84.1,119.3 83.9,119.2 83.3,119.1 83.1,119.0 82.6,118.8 82.3,118.6 82.1,118.5 81.7,118.2 81.4,118.0 81.1,117.8 80.8,117.6 80.6,117.4 80.3,117.2 80.1,116.9 79.8,116.6 79.6,116.3 79.3,116.0 79.2,115.8 79.0,115.5 78.8,115.2 78.6,114.8 78.5,114.5 78.3,114.0 78.3,113.8 78.1,113.2 78.1,113.0 78.0,112.5 78.0,112.0 78.0,111.5 78.0,111.0 78.0,110.5 78.1,110.0 78.1,109.6 78.1,109.2 78.2,108.8 78.2,108.2 78.2,107.8 78.3,107.2 78.3,106.8 78.3,106.2 78.4,106.0 78.4,105.5 78.5,105.0 78.6,104.5 78.7,104.2 78.8,103.8 78.9,103.5 79.1,103.0 79.2,102.8 79.3,102.4 79.5,102.0 79.7,101.8 79.8,101.5 80.1,101.1 80.3,100.8 80.5,100.5 80.7,100.2 81.0,100.0 81.2,99.8 81.5,99.5 81.7,99.2 82.0,99.0 82.3,98.8 82.6,98.6 82.8,98.4 83.2,98.2 83.6,98.0 83.8,97.9 84.2,97.8 84.6,97.6 85.0,97.5 85.3,97.4 85.8,97.3 86.2,97.2ZM142.1,103.2 142.1,103.2 142.6,103.4 142.9,103.5 143.3,103.7 143.5,104.0 143.7,104.2 143.9,104.5 144.1,104.8 144.3,105.2 144.4,105.5 144.6,106.0 144.7,106.2 144.8,106.7 144.8,107.1 144.9,107.5 144.9,108.0 144.9,108.5 145.0,109.0 145.0,109.5 145.0,110.0 145.0,110.5 145.0,111.0 145.0,111.5 145.0,112.0 145.0,112.5 145.1,113.0 145.1,113.5 145.1,114.0 145.1,114.5 145.0,115.0 145.0,115.5 144.8,116.0 144.8,116.2 144.6,116.7 144.4,117.0 144.3,117.2 144.1,117.6 143.8,117.9 143.6,118.1 143.3,118.3 143.0,118.5 142.6,118.7 142.2,118.8 141.8,118.8 141.6,118.7 141.1,118.6 140.8,118.4 140.6,118.2 140.3,118.0 140.0,117.8 139.8,117.5 139.6,117.1 139.4,116.8 139.3,116.5 139.2,116.0 139.1,115.8 139.0,115.2 138.9,114.8 138.9,114.2 138.9,113.8 138.9,113.2 138.9,112.8 139.0,112.2 139.0,111.8 139.0,111.2 139.0,110.8 139.0,110.2 139.0,109.8 139.0,109.2 139.1,108.8 139.1,108.2 139.1,107.8 139.1,107.5 139.2,107.0 139.3,106.5 139.3,106.1 139.5,105.8 139.6,105.4 139.8,105.0 139.9,104.8 140.1,104.5 140.3,104.1 140.6,103.9 140.8,103.7 141.1,103.5 141.6,103.3 142.1,103.2ZM85.6,98.0 85.8,97.9 86.3,97.9 86.8,97.8 87.3,97.8 87.8,97.9 88.3,97.9 88.8,98.0 89.1,98.1 89.6,98.2 89.8,98.3 90.3,98.5 90.6,98.6 90.8,98.8 91.2,99.0 91.6,99.2 91.8,99.5 92.1,99.7 92.3,100.0 92.5,100.2 92.7,100.5 92.9,100.8 93.1,101.0 93.3,101.4 93.6,101.8 93.7,102.0 93.8,102.3 94.1,102.8 94.2,103.0 94.3,103.5 94.4,103.8 94.6,104.2 94.6,104.5 94.7,105.0 94.8,105.5 94.8,106.0 94.9,106.2 94.9,106.8 94.9,107.2 94.9,107.8 95.0,108.2 95.0,108.8 95.0,109.2 95.1,109.7 95.1,110.2 95.1,110.5 95.1,111.0 95.2,111.5 95.1,112.0 95.1,112.4 95.1,112.8 94.9,113.2 94.8,113.6 94.7,114.0 94.6,114.3 94.4,114.8 94.3,115.0 94.1,115.3 93.8,115.6 93.6,116.0 93.4,116.2 93.2,116.5 92.9,116.8 92.6,117.0 92.3,117.2 92.1,117.4 91.8,117.6 91.6,117.8 91.2,118.0 90.8,118.2 90.6,118.3 90.1,118.5 89.8,118.6 89.3,118.7 89.1,118.8 88.6,118.9 88.1,119.0 87.8,119.0 87.3,119.1 86.8,119.1 86.3,119.1 85.8,119.0 85.6,119.0 85.1,118.9 84.6,118.8 84.3,118.7 83.8,118.6 83.6,118.5 83.1,118.3 82.8,118.1 82.6,118.0 82.2,117.8 81.8,117.6 81.6,117.4 81.3,117.2 81.1,117.0 80.8,116.7 80.6,116.5 80.3,116.2 80.1,115.9 79.8,115.6 79.6,115.2 79.5,115.0 79.3,114.7 79.1,114.2 79.0,114.0 78.9,113.5 78.8,113.2 78.7,112.8 78.6,112.2 78.6,111.8 78.6,111.2 78.6,110.8 78.7,110.2 78.7,109.8 78.8,109.2 78.8,108.8 78.8,108.2 78.8,107.9 78.9,107.5 78.9,107.0 78.9,106.5 79.0,106.0 79.0,105.5 79.1,105.0 79.2,104.8 79.3,104.2 79.3,104.0 79.5,103.5 79.6,103.2 79.8,102.8 79.9,102.5 80.1,102.2 80.3,101.8 80.5,101.5 80.7,101.2 80.9,101.0 81.1,100.8 81.3,100.5 81.6,100.2 81.8,100.0 82.1,99.7 82.4,99.5 82.7,99.2 83.1,99.0 83.3,98.9 83.6,98.7 84.0,98.5 84.3,98.4 84.7,98.2 85.1,98.1 85.6,98.0ZM141.6,104.3 142.1,104.2 142.4,104.2 142.8,104.5 143.1,104.7 143.3,104.9 143.6,105.2 143.7,105.5 143.9,105.8 144.1,106.2 144.1,106.5 144.2,107.0 144.3,107.5 144.3,108.0 144.3,108.4 144.4,108.8 144.4,109.2 144.4,109.8 144.4,110.2 144.4,110.8 144.4,111.2 144.4,111.8 144.4,112.2 144.4,112.8 144.5,113.2 144.5,113.8 144.5,114.2 144.4,114.8 144.4,115.2 144.3,115.5 144.1,116.0 144.0,116.2 143.8,116.6 143.6,116.9 143.3,117.2 143.1,117.4 142.8,117.6 142.4,117.8 142.1,117.8 141.6,117.8 141.3,117.7 141.0,117.5 140.7,117.2 140.4,117.0 140.3,116.8 140.1,116.5 139.9,116.0 139.8,115.8 139.6,115.2 139.6,115.0 139.5,114.5 139.5,114.0 139.5,113.5 139.6,113.0 139.6,112.5 139.6,112.0 139.6,111.5 139.6,111.0 139.6,110.8 139.6,110.2 139.6,109.8 139.6,109.2 139.6,108.8 139.7,108.2 139.7,107.8 139.7,107.2 139.8,106.8 139.9,106.5 140.0,106.0 140.1,105.7 140.4,105.4 140.6,105.0 140.8,104.8 141.1,104.5 141.3,104.4 141.6,104.3ZM86.6,98.5 87.1,98.5 87.5,98.5 87.9,98.5 88.3,98.6 88.8,98.7 89.1,98.8 89.6,98.9 89.8,99.0 90.3,99.3 90.6,99.4 90.8,99.6 91.1,99.8 91.4,100.0 91.7,100.2 92.0,100.5 92.2,100.8 92.3,101.0 92.6,101.3 92.8,101.7 93.0,102.0 93.2,102.2 93.3,102.6 93.5,103.0 93.6,103.2 93.8,103.8 93.9,104.0 94.0,104.5 94.1,104.9 94.2,105.2 94.2,105.8 94.2,106.2 94.3,106.8 94.3,107.2 94.3,107.8 94.3,108.2 94.4,108.5 94.4,109.0 94.4,109.5 94.5,110.0 94.5,110.5 94.5,111.0 94.5,111.5 94.5,112.0 94.4,112.5 94.3,112.9 94.3,113.2 94.1,113.8 94.0,114.0 93.8,114.4 93.6,114.8 93.5,115.0 93.3,115.2 93.1,115.6 92.8,115.9 92.6,116.1 92.3,116.4 92.1,116.6 91.8,116.8 91.6,117.0 91.2,117.2 90.8,117.5 90.6,117.6 90.3,117.8 89.8,117.9 89.6,118.0 89.1,118.2 88.7,118.2 88.3,118.3 87.8,118.4 87.3,118.4 86.8,118.5 86.3,118.4 85.8,118.4 85.3,118.3 85.0,118.2 84.6,118.1 84.2,118.0 83.8,117.9 83.5,117.8 83.1,117.6 82.8,117.4 82.6,117.2 82.2,117.0 81.9,116.8 81.6,116.5 81.3,116.3 81.1,116.1 80.8,115.8 80.6,115.5 80.4,115.2 80.3,115.0 80.1,114.7 79.9,114.2 79.8,114.0 79.6,113.6 79.5,113.2 79.4,112.8 79.3,112.5 79.3,112.0 79.3,111.5 79.3,111.0 79.3,110.5 79.3,110.0 79.4,109.8 79.4,109.2 79.4,108.8 79.4,108.2 79.5,107.8 79.5,107.2 79.5,106.8 79.6,106.2 79.6,105.9 79.6,105.5 79.7,105.0 79.8,104.5 79.9,104.2 80.1,103.8 80.1,103.5 80.3,103.0 80.5,102.8 80.6,102.5 80.8,102.1 81.1,101.8 81.3,101.5 81.5,101.2 81.7,101.0 81.9,100.8 82.2,100.5 82.4,100.2 82.7,100.0 83.1,99.8 83.3,99.6 83.6,99.4 83.9,99.2 84.3,99.0 84.6,98.9 85.1,98.8 85.3,98.7 85.8,98.6 86.3,98.5 86.6,98.5ZM141.6,105.2 141.8,105.2 142.3,105.2 142.6,105.3 142.8,105.5 143.1,105.8 143.3,106.2 143.5,106.5 143.6,106.9 143.7,107.2 143.7,107.8 143.8,108.2 143.8,108.8 143.8,109.2 143.8,109.8 143.8,110.2 143.8,110.8 143.8,111.2 143.8,111.8 143.8,112.2 143.8,112.8 143.8,113.2 143.8,113.8 143.8,114.2 143.8,114.8 143.7,115.2 143.6,115.5 143.3,116.0 143.2,116.2 142.9,116.5 142.6,116.7 142.3,116.8 141.8,116.8 141.5,116.8 141.1,116.5 140.8,116.3 140.7,116.0 140.5,115.8 140.3,115.3 140.3,115.0 140.2,114.5 140.1,114.0 140.2,113.5 140.2,113.0 140.2,112.5 140.2,112.0 140.2,111.5 140.2,111.0 140.2,110.5 140.2,110.0 140.2,109.5 140.2,109.0 140.2,108.5 140.2,108.0 140.3,107.5 140.3,107.1 140.4,106.8 140.6,106.3 140.8,106.0 140.9,105.8 141.2,105.5 141.6,105.2ZM85.8,99.2 86.1,99.2 86.6,99.1 87.1,99.1 87.6,99.1 88.1,99.2 88.3,99.3 88.8,99.4 89.2,99.5 89.6,99.6 89.8,99.8 90.3,100.0 90.6,100.2 90.8,100.4 91.1,100.6 91.3,100.8 91.6,101.1 91.8,101.4 92.1,101.7 92.3,102.0 92.5,102.2 92.6,102.5 92.8,103.0 93.0,103.2 93.1,103.6 93.3,104.0 93.3,104.3 93.5,104.8 93.5,105.2 93.6,105.8 93.6,106.0 93.6,106.5 93.7,107.0 93.7,107.5 93.7,108.0 93.7,108.5 93.8,109.0 93.8,109.5 93.8,110.0 93.8,110.5 93.9,110.8 93.9,111.2 93.9,111.8 93.8,112.0 93.8,112.5 93.7,113.0 93.6,113.2 93.4,113.8 93.3,114.0 93.1,114.4 92.9,114.8 92.7,115.0 92.5,115.2 92.3,115.5 92.1,115.7 91.8,116.0 91.5,116.2 91.2,116.5 90.8,116.7 90.6,116.9 90.3,117.0 89.8,117.2 89.6,117.3 89.1,117.5 88.8,117.6 88.3,117.7 88.0,117.8 87.6,117.8 87.1,117.8 86.6,117.8 86.1,117.8 85.8,117.8 85.3,117.7 84.8,117.6 84.6,117.5 84.1,117.3 83.8,117.2 83.4,117.0 83.1,116.8 82.8,116.7 82.6,116.5 82.3,116.2 82.0,116.0 81.7,115.8 81.5,115.5 81.3,115.2 81.1,115.0 80.8,114.7 80.6,114.2 80.5,114.0 80.3,113.7 80.2,113.2 80.1,113.0 80.0,112.5 79.9,112.0 79.9,111.5 79.9,111.0 79.9,110.5 80.0,110.0 80.0,109.5 80.0,109.0 80.1,108.5 80.1,108.0 80.1,107.8 80.1,107.2 80.2,106.8 80.2,106.2 80.2,105.8 80.3,105.2 80.3,104.9 80.4,104.5 80.6,104.0 80.7,103.8 80.8,103.4 81.0,103.0 81.2,102.8 81.3,102.4 81.6,102.0 81.8,101.8 82.0,101.5 82.2,101.2 82.5,101.0 82.8,100.8 83.1,100.5 83.3,100.3 83.6,100.1 83.8,100.0 84.3,99.8 84.6,99.6 84.9,99.5 85.3,99.3 85.8,99.2ZM141.6,106.2 141.8,106.2 142.3,106.2 142.6,106.5 142.8,106.7 142.9,107.0 143.1,107.5 143.1,107.8 143.1,108.2 143.1,108.8 143.1,109.2 143.1,109.8 143.1,110.2 143.1,110.8 143.1,111.2 143.1,111.8 143.1,112.2 143.1,112.8 143.1,113.2 143.1,113.8 143.1,114.2 143.1,114.8 142.9,115.0 142.8,115.3 142.6,115.5 142.3,115.8 141.8,115.8 141.6,115.8 141.3,115.5 141.1,115.2 141.1,114.8 140.8,114.5 140.8,114.0 140.8,113.5 140.8,113.0 140.8,112.5 140.8,112.0 140.8,111.5 140.8,111.0 140.8,110.5 140.8,110.0 140.8,109.5 140.8,109.0 140.8,108.5 140.8,108.0 140.8,107.7 141.1,107.2 141.1,107.0 141.3,106.5 141.6,106.2ZM85.3,100.0 85.6,99.9 86.1,99.8 86.6,99.8 87.1,99.8 87.6,99.8 88.1,99.9 88.6,100.0 88.8,100.1 89.3,100.2 89.6,100.4 89.9,100.5 90.3,100.8 90.6,101.0 90.8,101.2 91.1,101.5 91.3,101.8 91.5,102.0 91.7,102.2 91.9,102.5 92.1,102.9 92.3,103.2 92.4,103.5 92.6,104.0 92.7,104.2 92.8,104.8 92.9,105.0 93.0,105.5 93.0,106.0 93.0,106.5 93.0,107.0 93.1,107.5 93.1,108.0 93.1,108.2 93.1,108.8 93.2,109.2 93.2,109.8 93.2,110.2 93.2,110.8 93.2,111.2 93.2,111.8 93.2,112.2 93.1,112.6 93.0,113.0 92.8,113.4 92.7,113.8 92.6,114.0 92.3,114.4 92.1,114.7 91.9,115.0 91.7,115.2 91.4,115.5 91.1,115.8 90.8,116.0 90.6,116.1 90.3,116.3 89.9,116.5 89.6,116.7 89.3,116.8 88.8,116.9 88.6,117.0 88.1,117.1 87.6,117.2 87.1,117.2 86.6,117.2 86.1,117.2 85.6,117.1 85.2,117.0 84.8,116.9 84.4,116.8 84.1,116.6 83.8,116.5 83.4,116.2 83.1,116.1 82.8,115.9 82.6,115.7 82.3,115.5 82.1,115.2 81.8,114.9 81.6,114.6 81.4,114.2 81.2,114.0 81.1,113.8 80.9,113.3 80.8,113.0 80.7,112.5 80.6,112.1 80.6,111.8 80.5,111.2 80.6,110.8 80.6,110.2 80.6,110.0 80.6,109.5 80.7,109.0 80.7,108.5 80.7,108.0 80.7,107.5 80.8,107.0 80.8,106.5 80.8,106.0 80.8,105.6 80.9,105.2 81.0,104.8 81.1,104.4 81.2,104.0 81.3,103.7 81.6,103.2 81.7,103.0 81.8,102.7 82.1,102.4 82.3,102.0 82.6,101.8 82.8,101.5 83.1,101.3 83.3,101.0 83.6,100.9 83.8,100.7 84.2,100.5 84.6,100.3 84.8,100.2 85.3,100.0ZM85.9,100.5 86.3,100.4 86.8,100.4 87.3,100.4 87.8,100.5 88.1,100.5 88.6,100.7 88.9,100.8 89.3,101.0 89.6,101.1 89.8,101.3 90.2,101.5 90.5,101.8 90.7,102.0 90.9,102.2 91.1,102.5 91.3,102.8 91.6,103.2 91.8,103.5 91.9,103.8 92.1,104.2 92.1,104.5 92.3,105.0 92.3,105.5 92.4,105.8 92.4,106.2 92.4,106.8 92.4,107.2 92.5,107.8 92.5,108.2 92.5,108.8 92.5,109.2 92.6,109.8 92.6,110.2 92.6,110.8 92.6,111.0 92.6,111.5 92.6,111.8 92.5,112.2 92.4,112.8 92.3,113.0 92.1,113.5 92.0,113.8 91.8,114.0 91.6,114.3 91.3,114.6 91.1,114.9 90.8,115.1 90.6,115.3 90.3,115.5 90.0,115.8 89.6,116.0 89.3,116.1 88.9,116.2 88.6,116.4 88.1,116.5 87.8,116.5 87.3,116.6 86.8,116.6 86.3,116.6 85.8,116.5 85.6,116.5 85.1,116.3 84.8,116.2 84.3,116.0 84.1,115.9 83.8,115.8 83.4,115.5 83.1,115.3 82.8,115.1 82.6,114.8 82.3,114.5 82.1,114.2 82.0,114.0 81.8,113.8 81.6,113.3 81.5,113.0 81.3,112.6 81.3,112.2 81.2,111.8 81.2,111.2 81.2,110.8 81.2,110.2 81.2,109.8 81.3,109.2 81.3,108.8 81.3,108.2 81.3,107.8 81.4,107.5 81.4,107.0 81.4,106.5 81.4,106.0 81.5,105.5 81.6,105.0 81.6,104.8 81.8,104.2 81.9,104.0 82.1,103.5 82.2,103.2 82.4,103.0 82.6,102.7 82.8,102.4 83.1,102.1 83.3,101.8 83.6,101.6 83.8,101.4 84.1,101.2 84.5,101.0 84.8,100.8 85.1,100.7 85.6,100.6 85.9,100.5ZM85.5,101.2 85.8,101.1 86.3,101.1 86.9,101.0 87.3,101.0 87.8,101.1 88.3,101.2 88.6,101.3 89.0,101.5 89.3,101.7 89.6,101.9 89.8,102.1 90.1,102.3 90.3,102.5 90.6,102.8 90.8,103.2 91.1,103.5 91.2,103.8 91.3,104.1 91.5,104.5 91.6,104.8 91.7,105.2 91.8,105.8 91.8,106.2 91.8,106.8 91.8,107.2 91.8,107.8 91.9,108.0 91.9,108.5 91.9,109.0 91.9,109.5 91.9,110.0 92.0,110.5 92.0,111.0 92.0,111.5 91.9,112.0 91.8,112.3 91.7,112.8 91.6,113.0 91.4,113.5 91.2,113.8 91.0,114.0 90.8,114.2 90.6,114.5 90.3,114.8 90.0,115.0 89.6,115.2 89.3,115.4 89.1,115.5 88.6,115.7 88.3,115.8 87.8,115.9 87.3,115.9 86.8,116.0 86.4,115.9 85.8,115.9 85.4,115.8 85.1,115.7 84.7,115.5 84.3,115.3 84.1,115.2 83.8,115.0 83.5,114.8 83.2,114.5 83.0,114.2 82.8,114.0 82.6,113.8 82.3,113.4 82.2,113.0 82.1,112.8 81.9,112.2 81.9,111.8 81.8,111.5 81.8,111.0 81.8,110.5 81.9,110.2 81.9,109.8 81.9,109.2 81.9,108.8 81.9,108.2 82.0,107.8 82.0,107.2 82.0,106.8 82.0,106.2 82.0,105.8 82.1,105.4 82.2,105.0 82.3,104.5 82.4,104.2 82.6,103.8 82.8,103.5 82.9,103.2 83.1,103.0 83.3,102.7 83.6,102.4 83.8,102.2 84.1,102.0 84.5,101.8 84.8,101.5 85.1,101.4 85.5,101.2ZM86.0,101.8 86.3,101.7 86.8,101.6 87.3,101.7 87.8,101.8 88.1,101.8 88.6,102.0 88.8,102.1 89.1,102.3 89.4,102.5 89.7,102.8 89.9,103.0 90.2,103.2 90.3,103.5 90.6,103.9 90.8,104.2 90.9,104.5 91.0,105.0 91.1,105.4 91.2,105.8 91.2,106.2 91.2,106.8 91.2,107.2 91.2,107.8 91.2,108.2 91.3,108.8 91.3,109.2 91.3,109.8 91.3,110.2 91.3,110.8 91.3,111.3 91.3,111.8 91.2,112.2 91.1,112.5 90.9,113.0 90.8,113.3 90.6,113.5 90.3,113.8 90.1,114.1 89.8,114.3 89.6,114.5 89.2,114.8 88.8,114.9 88.6,115.0 88.1,115.2 87.8,115.2 87.3,115.3 86.8,115.3 86.3,115.3 86.0,115.2 85.6,115.2 85.1,115.0 84.8,114.9 84.6,114.8 84.2,114.5 83.9,114.2 83.6,114.0 83.4,113.7 83.2,113.5 83.0,113.2 82.8,112.9 82.7,112.5 82.6,112.2 82.5,111.8 82.5,111.2 82.5,110.8 82.5,110.2 82.5,109.8 82.5,109.2 82.5,108.8 82.6,108.2 82.6,107.8 82.6,107.2 82.6,107.0 82.6,106.5 82.6,106.0 82.7,105.5 82.8,105.0 82.9,104.8 83.1,104.2 83.2,104.0 83.3,103.7 83.6,103.3 83.8,103.0 84.1,102.8 84.3,102.6 84.6,102.4 84.8,102.2 85.3,102.0 85.6,101.9 86.0,101.8ZM85.7,102.5 86.1,102.4 86.6,102.3 87.1,102.3 87.6,102.3 88.1,102.5 88.3,102.6 88.7,102.8 89.0,103.0 89.3,103.2 89.6,103.5 89.8,103.8 89.9,104.0 90.1,104.3 90.3,104.8 90.4,105.0 90.5,105.5 90.6,106.0 90.6,106.5 90.6,107.0 90.6,107.5 90.6,107.8 90.6,108.2 90.6,108.8 90.7,109.2 90.7,109.8 90.7,110.2 90.7,110.8 90.7,111.2 90.6,111.8 90.6,112.0 90.4,112.5 90.3,112.8 90.1,113.1 89.8,113.4 89.6,113.7 89.3,113.9 89.1,114.1 88.8,114.2 88.3,114.5 88.1,114.5 87.6,114.7 87.1,114.7 86.6,114.7 86.1,114.6 85.6,114.5 85.3,114.4 85.0,114.2 84.6,114.0 84.3,113.8 84.1,113.6 83.8,113.3 83.6,113.0 83.5,112.8 83.3,112.4 83.2,112.0 83.1,111.5 83.1,111.2 83.1,110.9 83.1,110.5 83.1,110.0 83.1,109.5 83.2,109.0 83.2,108.5 83.2,108.0 83.2,107.5 83.2,107.0 83.2,106.5 83.2,106.0 83.3,105.5 83.3,105.2 83.5,104.8 83.6,104.5 83.8,104.0 84.0,103.8 84.2,103.5 84.5,103.2 84.8,103.0 85.1,102.8 85.3,102.6 85.7,102.5ZM86.2,103.0 86.6,103.0 87.1,103.0 87.6,103.0 87.8,103.2 88.2,103.2 88.6,103.5 88.8,103.7 89.1,104.0 89.3,104.2 89.4,104.5 89.6,104.8 89.7,105.2 89.9,105.5 89.9,106.0 89.9,106.5 89.9,107.0 89.9,107.5 89.9,108.0 89.9,108.5 89.9,109.0 89.9,109.5 89.9,110.0 89.9,110.5 89.9,111.0 89.9,111.5 89.9,112.0 89.6,112.2 89.6,112.5 89.4,113.0 89.1,113.2 88.8,113.3 88.6,113.5 88.3,113.8 87.8,113.8 87.6,114.0 87.1,114.0 86.6,114.0 86.1,114.0 85.8,113.8 85.6,113.8 85.1,113.5 84.8,113.3 84.6,113.0 84.3,112.8 84.1,112.5 84.1,112.2 83.8,111.8 83.8,111.5 83.8,111.0 83.8,110.5 83.8,110.0 83.8,109.5 83.8,109.0 83.8,108.5 83.8,108.0 83.8,107.5 83.8,107.0 83.8,106.5 84.0,106.2 84.1,105.8 84.1,105.2 84.1,105.0 84.3,104.5 84.6,104.2 84.8,104.0 84.8,103.7 85.3,103.5 85.6,103.2 85.8,103.2 86.2,103.0Z" fill="none" stroke="#3a3a3a" stroke-width="0.6" stroke-linejoin="round"/>
<rect x="43.6" y="18" width="125" height="124.3" fill="none" stroke="#000" stroke-width="1.1"/>
<rect x="49.6" y="34" width="54" height="50.8" fill="none" stroke="#000" stroke-width="1.0"/>
<path d="M83.1,142.8v1.8M156.1,142.8v2.7M62.1,142.8v1.1M155.3,142.8v1.7M69.5,142.8v2.0M72.7,142.8v1.8M140.8,142.8v2.1M72.6,142.8v1.9M92.5,142.8v1.7M50.4,142.8v2.3M134.4,142.8v1.5M89.5,142.8v2.1M69.5,142.8v2.4M137.9,142.8v1.1M68.9,142.8v1.5M74.3,142.8v2.9M61.8,142.8v2.9M72.1,142.8v3.0M65.0,142.8v0.9M67.2,142.8v2.6M134.3,142.8v2.9M67.8,142.8v2.8M77.7,142.8v2.4M163.0,142.8v2.3M158.1,142.8v2.4M131.7,142.8v2.1M90.4,142.8v2.5M68.3,142.8v1.9M63.2,142.8v1.3M160.6,142.8v1.0M83.9,142.8v2.8M59.7,142.8v2.5M110.3,142.8v1.2M137.1,142.8v2.6M108.2,142.8v1.5M150.3,142.8v2.2M52.5,142.8v1.6M87.3,142.8v1.3M74.5,142.8v1.2M55.2,142.8v1.0M114.8,142.8v1.0M143.3,142.8v1.0M103.2,142.8v1.0M67.4,142.8v2.6M142.0,142.8v1.9M82.6,142.8v1.1M83.1,142.8v2.0M134.6,142.8v2.0M62.4,142.8v1.9M140.2,142.8v1.3M124.7,142.8v1.8M137.7,142.8v2.7M64.7,142.8v1.6M138.8,142.8v1.9M64.6,142.8v2.8M57.8,142.8v1.3M143.3,142.8v2.4M143.9,142.8v1.9M145.1,142.8v2.5M75.8,142.8v1.6M67.9,142.8v2.0M45.9,142.8v1.6M116.4,142.8v2.7M130.6,142.8v2.8M141.6,142.8v2.2M68.1,142.8v3.0M66.0,142.8v2.4M114.3,142.8v2.6M139.0,142.8v2.8M158.7,142.8v1.4M62.3,142.8v3.0M77.3,142.8v1.7M147.4,142.8v1.9M72.8,142.8v1.2M102.1,142.8v2.6M50.0,142.8v1.5M122.7,142.8v2.3M150.1,142.8v1.3M141.3,142.8v1.6M146.5,142.8v1.6M119.3,142.8v1.3M67.2,142.8v0.9M136.0,142.8v2.5M65.4,142.8v2.9M141.4,142.8v1.3M55.7,142.8v1.2M140.8,142.8v1.6M63.4,142.8v1.0M70.9,142.8v2.2M69.4,142.8v1.6M126.2,142.8v2.0M64.3,142.8v2.8M72.0,142.8v2.7M45.7,142.8v2.8M67.2,142.8v2.9M73.0,142.8v2.1M59.3,142.8v1.9M113.1,142.8v0.9M71.4,142.8v1.0M131.3,142.8v2.0M118.2,142.8v2.7M73.0,142.8v1.8M144.7,142.8v0.8M112.9,142.8v1.3M139.8,142.8v2.5M70.3,142.8v1.1M90.6,142.8v1.2M64.9,142.8v1.4M166.6,142.8v2.1M66.9,142.8v2.6M67.3,142.8v1.3M56.7,142.8v2.1M67.2,142.8v2.0M135.5,142.8v1.8M127.6,142.8v2.1M60.9,142.8v2.6M70.9,142.8v1.3M73.2,142.8v1.9M120.9,142.8v1.0M75.0,142.8v1.9M101.5,142.8v2.5M142.3,142.8v3.0M131.7,142.8v1.8M71.1,142.8v1.5M74.0,142.8v2.1M70.8,142.8v1.6M59.6,142.8v1.1M65.3,142.8v2.0M68.2,142.8v2.6M69.0,142.8v2.8M69.2,142.8v3.0M99.2,142.8v1.6M160.7,142.8v1.4M136.8,142.8v1.0M137.9,142.8v1.8M135.1,142.8v2.6M104.3,142.8v1.3M150.0,142.8v2.7M125.8,142.8v2.4M80.2,142.8v1.2M57.2,142.8v2.2M78.5,142.8v2.6M65.7,142.8v2.9M61.1,142.8v1.2M82.0,142.8v2.6M137.2,142.8v2.5M68.5,142.8v1.3M136.2,142.8v1.4M86.5,142.8v2.9M62.4,142.8v1.6M159.6,142.8v1.4M71.8,142.8v2.4M68.7,142.8v1.1M142.4,142.8v1.9M60.4,142.8v1.6M132.3,142.8v2.0M64.9,142.8v2.1M71.9,142.8v2.2M66.7,142.8v1.8M141.7,142.8v2.8M71.8,142.8v2.6M161.4,142.8v2.9M111.1,142.8v1.8M127.0,142.8v2.4M85.5,142.8v1.7M69.0,142.8v1.4M71.6,142.8v2.2M154.0,142.8v2.9M65.3,142.8v2.6M164.6,142.8v1.4M135.1,142.8v1.3M70.4,142.8v2.5M114.9,142.8v2.4M71.6,142.8v2.7M71.5,142.8v1.1M81.3,142.8v2.7M48.5,142.8v1.8M78.9,142.8v1.4M160.6,142.8v1.6M68.3,142.8v3.0M133.8,142.8v2.9M73.9,142.8v1.0M65.6,142.8v1.5M148.3,142.8v2.4M48.4,142.8v0.9M69.0,142.8v0.9M167.6,142.8v0.9M67.7,142.8v2.7M143.2,142.8v1.5M106.1,142.8v1.5M139.0,142.8v2.5M112.7,142.8v1.5M70.6,142.8v2.4M135.4,142.8v1.6M50.3,142.8v1.5M74.1,142.8v1.7M71.1,142.8v1.2M76.9,142.8v1.0M60.6,142.8v2.7M66.0,142.8v2.7M95.6,142.8v1.8M71.7,142.8v2.3M137.9,142.8v2.7M106.2,142.8v1.7M143.7,142.8v2.4M132.6,142.8v2.5M105.6,142.8v1.0M68.5,142.8v1.1M137.5,142.8v2.5M67.2,142.8v2.4M57.1,142.8v1.2M158.5,142.8v2.6M90.3,142.8v2.6M136.6,142.8v1.5M87.7,142.8v1.5M108.0,142.8v1.0M51.9,142.8v1.8M64.1,142.8v1.0M122.8,142.8v2.0M97.6,142.8v2.2M63.3,142.8v2.1M156.1,142.8v1.0M62.6,142.8v2.2M82.5,142.8v2.5M62.0,142.8v1.1M130.8,142.8v2.1M67.7,142.8v2.6M61.4,142.8v1.2M53.4,142.8v2.8M63.7,142.8v2.9M64.6,142.8v2.4M89.5,142.8v2.7M74.3,142.8v1.4M157.5,142.8v2.3M157.0,142.8v2.8M138.9,142.8v0.9M122.5,142.8v2.6M142.4,142.8v1.3M153.9,142.8v2.6M49.6,142.8v2.2M60.3,142.8v2.6M70.5,142.8v1.7M58.3,142.8v1.8M104.9,142.8v2.8M67.2,142.8v1.0M67.6,142.8v1.1M68.2,142.8v2.9M58.9,142.8v2.8M133.3,142.8v1.1M117.1,142.8v2.9M106.5,142.8v1.4M51.6,142.8v2.8M73.4,142.8v2.8M125.0,142.8v0.9M62.9,142.8v0.8M71.4,142.8v1.5M49.1,142.8v2.8M57.7,142.8v2.5M65.8,142.8v1.7M72.6,142.8v2.7" fill="none" stroke="#111" stroke-width="0.6"/>
<path d="M43.1,76.0h-1.5M43.1,82.2h-1.2M43.1,118.9h-2.4M43.1,45.1h-1.2M43.1,113.6h-1.5M43.1,116.8h-0.9M43.1,66.3h-2.5M43.1,34.4h-1.6M43.1,77.6h-2.2M43.1,115.1h-1.3M43.1,111.9h-0.8M43.1,59.8h-1.5M43.1,103.8h-2.5M43.1,115.7h-2.6M43.1,102.8h-1.6M43.1,114.5h-2.7M43.1,132.4h-0.9M43.1,116.1h-1.9M43.1,99.7h-1.4M43.1,66.2h-1.8M43.1,93.4h-1.3M43.1,109.0h-2.8M43.1,121.5h-1.5M43.1,117.6h-2.9M43.1,86.9h-1.0M43.1,123.6h-1.7M43.1,106.6h-1.8M43.1,115.9h-2.4M43.1,49.7h-1.6M43.1,49.2h-1.9M43.1,68.3h-1.0M43.1,120.9h-1.5M43.1,115.3h-2.4M43.1,119.5h-1.0M43.1,115.0h-1.8M43.1,101.7h-1.3M43.1,109.9h-1.2M43.1,113.6h-1.1M43.1,120.4h-2.6M43.1,104.1h-2.3M43.1,121.2h-1.6M43.1,114.0h-1.7M43.1,118.8h-2.4M43.1,108.6h-2.1M43.1,116.1h-2.8M43.1,91.4h-2.8M43.1,110.0h-1.9M43.1,69.7h-2.3M43.1,47.8h-2.0M43.1,30.3h-1.5M43.1,116.3h-1.8M43.1,105.7h-2.4M43.1,121.5h-2.0M43.1,119.0h-2.2M43.1,98.7h-1.9M43.1,134.1h-2.9M43.1,113.4h-2.5M43.1,117.1h-1.1M43.1,101.6h-2.6M43.1,67.3h-2.8M43.1,64.0h-2.6M43.1,65.1h-1.6M43.1,113.8h-1.6M43.1,51.0h-1.3M43.1,24.3h-0.9M43.1,119.4h-1.8M43.1,47.2h-2.7M43.1,105.3h-2.5M43.1,107.8h-2.3M43.1,114.0h-2.7M43.1,109.0h-2.3M43.1,125.5h-1.3M43.1,117.1h-2.6M43.1,112.4h-1.6M43.1,113.8h-2.8M43.1,108.8h-1.5M43.1,131.6h-1.0M43.1,71.3h-2.4M43.1,115.9h-1.0M43.1,111.7h-2.7M43.1,31.2h-1.7M43.1,81.4h-2.5M43.1,124.2h-0.9M43.1,118.1h-2.0M43.1,22.5h-2.3M43.1,81.5h-1.1M43.1,22.0h-2.1M43.1,119.2h-1.1M43.1,50.4h-1.5M43.1,35.0h-1.6M43.1,136.4h-2.2M43.1,104.9h-1.1M43.1,87.0h-1.2M43.1,33.4h-2.5M43.1,99.9h-2.4M43.1,96.4h-1.8M43.1,110.1h-1.4M43.1,20.8h-2.3M43.1,59.6h-1.8M43.1,68.7h-1.5M43.1,104.0h-2.7M43.1,83.0h-1.2M43.1,113.8h-2.6M43.1,79.2h-2.2M43.1,122.0h-2.2M43.1,131.0h-2.3M43.1,35.9h-2.4M43.1,68.8h-2.7M43.1,112.2h-2.8M43.1,117.7h-1.4M43.1,37.5h-1.2M43.1,65.9h-2.8M43.1,105.3h-1.2M43.1,115.3h-1.3M43.1,121.8h-2.6M43.1,120.4h-2.9M43.1,118.1h-2.7M43.1,33.8h-1.9M43.1,134.7h-1.6M43.1,113.8h-3.0M43.1,43.3h-2.4M43.1,74.7h-2.2M43.1,114.2h-0.8M43.1,99.3h-1.2M43.1,104.7h-0.8M43.1,118.3h-2.8M43.1,118.8h-1.3M43.1,111.4h-1.2M43.1,117.7h-2.1M43.1,101.3h-1.2" fill="none" stroke="#111" stroke-width="0.6"/>
<line x1="34.2" y1="150.4" x2="34.2" y2="23.5" stroke="#333" stroke-width="1.2"/>
<path d="M34.2,17 L37.5,24.6 L34.2,23 L30.9,24.6 Z" fill="#111"/>
<line x1="33.6" y1="150.4" x2="163" y2="150.4" stroke="#333" stroke-width="1.2"/>
<path d="M168.8,150.4 L161.2,147.2 L162.8,150.4 L161.2,153.6 Z" fill="#111"/>
<text x="111.5" y="35.8" font-size="7.5" textLength="27.3" lengthAdjust="spacingAndGlyphs">NK cells</text>
<text x="98.7" y="160.8" font-size="10.5" fill="#3a3a3a" textLength="14.8" lengthAdjust="spacingAndGlyphs">CD3</text>
<text x="29.5" y="80.1" font-size="10.5" text-anchor="middle" fill="#3a3a3a" transform="rotate(-90 29.5 80.1)" textLength="19.6" lengthAdjust="spacingAndGlyphs">CD56</text>
<path d="M240.1,39.1 240.5,39.1 241.0,39.0 241.5,39.0 242.0,39.0 242.5,39.0 243.0,39.0 243.5,39.1 243.9,39.1 244.2,39.2 244.8,39.4 245.0,39.4 245.5,39.6 245.8,39.7 246.2,39.9 246.5,40.0 246.8,40.2 247.2,40.4 247.5,40.6 247.8,40.8 248.0,40.9 248.3,41.1 248.6,41.4 248.9,41.6 249.1,41.9 249.4,42.1 249.6,42.4 249.9,42.7 250.1,42.9 250.3,43.1 250.5,43.4 250.8,43.7 251.0,44.1 251.2,44.4 251.4,44.6 251.6,44.9 251.8,45.2 252.0,45.6 252.2,45.9 252.3,46.1 252.5,46.5 252.7,46.9 252.9,47.1 253.0,47.4 253.2,47.8 253.4,48.1 253.6,48.4 253.8,48.7 254.0,49.1 254.1,49.4 254.3,49.6 254.5,50.0 254.7,50.4 254.9,50.6 255.1,50.9 255.2,51.2 255.5,51.5 255.8,51.9 255.9,52.1 256.1,52.4 256.3,52.6 256.5,52.9 256.8,53.2 257.0,53.5 257.2,53.7 257.5,54.0 257.8,54.2 258.0,54.5 258.2,54.7 258.5,54.9 258.8,55.2 259.1,55.4 259.4,55.6 259.8,55.9 260.0,56.0 260.2,56.2 260.6,56.4 261.0,56.6 261.2,56.7 261.8,56.9 262.0,57.0 262.5,57.1 262.8,57.2 263.2,57.3 263.5,57.4 264.0,57.5 264.5,57.6 264.8,57.7 265.2,57.8 265.6,57.9 266.0,58.0 266.5,58.1 266.8,58.2 267.2,58.4 267.5,58.5 268.0,58.6 268.2,58.7 268.6,58.9 269.0,59.1 269.2,59.2 269.7,59.4 270.0,59.6 270.2,59.7 270.5,59.9 270.9,60.1 271.2,60.4 271.5,60.6 271.8,60.8 272.0,61.1 272.2,61.3 272.5,61.6 272.8,61.8 273.0,62.1 273.2,62.4 273.4,62.7 273.6,62.9 273.8,63.1 274.0,63.5 274.2,63.9 274.4,64.2 274.5,64.4 274.7,64.9 274.8,65.2 275.0,65.6 275.1,65.9 275.2,66.4 275.3,66.7 275.4,67.2 275.5,67.7 275.5,67.9 275.6,68.4 275.6,68.9 275.6,69.4 275.6,69.9 275.5,70.4 275.5,70.7 275.4,71.2 275.3,71.7 275.2,71.9 275.1,72.4 275.0,72.7 274.8,73.2 274.7,73.4 274.5,73.9 274.4,74.2 274.2,74.4 274.0,74.8 273.8,75.2 273.6,75.4 273.4,75.7 273.2,75.9 273.0,76.2 272.7,76.4 272.5,76.7 272.2,76.9 271.9,77.2 271.6,77.4 271.3,77.7 271.0,77.9 270.8,78.0 270.5,78.2 270.1,78.4 269.8,78.6 269.5,78.7 269.1,78.9 268.8,79.1 268.5,79.2 268.0,79.3 267.8,79.4 267.2,79.6 266.9,79.7 266.5,79.7 266.0,79.8 265.7,79.9 265.2,80.0 264.8,80.1 264.2,80.1 263.9,80.2 263.5,80.2 263.0,80.3 262.5,80.3 262.0,80.4 261.8,80.4 261.2,80.5 260.8,80.6 260.5,80.7 260.0,80.9 259.8,81.0 259.4,81.2 259.0,81.4 258.8,81.6 258.5,81.7 258.2,81.9 258.0,82.2 257.7,82.4 257.5,82.7 257.2,82.9 257.0,83.2 256.8,83.5 256.5,83.7 256.2,84.0 256.0,84.3 255.8,84.6 255.5,84.9 255.3,85.2 255.1,85.4 254.9,85.7 254.7,85.9 254.4,86.2 254.2,86.4 253.9,86.7 253.7,86.9 253.4,87.2 253.2,87.4 252.9,87.7 252.6,87.9 252.2,88.1 252.0,88.3 251.8,88.5 251.5,88.7 251.0,88.9 250.8,89.0 250.5,89.2 250.0,89.4 249.8,89.4 249.2,89.6 249.0,89.7 248.5,89.7 248.0,89.8 247.5,89.8 247.0,89.8 246.5,89.7 246.2,89.6 245.8,89.5 245.4,89.4 245.0,89.2 244.8,89.1 244.3,88.9 244.0,88.7 243.8,88.6 243.5,88.4 243.2,88.2 242.9,87.9 242.6,87.7 242.3,87.4 242.1,87.2 241.8,86.9 241.6,86.7 241.4,86.4 241.2,86.2 241.0,85.9 240.8,85.5 240.5,85.2 240.3,84.9 240.2,84.7 240.0,84.3 239.8,83.9 239.6,83.7 239.5,83.4 239.3,82.9 239.2,82.7 239.0,82.3 238.8,81.9 238.7,81.7 238.6,81.2 238.5,80.9 238.3,80.4 238.2,80.2 238.1,79.7 238.0,79.3 237.9,78.9 237.8,78.4 237.7,78.2 237.6,77.7 237.5,77.1 237.5,76.9 237.4,76.4 237.3,75.9 237.2,75.6 237.2,75.2 237.1,74.7 237.1,74.2 237.0,73.7 237.0,73.4 236.9,72.9 236.9,72.4 236.9,71.9 236.8,71.4 236.8,70.9 236.8,70.4 236.7,70.2 236.7,69.7 236.7,69.2 236.6,68.7 236.6,68.2 236.5,67.7 236.5,67.4 236.4,66.9 236.3,66.4 236.3,65.9 236.2,65.7 236.1,65.2 236.0,64.8 235.9,64.4 235.8,64.0 235.6,63.6 235.5,63.3 235.3,62.9 235.2,62.6 235.0,62.1 234.9,61.9 234.8,61.6 234.5,61.1 234.4,60.9 234.2,60.6 234.0,60.1 233.9,59.9 233.8,59.6 233.5,59.2 233.4,58.9 233.2,58.6 233.1,58.2 233.0,57.9 232.8,57.4 232.7,57.1 232.5,56.7 232.4,56.4 232.2,56.0 232.2,55.7 232.0,55.2 232.0,54.9 231.8,54.4 231.8,53.9 231.7,53.7 231.6,53.1 231.6,52.6 231.6,52.1 231.5,51.6 231.5,51.1 231.5,50.7 231.6,50.1 231.6,49.6 231.7,49.1 231.7,48.6 231.8,48.4 231.9,47.9 232.0,47.4 232.0,47.2 232.2,46.6 232.3,46.4 232.4,45.9 232.5,45.6 232.7,45.1 232.8,44.9 233.0,44.5 233.2,44.1 233.3,43.9 233.5,43.6 233.8,43.2 233.9,42.9 234.1,42.6 234.3,42.4 234.5,42.1 234.8,41.9 235.0,41.6 235.3,41.4 235.6,41.1 235.9,40.9 236.2,40.7 236.5,40.5 236.8,40.3 237.1,40.1 237.5,40.0 237.8,39.8 238.2,39.6 238.5,39.6 239.0,39.4 239.2,39.3 239.8,39.2 240.1,39.1ZM240.3,40.7 240.8,40.6 241.2,40.5 241.8,40.5 242.2,40.5 242.8,40.5 243.2,40.6 243.5,40.6 244.0,40.8 244.5,40.9 244.8,41.0 245.2,41.1 245.5,41.3 245.7,41.4 246.2,41.6 246.5,41.8 246.8,42.0 247.0,42.2 247.3,42.4 247.6,42.7 247.9,42.9 248.2,43.2 248.4,43.4 248.7,43.6 248.9,43.9 249.1,44.1 249.3,44.4 249.5,44.7 249.8,45.0 250.0,45.4 250.2,45.6 250.3,45.9 250.5,46.2 250.8,46.6 250.9,46.9 251.1,47.1 251.2,47.5 251.5,47.9 251.6,48.1 251.8,48.4 252.0,48.9 252.1,49.2 252.3,49.4 252.5,49.8 252.7,50.1 252.8,50.4 253.0,50.7 253.2,51.1 253.5,51.4 253.6,51.6 253.8,51.9 254.0,52.2 254.2,52.5 254.5,52.9 254.7,53.1 254.9,53.4 255.1,53.6 255.3,53.9 255.5,54.1 255.8,54.4 256.0,54.7 256.2,55.0 256.5,55.3 256.8,55.5 257.0,55.8 257.2,56.0 257.5,56.3 257.8,56.5 258.0,56.7 258.2,56.9 258.5,57.1 258.9,57.4 259.2,57.6 259.5,57.8 259.8,57.9 260.2,58.2 260.5,58.3 260.9,58.4 261.2,58.5 261.7,58.6 262.0,58.7 262.5,58.8 263.0,58.9 263.2,58.9 263.8,59.0 264.2,59.1 264.7,59.1 265.0,59.2 265.5,59.3 266.0,59.4 266.2,59.4 266.8,59.6 267.0,59.6 267.5,59.8 267.8,59.9 268.2,60.1 268.5,60.2 268.9,60.4 269.2,60.6 269.5,60.7 269.8,60.9 270.2,61.1 270.5,61.3 270.8,61.5 271.0,61.7 271.2,62.0 271.5,62.2 271.8,62.4 272.0,62.7 272.2,63.0 272.5,63.3 272.7,63.6 272.9,63.9 273.1,64.2 273.2,64.5 273.5,64.9 273.6,65.2 273.8,65.5 273.9,65.9 274.0,66.2 274.1,66.7 274.2,67.2 274.3,67.4 274.4,67.9 274.4,68.4 274.5,68.9 274.5,69.4 274.4,69.9 274.4,70.4 274.3,70.9 274.2,71.2 274.1,71.7 274.0,72.0 273.9,72.4 273.8,72.7 273.6,73.2 273.4,73.4 273.2,73.7 273.0,74.1 272.8,74.4 272.6,74.7 272.5,74.9 272.2,75.2 272.0,75.4 271.8,75.7 271.5,75.9 271.2,76.2 270.9,76.4 270.6,76.7 270.2,76.9 270.0,77.0 269.8,77.2 269.3,77.4 269.0,77.6 268.8,77.7 268.2,77.9 268.0,78.0 267.5,78.1 267.2,78.2 266.8,78.3 266.2,78.4 266.0,78.4 265.5,78.5 265.0,78.5 264.5,78.6 264.0,78.6 263.5,78.6 263.0,78.6 262.5,78.5 262.0,78.5 261.5,78.5 261.0,78.5 260.5,78.5 260.0,78.5 259.5,78.5 259.0,78.6 258.8,78.7 258.3,78.9 258.0,79.0 257.8,79.2 257.5,79.4 257.2,79.7 256.9,79.9 256.6,80.2 256.4,80.4 256.2,80.7 256.0,80.9 255.8,81.2 255.5,81.5 255.2,81.8 255.0,82.2 254.8,82.4 254.6,82.7 254.4,82.9 254.2,83.2 254.0,83.4 253.8,83.7 253.5,84.0 253.2,84.3 253.0,84.5 252.8,84.8 252.5,85.0 252.2,85.3 252.0,85.5 251.8,85.7 251.4,85.9 251.1,86.2 250.8,86.3 250.5,86.5 250.1,86.7 249.8,86.8 249.5,86.9 249.0,87.1 248.5,87.2 248.2,87.2 247.8,87.2 247.2,87.2 246.8,87.2 246.5,87.1 246.0,87.0 245.8,86.9 245.2,86.7 245.0,86.6 244.7,86.4 244.3,86.2 244.0,85.9 243.8,85.8 243.5,85.5 243.2,85.3 243.0,85.1 242.7,84.8 242.5,84.5 242.2,84.2 242.0,83.9 241.8,83.7 241.7,83.4 241.5,83.2 241.2,82.7 241.1,82.4 240.9,82.2 240.7,81.8 240.6,81.4 240.5,81.2 240.2,80.7 240.1,80.4 240.0,80.0 239.9,79.7 239.8,79.2 239.6,78.9 239.5,78.4 239.4,78.2 239.3,77.7 239.2,77.3 239.2,76.9 239.1,76.4 239.0,76.0 238.9,75.7 238.9,75.2 238.8,74.7 238.8,74.2 238.7,73.9 238.7,73.4 238.7,72.9 238.6,72.4 238.6,71.9 238.6,71.4 238.6,70.9 238.6,70.4 238.6,69.9 238.6,69.4 238.6,68.9 238.6,68.4 238.5,67.9 238.5,67.4 238.5,66.9 238.5,66.5 238.5,66.2 238.4,65.7 238.4,65.2 238.3,64.7 238.2,64.4 238.1,63.9 238.0,63.5 237.9,63.1 237.8,62.8 237.6,62.4 237.5,62.2 237.2,61.8 237.1,61.4 236.9,61.1 236.7,60.9 236.5,60.5 236.3,60.1 236.1,59.9 235.9,59.6 235.8,59.4 235.5,59.0 235.3,58.6 235.1,58.4 235.0,58.1 234.8,57.7 234.6,57.4 234.5,57.1 234.2,56.7 234.1,56.4 234.0,56.1 233.8,55.6 233.7,55.4 233.5,54.9 233.5,54.6 233.3,54.2 233.2,53.9 233.2,53.4 233.1,52.9 233.0,52.4 233.0,52.1 232.9,51.6 232.9,51.1 232.9,50.6 233.0,50.1 233.0,49.6 233.0,49.4 233.1,48.9 233.2,48.4 233.2,48.1 233.3,47.6 233.5,47.1 233.6,46.9 233.7,46.4 233.8,46.1 234.0,45.7 234.2,45.4 234.3,45.1 234.5,44.7 234.7,44.4 234.9,44.1 235.0,43.9 235.2,43.6 235.5,43.3 235.8,43.0 236.0,42.8 236.2,42.6 236.5,42.4 236.8,42.1 237.1,41.9 237.5,41.7 237.8,41.5 238.0,41.4 238.5,41.2 238.8,41.1 239.2,40.9 239.5,40.8 240.0,40.7 240.3,40.7ZM240.5,42.2 240.8,42.1 241.2,42.0 241.8,42.0 242.2,42.0 242.8,42.1 243.2,42.1 243.5,42.2 244.0,42.3 244.3,42.4 244.8,42.6 245.0,42.7 245.3,42.9 245.7,43.1 246.0,43.3 246.2,43.5 246.5,43.7 246.7,43.9 247.0,44.1 247.3,44.4 247.5,44.6 247.8,44.9 248.0,45.2 248.2,45.6 248.5,45.9 248.7,46.1 248.8,46.4 249.0,46.7 249.2,47.1 249.4,47.4 249.5,47.6 249.8,48.0 249.9,48.4 250.1,48.6 250.2,49.0 250.5,49.4 250.6,49.6 250.8,49.9 251.0,50.4 251.2,50.6 251.3,50.9 251.5,51.2 251.8,51.6 251.9,51.9 252.1,52.1 252.3,52.4 252.5,52.7 252.8,53.1 253.0,53.4 253.2,53.7 253.4,53.9 253.6,54.2 253.8,54.4 254.0,54.7 254.2,55.0 254.5,55.3 254.8,55.6 255.0,55.9 255.2,56.1 255.4,56.4 255.6,56.6 255.8,56.9 256.1,57.1 256.3,57.4 256.5,57.7 256.8,58.0 257.0,58.2 257.2,58.5 257.5,58.7 257.8,59.0 258.0,59.2 258.3,59.4 258.7,59.6 259.0,59.8 259.2,59.9 259.8,60.1 260.0,60.2 260.5,60.3 261.0,60.4 261.4,60.4 261.8,60.4 262.2,60.4 262.8,60.5 263.2,60.5 263.8,60.5 264.2,60.5 264.8,60.6 265.2,60.6 265.5,60.7 266.0,60.7 266.5,60.8 266.8,60.9 267.2,61.1 267.5,61.1 268.0,61.3 268.2,61.4 268.7,61.6 269.0,61.8 269.2,61.9 269.6,62.2 269.9,62.4 270.2,62.6 270.5,62.9 270.8,63.1 271.0,63.3 271.2,63.6 271.5,63.9 271.7,64.2 271.9,64.4 272.0,64.7 272.2,65.0 272.5,65.4 272.6,65.7 272.8,66.1 272.9,66.4 273.0,66.8 273.1,67.2 273.2,67.7 273.2,68.0 273.3,68.4 273.3,68.9 273.3,69.4 273.3,69.9 273.2,70.2 273.2,70.7 273.1,71.2 273.0,71.4 272.8,71.9 272.7,72.2 272.5,72.6 272.4,72.9 272.2,73.1 272.0,73.5 271.8,73.9 271.5,74.2 271.3,74.4 271.1,74.7 270.8,74.9 270.6,75.2 270.2,75.4 270.0,75.6 269.8,75.8 269.5,75.9 269.1,76.2 268.8,76.3 268.5,76.4 268.0,76.6 267.8,76.7 267.2,76.8 267.0,76.9 266.5,77.0 266.0,77.1 265.5,77.1 265.0,77.1 264.5,77.1 264.0,77.1 263.5,77.0 263.0,76.9 262.7,76.9 262.2,76.8 261.8,76.7 261.5,76.6 261.0,76.5 260.8,76.4 260.2,76.2 260.0,76.2 259.5,76.0 259.0,75.9 258.8,75.9 258.2,75.8 257.8,75.8 257.4,75.9 257.0,76.0 256.8,76.2 256.5,76.4 256.2,76.7 256.0,76.9 255.7,77.2 255.5,77.5 255.2,77.8 255.0,78.2 254.9,78.4 254.7,78.7 254.5,79.0 254.3,79.4 254.1,79.7 253.9,79.9 253.8,80.2 253.5,80.6 253.3,80.9 253.1,81.2 252.9,81.4 252.7,81.7 252.5,81.9 252.2,82.2 252.0,82.5 251.8,82.7 251.5,82.9 251.2,83.2 251.0,83.4 250.6,83.7 250.2,83.9 250.0,84.0 249.8,84.2 249.2,84.4 249.0,84.4 248.5,84.6 248.0,84.6 247.8,84.7 247.4,84.7 247.0,84.6 246.5,84.5 246.1,84.4 245.8,84.3 245.5,84.1 245.1,83.9 244.8,83.7 244.5,83.5 244.2,83.3 244.0,83.1 243.8,82.8 243.5,82.5 243.2,82.2 243.0,81.9 242.8,81.7 242.7,81.4 242.5,81.1 242.2,80.7 242.1,80.4 242.0,80.2 241.8,79.7 241.6,79.4 241.5,79.0 241.4,78.7 241.2,78.3 241.1,77.9 241.0,77.4 240.9,77.2 240.8,76.7 240.8,76.3 240.7,75.9 240.6,75.4 240.5,74.9 240.5,74.7 240.4,74.2 240.4,73.7 240.4,73.2 240.4,72.7 240.3,72.2 240.3,71.7 240.4,71.2 240.4,70.7 240.4,70.2 240.4,69.7 240.5,69.2 240.5,68.8 240.5,68.4 240.6,67.9 240.6,67.4 240.7,66.9 240.7,66.4 240.8,66.2 240.8,65.7 240.8,65.2 240.9,64.7 240.9,64.2 240.8,63.6 240.8,63.1 240.7,62.9 240.6,62.4 240.5,62.1 240.3,61.7 240.1,61.4 240.0,61.1 239.8,60.8 239.5,60.5 239.2,60.2 239.0,59.9 238.8,59.7 238.5,59.4 238.3,59.1 238.0,58.9 237.8,58.6 237.5,58.4 237.3,58.1 237.1,57.9 236.9,57.6 236.7,57.4 236.5,57.1 236.2,56.8 236.0,56.4 235.8,56.1 235.7,55.9 235.5,55.6 235.3,55.1 235.2,54.9 235.0,54.5 234.9,54.1 234.8,53.7 234.7,53.4 234.5,52.9 234.5,52.6 234.4,52.2 234.4,51.6 234.3,51.1 234.3,50.6 234.3,50.1 234.4,49.6 234.4,49.1 234.5,48.9 234.6,48.4 234.7,47.9 234.8,47.7 235.0,47.1 235.0,46.9 235.2,46.4 235.4,46.1 235.5,45.9 235.8,45.5 236.0,45.1 236.1,44.9 236.3,44.7 236.5,44.4 236.8,44.1 237.0,43.9 237.3,43.7 237.6,43.4 238.0,43.1 238.2,43.0 238.5,42.8 238.9,42.6 239.2,42.5 239.5,42.4 240.0,42.3 240.5,42.2ZM240.7,43.6 241.0,43.6 241.5,43.5 242.0,43.5 242.5,43.6 242.9,43.6 243.2,43.7 243.8,43.9 244.0,44.0 244.4,44.1 244.8,44.3 245.0,44.5 245.2,44.7 245.6,44.9 245.8,45.1 246.1,45.4 246.4,45.6 246.6,45.9 246.8,46.1 247.0,46.4 247.2,46.8 247.5,47.1 247.6,47.4 247.8,47.6 248.0,48.1 248.2,48.4 248.3,48.6 248.5,49.0 248.7,49.4 248.8,49.6 249.0,50.0 249.2,50.4 249.3,50.6 249.5,51.0 249.7,51.4 249.9,51.6 250.1,51.9 250.2,52.2 250.5,52.5 250.8,52.9 251.0,53.1 251.2,53.4 251.4,53.6 251.6,53.9 251.8,54.1 252.0,54.4 252.2,54.7 252.5,55.0 252.8,55.3 253.0,55.6 253.2,55.9 253.4,56.2 253.5,56.4 253.8,56.8 254.0,57.1 254.1,57.4 254.2,57.9 254.3,58.1 254.2,58.6 254.0,58.9 253.8,59.1 253.5,59.1 253.0,59.2 252.5,59.2 252.2,59.1 251.8,59.1 251.2,59.0 250.8,59.0 250.2,58.9 249.9,58.9 249.5,58.9 249.2,58.9 248.8,59.0 248.2,59.1 247.9,59.2 247.5,59.2 247.0,59.3 246.5,59.4 246.0,59.4 245.5,59.3 245.0,59.2 244.8,59.1 244.2,59.0 243.8,58.9 243.5,58.8 243.0,58.7 242.8,58.6 242.2,58.5 242.0,58.4 241.5,58.2 241.2,58.1 240.8,57.9 240.5,57.8 240.2,57.6 239.8,57.4 239.5,57.2 239.2,57.1 239.0,56.9 238.6,56.7 238.3,56.4 238.1,56.1 237.8,55.9 237.6,55.6 237.4,55.4 237.2,55.1 237.0,54.9 236.8,54.5 236.6,54.2 236.4,53.9 236.2,53.4 236.1,53.1 236.0,52.7 235.9,52.4 235.8,51.9 235.8,51.4 235.7,51.1 235.7,50.6 235.7,50.1 235.8,49.9 235.8,49.4 235.9,48.9 236.0,48.5 236.1,48.1 236.2,47.7 236.4,47.4 236.5,47.1 236.7,46.7 236.9,46.4 237.0,46.1 237.2,45.8 237.5,45.5 237.8,45.3 238.0,45.0 238.2,44.8 238.5,44.6 238.8,44.4 239.2,44.1 239.5,44.0 239.8,43.9 240.2,43.8 240.7,43.6ZM246.5,61.4 246.8,61.3 247.3,61.2 247.7,61.2 248.2,61.3 248.5,61.5 248.9,61.6 249.2,61.9 249.5,62.1 249.8,62.3 250.0,62.5 250.2,62.7 250.5,62.9 250.8,63.2 251.0,63.4 251.2,63.7 251.5,64.0 251.8,64.3 252.0,64.6 252.2,64.9 252.4,65.2 252.6,65.4 252.8,65.7 253.0,66.0 253.2,66.4 253.4,66.7 253.5,66.9 253.8,67.3 253.9,67.7 254.0,67.9 254.2,68.4 254.4,68.7 254.5,69.1 254.6,69.4 254.6,69.9 254.7,70.4 254.7,70.9 254.6,71.4 254.5,71.9 254.5,72.2 254.4,72.7 254.3,73.2 254.2,73.4 254.1,73.9 254.0,74.2 253.9,74.7 253.8,75.0 253.6,75.4 253.5,75.8 253.4,76.2 253.2,76.4 253.1,76.9 253.0,77.2 252.8,77.6 252.6,77.9 252.5,78.2 252.2,78.6 252.1,78.9 251.9,79.2 251.7,79.4 251.5,79.7 251.2,80.0 251.0,80.3 250.8,80.6 250.5,80.8 250.2,81.1 250.0,81.2 249.8,81.4 249.3,81.7 249.0,81.8 248.8,81.9 248.2,82.0 247.8,82.1 247.2,82.1 246.8,82.0 246.5,81.9 246.0,81.7 245.8,81.6 245.5,81.4 245.2,81.2 244.9,80.9 244.6,80.7 244.4,80.4 244.2,80.2 244.0,79.9 243.8,79.5 243.5,79.1 243.4,78.9 243.2,78.6 243.0,78.2 242.9,77.9 242.8,77.4 242.7,77.2 242.5,76.7 242.5,76.4 242.4,75.9 242.3,75.4 242.2,75.2 242.2,74.7 242.1,74.2 242.1,73.7 242.1,73.2 242.0,72.7 242.1,72.2 242.1,71.7 242.1,71.2 242.2,70.7 242.2,70.2 242.3,69.9 242.4,69.4 242.5,68.9 242.5,68.7 242.6,68.2 242.8,67.8 242.9,67.4 243.0,67.0 243.1,66.7 243.2,66.3 243.4,65.9 243.5,65.7 243.7,65.2 243.8,64.9 244.0,64.6 244.2,64.2 244.4,63.9 244.5,63.7 244.8,63.3 245.0,62.9 245.2,62.7 245.4,62.4 245.6,62.1 245.9,61.9 246.1,61.6 246.5,61.4ZM262.5,62.1 263.0,62.1 263.5,62.0 264.0,62.0 264.5,62.0 265.0,62.0 265.5,62.0 266.0,62.1 266.5,62.1 266.8,62.2 267.2,62.4 267.5,62.4 268.0,62.6 268.2,62.8 268.5,62.9 268.9,63.1 269.2,63.4 269.5,63.5 269.8,63.7 270.0,64.0 270.2,64.2 270.5,64.5 270.8,64.8 271.0,65.2 271.2,65.4 271.3,65.7 271.5,66.0 271.7,66.4 271.8,66.7 271.9,67.2 272.0,67.4 272.1,67.9 272.2,68.4 272.2,68.9 272.2,69.4 272.1,69.9 272.1,70.4 272.0,70.7 271.9,71.2 271.8,71.5 271.6,71.9 271.4,72.2 271.2,72.5 271.0,72.9 270.8,73.2 270.6,73.4 270.4,73.7 270.2,73.9 269.9,74.2 269.6,74.4 269.2,74.6 269.0,74.8 268.8,74.9 268.3,75.2 268.0,75.3 267.7,75.4 267.2,75.5 266.8,75.7 266.5,75.7 266.0,75.8 265.5,75.8 265.0,75.8 264.5,75.7 264.0,75.7 263.8,75.6 263.2,75.5 263.0,75.4 262.5,75.2 262.2,75.1 261.8,74.9 261.5,74.7 261.2,74.6 260.9,74.4 260.6,74.2 260.2,73.9 260.0,73.7 259.8,73.5 259.5,73.3 259.2,73.0 259.0,72.8 258.8,72.5 258.5,72.2 258.2,71.9 258.0,71.7 257.9,71.4 257.7,71.2 257.5,70.8 257.3,70.4 257.2,70.2 257.1,69.7 257.0,69.3 257.0,68.9 257.0,68.4 257.0,68.1 257.1,67.7 257.2,67.2 257.2,66.8 257.4,66.4 257.5,66.0 257.6,65.7 257.8,65.4 258.0,64.9 258.1,64.7 258.2,64.4 258.5,64.0 258.8,63.7 259.0,63.4 259.2,63.2 259.5,63.1 259.9,62.9 260.2,62.7 260.5,62.6 261.0,62.5 261.3,62.4 261.8,62.3 262.2,62.2 262.5,62.1ZM241.0,45.1 241.2,45.1 241.8,45.1 242.2,45.1 242.6,45.1 243.0,45.3 243.4,45.4 243.8,45.6 244.0,45.7 244.3,45.9 244.7,46.2 244.9,46.4 245.2,46.6 245.4,46.9 245.6,47.1 245.8,47.4 246.0,47.7 246.2,48.1 246.4,48.4 246.5,48.6 246.7,49.1 246.9,49.4 247.0,49.8 247.2,50.1 247.3,50.4 247.5,50.9 247.6,51.1 247.8,51.6 247.9,51.9 248.0,52.1 248.2,52.6 248.4,52.9 248.6,53.2 248.7,53.4 249.0,53.8 249.2,54.1 249.5,54.3 249.8,54.5 250.1,54.6 250.5,54.9 250.8,55.1 251.0,55.3 251.2,55.6 251.2,55.7 250.8,55.6 250.5,55.4 250.2,55.3 250.0,55.0 249.8,54.8 249.5,54.6 249.1,54.4 248.8,54.3 248.2,54.2 247.8,54.2 247.2,54.3 246.8,54.4 246.5,54.5 246.0,54.6 245.8,54.7 245.3,54.9 245.0,55.0 244.6,55.1 244.2,55.3 243.8,55.4 243.5,55.5 243.0,55.6 242.5,55.6 242.0,55.6 241.5,55.6 241.0,55.5 240.6,55.4 240.2,55.3 239.9,55.1 239.5,54.9 239.2,54.7 239.0,54.6 238.8,54.3 238.5,54.1 238.2,53.8 238.0,53.5 237.8,53.1 237.7,52.9 237.5,52.5 237.4,52.1 237.2,51.7 237.2,51.4 237.1,50.9 237.1,50.4 237.1,49.9 237.2,49.4 237.2,49.1 237.4,48.6 237.5,48.3 237.7,47.9 237.8,47.6 238.0,47.3 238.2,46.9 238.5,46.6 238.7,46.4 239.0,46.1 239.2,45.9 239.5,45.7 239.8,45.6 240.2,45.4 240.5,45.3 241.0,45.1ZM264.3,63.4 264.8,63.3 265.2,63.3 265.8,63.3 266.2,63.4 266.5,63.5 267.0,63.6 267.2,63.7 267.8,63.9 268.0,64.0 268.3,64.2 268.7,64.4 269.0,64.6 269.2,64.9 269.5,65.1 269.8,65.4 270.0,65.7 270.1,65.9 270.3,66.2 270.5,66.6 270.6,66.9 270.8,67.2 270.9,67.7 271.0,68.2 271.0,68.4 271.1,68.9 271.0,69.4 271.0,69.8 270.9,70.2 270.8,70.7 270.7,70.9 270.5,71.4 270.4,71.7 270.2,71.9 270.0,72.3 269.8,72.6 269.5,72.9 269.2,73.1 269.0,73.3 268.8,73.5 268.5,73.7 268.1,73.9 267.8,74.1 267.5,74.2 267.0,74.3 266.6,74.4 266.2,74.5 265.8,74.5 265.2,74.5 264.8,74.4 264.5,74.4 264.0,74.2 263.7,74.2 263.2,74.0 263.0,73.8 262.7,73.7 262.3,73.4 262.0,73.2 261.8,73.0 261.5,72.7 261.2,72.4 261.0,72.2 260.8,71.9 260.7,71.7 260.5,71.4 260.3,70.9 260.2,70.7 260.0,70.1 260.0,69.9 259.9,69.4 259.8,68.9 259.8,68.4 259.8,67.9 259.9,67.4 260.0,67.1 260.1,66.7 260.2,66.4 260.5,65.9 260.6,65.7 260.8,65.4 261.0,65.1 261.2,64.8 261.5,64.6 261.8,64.4 262.1,64.2 262.5,64.0 262.8,63.8 263.2,63.6 263.5,63.6 264.0,63.4 264.3,63.4ZM246.7,66.7 247.0,66.6 247.5,66.5 248.0,66.5 248.5,66.6 248.8,66.7 249.1,66.9 249.5,67.2 249.8,67.4 250.0,67.6 250.2,67.9 250.4,68.2 250.6,68.4 250.8,68.7 251.0,69.2 251.1,69.4 251.2,69.8 251.4,70.2 251.5,70.6 251.6,70.9 251.7,71.4 251.7,71.9 251.7,72.4 251.8,72.7 251.8,72.9 251.7,73.4 251.7,73.9 251.6,74.4 251.5,74.9 251.5,75.2 251.3,75.7 251.2,75.9 251.1,76.4 250.9,76.7 250.8,77.1 250.6,77.4 250.4,77.7 250.2,77.9 250.0,78.2 249.8,78.5 249.5,78.7 249.2,78.9 248.9,79.2 248.5,79.3 248.2,79.4 247.8,79.5 247.2,79.5 246.9,79.4 246.5,79.3 246.3,79.1 245.9,78.9 245.6,78.7 245.4,78.4 245.2,78.2 245.0,77.9 244.8,77.5 244.6,77.2 244.5,76.9 244.3,76.4 244.2,76.2 244.0,75.7 244.0,75.4 243.9,74.9 243.8,74.4 243.8,74.0 243.7,73.7 243.7,73.2 243.7,72.7 243.8,72.2 243.8,71.9 243.8,71.4 243.9,70.9 244.0,70.6 244.1,70.2 244.2,69.8 244.4,69.4 244.5,69.1 244.7,68.7 244.9,68.4 245.0,68.2 245.2,67.9 245.5,67.6 245.8,67.3 246.0,67.1 246.3,66.9 246.7,66.7ZM241.7,46.6 241.8,46.6 242.2,46.7 242.8,46.8 243.0,46.9 243.4,47.1 243.7,47.4 243.9,47.7 244.2,47.9 244.3,48.1 244.5,48.4 244.8,48.9 244.9,49.1 245.0,49.6 245.1,49.9 245.1,50.4 245.1,50.9 245.0,51.3 244.9,51.6 244.7,51.9 244.5,52.2 244.2,52.4 244.0,52.7 243.7,52.9 243.2,53.1 243.0,53.3 242.6,53.4 242.2,53.5 241.8,53.6 241.2,53.6 240.8,53.5 240.5,53.4 240.0,53.2 239.8,53.0 239.5,52.7 239.2,52.5 239.0,52.1 238.9,51.9 238.8,51.6 238.6,51.1 238.5,50.6 238.5,50.2 238.6,49.6 238.7,49.2 238.8,48.9 239.0,48.4 239.1,48.1 239.3,47.9 239.5,47.6 239.8,47.4 240.1,47.1 240.5,46.9 240.8,46.8 241.2,46.7 241.7,46.6ZM265.4,64.7 265.8,64.6 266.0,64.7 266.5,64.7 267.0,64.9 267.2,65.0 267.6,65.2 268.0,65.4 268.2,65.5 268.5,65.8 268.8,66.0 269.0,66.3 269.2,66.7 269.4,66.9 269.5,67.2 269.7,67.7 269.8,67.9 269.9,68.4 269.9,68.9 269.9,69.4 269.8,69.9 269.8,70.2 269.6,70.7 269.5,70.9 269.2,71.3 269.0,71.7 268.8,71.9 268.6,72.2 268.3,72.4 268.0,72.6 267.8,72.7 267.4,72.9 267.0,73.1 266.6,73.2 266.2,73.2 265.8,73.2 265.2,73.2 265.0,73.2 264.5,73.0 264.2,72.9 263.8,72.7 263.5,72.5 263.2,72.4 263.0,72.2 262.7,71.9 262.5,71.6 262.2,71.3 262.0,70.9 261.9,70.7 261.8,70.3 261.6,69.9 261.5,69.4 261.5,69.0 261.5,68.7 261.5,68.4 261.6,67.9 261.7,67.4 261.8,67.2 262.0,66.7 262.2,66.4 262.4,66.2 262.6,65.9 262.9,65.7 263.2,65.4 263.5,65.2 263.8,65.1 264.1,64.9 264.5,64.8 265.0,64.7 265.4,64.7ZM241.0,48.4 241.5,48.3 242.0,48.4 242.2,48.5 242.5,48.6 242.8,48.9 243.0,49.4 243.1,49.7 243.1,50.1 243.0,50.5 242.8,50.9 242.6,51.1 242.4,51.4 242.0,51.6 241.8,51.7 241.2,51.7 240.9,51.7 240.5,51.5 240.2,51.2 240.1,50.9 240.0,50.6 239.9,50.1 240.0,49.6 240.1,49.4 240.2,49.0 240.5,48.7 240.8,48.5 241.0,48.4ZM264.7,66.2 265.0,66.0 265.5,65.9 266.0,65.9 266.5,66.0 266.9,66.2 267.2,66.3 267.5,66.5 267.8,66.7 268.0,66.9 268.2,67.2 268.5,67.7 268.6,67.9 268.7,68.4 268.8,68.7 268.8,69.2 268.8,69.5 268.7,69.9 268.5,70.3 268.3,70.7 268.1,70.9 267.9,71.2 267.6,71.4 267.3,71.7 267.0,71.8 266.6,71.9 266.2,72.0 265.8,72.0 265.2,71.9 265.0,71.9 264.5,71.7 264.2,71.5 264.0,71.3 263.8,71.1 263.5,70.7 263.3,70.4 263.2,70.2 263.0,69.7 262.9,69.4 262.9,68.9 263.0,68.4 263.0,68.2 263.2,67.7 263.3,67.4 263.5,67.1 263.8,66.8 264.0,66.6 264.2,66.4 264.7,66.2ZM265.1,67.4 265.5,67.2 266.0,67.2 266.5,67.3 266.8,67.4 267.1,67.7 267.3,67.9 267.5,68.2 267.6,68.7 267.7,69.2 267.5,69.7 267.4,69.9 267.2,70.2 267.0,70.4 266.6,70.7 266.2,70.8 265.8,70.8 265.3,70.7 265.0,70.5 264.8,70.3 264.5,70.0 264.3,69.7 264.2,69.4 264.2,68.9 264.2,68.6 264.4,68.2 264.5,67.9 264.8,67.7 265.1,67.4ZM275.2,69.2 275.1,69.8 275.1,70.5 275.0,71.1 274.9,71.8 274.8,72.4 274.6,73.0 274.4,73.7 274.1,74.3 273.8,74.9 273.5,75.5 273.1,76.1 272.7,76.6 272.2,77.2 271.7,77.7 271.1,78.1 270.6,78.5 269.9,78.9 269.3,79.2 268.6,79.5 267.8,79.7 267.1,79.8 266.4,79.9 265.6,79.9 264.9,79.8 264.1,79.7 263.4,79.5 262.7,79.3 262.0,79.0 261.4,78.7 260.8,78.3 260.2,77.9 259.6,77.4 259.1,76.9 258.6,76.3 258.2,75.8 257.8,75.2 257.4,74.6 257.1,73.9 256.9,73.3 256.6,72.6 256.5,71.9 256.3,71.3 256.2,70.6 256.2,69.9 256.2,69.2 256.2,68.5 256.2,67.8 256.4,67.2 256.5,66.5 256.7,65.8 257.0,65.2 257.2,64.5 257.6,63.9 258.0,63.4 258.4,62.8 258.8,62.3 259.3,61.8 259.8,61.3 260.4,60.9 261.0,60.5 261.6,60.1 262.2,59.8 262.9,59.6 263.6,59.4 264.2,59.2 264.9,59.1 265.6,59.1 266.4,59.1 267.1,59.1 267.8,59.3 268.4,59.4 269.1,59.7 269.7,59.9 270.4,60.3 270.9,60.6 271.5,61.1 272.0,61.5 272.5,62.0 272.9,62.5 273.3,63.1 273.7,63.6 274.0,64.2 274.3,64.8 274.5,65.4 274.7,66.0 274.9,66.7 275.0,67.3 275.1,67.9 275.1,68.6ZM275.5,69.2 275.5,69.9 275.4,70.5 275.4,71.2 275.3,71.9 275.1,72.5 274.9,73.2 274.7,73.8 274.4,74.5 274.1,75.1 273.8,75.7 273.4,76.3 272.9,76.9 272.4,77.4 271.9,78.0 271.3,78.4 270.7,78.9 270.1,79.2 269.4,79.6 268.7,79.8 267.9,80.0 267.2,80.2 266.4,80.2 265.6,80.2 264.8,80.2 264.1,80.1 263.3,79.9 262.6,79.6 261.9,79.3 261.2,79.0 260.6,78.6 260.0,78.1 259.4,77.6 258.9,77.1 258.4,76.5 258.0,75.9 257.6,75.3 257.3,74.6 257.0,74.0 256.7,73.3 256.5,72.6 256.4,72.0 256.2,71.3 256.1,70.6 256.1,69.9 256.1,69.2 256.1,68.5 256.1,67.8 256.3,67.1 256.4,66.4 256.6,65.8 256.8,65.1 257.1,64.5 257.5,63.9 257.8,63.3 258.2,62.7 258.7,62.1 259.2,61.6 259.7,61.1 260.3,60.7 260.9,60.3 261.5,59.9 262.1,59.6 262.8,59.4 263.5,59.2 264.2,59.0 264.9,58.9 265.6,58.8 266.4,58.8 267.1,58.9 267.8,59.0 268.5,59.2 269.2,59.4 269.8,59.7 270.5,60.0 271.1,60.4 271.6,60.8 272.2,61.3 272.7,61.8 273.1,62.3 273.6,62.9 273.9,63.4 274.3,64.0 274.6,64.6 274.8,65.3 275.0,65.9 275.2,66.6 275.3,67.2 275.4,67.9 275.5,68.5ZM275.9,69.2 275.8,69.9 275.8,70.6 275.7,71.3 275.6,72.0 275.4,72.6 275.2,73.3 275.0,74.0 274.7,74.7 274.4,75.3 274.1,76.0 273.6,76.6 273.2,77.2 272.7,77.7 272.1,78.3 271.5,78.8 270.9,79.2 270.2,79.6 269.5,79.9 268.7,80.2 268.0,80.4 267.2,80.6 266.4,80.6 265.6,80.6 264.8,80.6 264.0,80.4 263.3,80.2 262.5,80.0 261.8,79.6 261.1,79.2 260.5,78.8 259.8,78.3 259.3,77.8 258.8,77.2 258.3,76.7 257.9,76.0 257.5,75.4 257.1,74.7 256.9,74.1 256.6,73.4 256.4,72.7 256.2,72.0 256.1,71.3 256.0,70.6 256.0,69.9 256.0,69.2 256.0,68.5 256.0,67.8 256.1,67.1 256.3,66.4 256.5,65.7 256.7,65.1 257.0,64.4 257.3,63.8 257.7,63.2 258.1,62.6 258.6,62.0 259.1,61.5 259.6,61.0 260.2,60.5 260.8,60.1 261.4,59.7 262.1,59.4 262.7,59.1 263.4,58.9 264.2,58.8 264.9,58.6 265.6,58.6 266.4,58.6 267.1,58.6 267.8,58.8 268.6,58.9 269.3,59.2 269.9,59.5 270.6,59.8 271.2,60.2 271.8,60.6 272.4,61.1 272.9,61.6 273.4,62.1 273.8,62.7 274.2,63.2 274.5,63.9 274.9,64.5 275.1,65.1 275.4,65.8 275.5,66.5 275.7,67.1 275.8,67.8 275.8,68.5ZM276.2,69.2 276.2,69.9 276.2,70.6 276.1,71.3 275.9,72.1 275.8,72.8 275.6,73.5 275.3,74.2 275.0,74.9 274.7,75.5 274.3,76.2 273.9,76.8 273.4,77.4 272.9,78.0 272.3,78.6 271.7,79.1 271.0,79.5 270.3,79.9 269.6,80.3 268.8,80.6 268.0,80.8 267.2,80.9 266.4,81.0 265.6,81.0 264.8,80.9 264.0,80.8 263.2,80.6 262.4,80.3 261.7,79.9 261.0,79.5 260.3,79.1 259.7,78.6 259.1,78.0 258.6,77.4 258.1,76.8 257.7,76.2 257.3,75.5 257.0,74.8 256.7,74.1 256.5,73.4 256.3,72.7 256.1,72.0 256.0,71.3 255.9,70.6 255.9,69.9 255.9,69.2 255.9,68.5 255.9,67.8 256.0,67.1 256.2,66.4 256.4,65.7 256.6,65.0 256.9,64.4 257.2,63.7 257.6,63.1 258.0,62.5 258.4,61.9 258.9,61.4 259.5,60.8 260.0,60.4 260.7,59.9 261.3,59.6 262.0,59.2 262.7,58.9 263.4,58.7 264.1,58.5 264.9,58.4 265.6,58.3 266.4,58.3 267.1,58.4 267.9,58.5 268.6,58.7 269.3,58.9 270.0,59.2 270.7,59.5 271.4,59.9 272.0,60.4 272.5,60.8 273.1,61.3 273.6,61.9 274.0,62.5 274.5,63.1 274.8,63.7 275.2,64.3 275.4,65.0 275.7,65.7 275.9,66.4 276.0,67.1 276.1,67.8 276.2,68.5ZM276.6,69.2 276.6,69.9 276.5,70.7 276.4,71.4 276.3,72.1 276.1,72.9 275.9,73.6 275.7,74.3 275.4,75.0 275.0,75.7 274.6,76.4 274.2,77.1 273.7,77.7 273.1,78.3 272.5,78.9 271.9,79.4 271.2,79.9 270.5,80.3 269.7,80.6 268.9,80.9 268.1,81.2 267.3,81.3 266.4,81.4 265.6,81.4 264.7,81.3 263.9,81.1 263.1,80.9 262.3,80.6 261.5,80.2 260.8,79.8 260.1,79.3 259.5,78.8 259.0,78.2 258.4,77.6 258.0,77.0 257.5,76.3 257.2,75.6 256.8,74.9 256.6,74.2 256.3,73.5 256.2,72.8 256.0,72.1 255.9,71.3 255.8,70.6 255.8,69.9 255.7,69.2 255.8,68.5 255.8,67.8 255.9,67.1 256.1,66.4 256.3,65.7 256.5,65.0 256.8,64.3 257.1,63.6 257.5,63.0 257.9,62.4 258.3,61.8 258.8,61.2 259.4,60.7 259.9,60.2 260.5,59.8 261.2,59.4 261.9,59.0 262.6,58.7 263.3,58.5 264.1,58.3 264.8,58.1 265.6,58.1 266.4,58.1 267.2,58.1 267.9,58.3 268.7,58.4 269.4,58.7 270.1,59.0 270.8,59.3 271.5,59.7 272.1,60.1 272.7,60.6 273.3,61.1 273.8,61.7 274.3,62.3 274.7,62.9 275.1,63.5 275.4,64.2 275.7,64.9 276.0,65.6 276.2,66.3 276.4,67.0 276.5,67.7 276.6,68.5ZM276.9,69.2 276.9,70.0 276.9,70.7 276.8,71.5 276.6,72.2 276.5,73.0 276.2,73.8 276.0,74.5 275.7,75.2 275.3,76.0 274.9,76.7 274.4,77.3 273.9,78.0 273.4,78.6 272.7,79.2 272.1,79.7 271.4,80.2 270.6,80.6 269.8,81.0 269.0,81.3 268.2,81.5 267.3,81.7 266.4,81.8 265.6,81.8 264.7,81.7 263.8,81.5 263.0,81.3 262.2,80.9 261.4,80.6 260.7,80.1 260.0,79.6 259.4,79.0 258.8,78.4 258.3,77.8 257.8,77.1 257.4,76.4 257.0,75.7 256.7,75.0 256.4,74.3 256.2,73.6 256.0,72.8 255.9,72.1 255.8,71.4 255.7,70.6 255.7,69.9 255.6,69.2 255.7,68.5 255.7,67.8 255.8,67.0 256.0,66.3 256.2,65.6 256.4,64.9 256.7,64.2 257.0,63.6 257.3,62.9 257.7,62.3 258.2,61.7 258.7,61.1 259.2,60.5 259.8,60.0 260.4,59.6 261.1,59.2 261.8,58.8 262.5,58.5 263.3,58.2 264.0,58.0 264.8,57.9 265.6,57.8 266.4,57.8 267.2,57.9 268.0,58.0 268.7,58.2 269.5,58.4 270.2,58.7 271.0,59.0 271.6,59.4 272.3,59.9 272.9,60.4 273.5,60.9 274.0,61.5 274.5,62.1 275.0,62.7 275.4,63.3 275.7,64.0 276.1,64.7 276.3,65.4 276.5,66.2 276.7,66.9 276.8,67.7 276.9,68.4ZM277.3,69.2 277.3,70.0 277.2,70.8 277.1,71.6 277.0,72.3 276.8,73.1 276.6,73.9 276.3,74.7 276.0,75.4 275.6,76.2 275.2,76.9 274.7,77.6 274.2,78.3 273.6,78.9 273.0,79.5 272.3,80.1 271.5,80.5 270.8,81.0 270.0,81.4 269.1,81.7 268.2,81.9 267.4,82.1 266.5,82.1 265.5,82.1 264.7,82.0 263.8,81.9 262.9,81.6 262.1,81.3 261.3,80.9 260.5,80.4 259.8,79.9 259.2,79.3 258.6,78.6 258.1,78.0 257.6,77.3 257.2,76.6 256.9,75.8 256.6,75.1 256.3,74.4 256.1,73.6 255.9,72.9 255.8,72.1 255.7,71.4 255.6,70.7 255.6,69.9 255.5,69.2 255.6,68.5 255.6,67.7 255.7,67.0 255.9,66.3 256.0,65.6 256.3,64.9 256.5,64.2 256.9,63.5 257.2,62.8 257.6,62.2 258.1,61.5 258.6,61.0 259.1,60.4 259.7,59.9 260.3,59.4 261.0,59.0 261.7,58.6 262.4,58.2 263.2,58.0 264.0,57.8 264.8,57.6 265.6,57.6 266.4,57.6 267.2,57.6 268.0,57.8 268.8,57.9 269.6,58.2 270.3,58.5 271.1,58.8 271.8,59.2 272.4,59.6 273.1,60.1 273.7,60.7 274.2,61.2 274.8,61.8 275.2,62.5 275.7,63.2 276.0,63.9 276.4,64.6 276.6,65.3 276.9,66.1 277.1,66.8 277.2,67.6 277.3,68.4ZM277.6,69.2 277.6,70.0 277.6,70.8 277.5,71.6 277.3,72.4 277.1,73.3 276.9,74.1 276.6,74.8 276.3,75.6 275.9,76.4 275.5,77.1 275.0,77.9 274.4,78.5 273.8,79.2 273.2,79.8 272.5,80.4 271.7,80.9 270.9,81.3 270.1,81.7 269.2,82.0 268.3,82.3 267.4,82.4 266.5,82.5 265.5,82.5 264.6,82.4 263.7,82.2 262.8,82.0 262.0,81.6 261.2,81.2 260.4,80.7 259.7,80.1 259.1,79.5 258.5,78.8 257.9,78.2 257.5,77.4 257.1,76.7 256.7,75.9 256.4,75.2 256.2,74.4 256.0,73.7 255.8,72.9 255.7,72.2 255.6,71.4 255.5,70.7 255.5,69.9 255.4,69.2 255.5,68.5 255.5,67.7 255.6,67.0 255.8,66.3 255.9,65.5 256.2,64.8 256.4,64.1 256.7,63.4 257.1,62.7 257.5,62.1 258.0,61.4 258.5,60.8 259.0,60.2 259.6,59.7 260.2,59.2 260.9,58.8 261.6,58.4 262.4,58.0 263.1,57.7 263.9,57.5 264.8,57.4 265.6,57.3 266.4,57.3 267.2,57.4 268.1,57.5 268.9,57.7 269.7,57.9 270.4,58.2 271.2,58.6 271.9,59.0 272.6,59.4 273.3,59.9 273.9,60.4 274.5,61.0 275.0,61.6 275.5,62.3 275.9,63.0 276.3,63.7 276.7,64.4 277.0,65.2 277.2,66.0 277.4,66.8 277.5,67.6 277.6,68.4ZM277.7,69.2 277.7,70.0 277.6,70.8 277.5,71.7 277.4,72.5 277.3,73.3 277.1,74.1 276.8,74.9 276.5,75.8 276.2,76.6 275.7,77.4 275.3,78.2 274.7,78.9 274.2,79.6 273.5,80.3 272.8,80.9 272.0,81.5 271.2,82.0 270.3,82.5 269.4,82.8 268.5,83.1 267.5,83.3 266.5,83.4 265.5,83.4 264.5,83.3 263.6,83.0 262.6,82.7 261.7,82.3 260.9,81.8 260.1,81.2 259.5,80.5 258.8,79.8 258.3,79.1 257.8,78.3 257.4,77.5 257.1,76.7 256.8,75.9 256.6,75.0 256.5,74.3 256.4,73.5 256.3,72.7 256.3,72.0 256.2,71.3 256.2,70.6 256.2,69.9 256.2,69.2 256.2,68.5 256.2,67.8 256.3,67.1 256.4,66.4 256.5,65.7 256.6,65.0 256.8,64.3 257.0,63.6 257.3,62.9 257.6,62.2 258.0,61.5 258.4,60.8 258.9,60.1 259.5,59.5 260.1,58.9 260.7,58.4 261.4,57.9 262.2,57.5 263.0,57.2 263.8,56.9 264.7,56.7 265.6,56.7 266.4,56.7 267.3,56.7 268.2,56.9 269.0,57.1 269.9,57.3 270.7,57.7 271.4,58.1 272.2,58.5 272.9,59.0 273.5,59.6 274.1,60.2 274.7,60.8 275.2,61.5 275.7,62.2 276.1,62.9 276.5,63.6 276.8,64.4 277.1,65.2 277.3,66.0 277.5,66.8 277.6,67.6 277.7,68.4ZM278.6,69.2 278.6,70.1 278.6,71.0 278.5,71.9 278.4,72.7 278.2,73.6 278.0,74.5 277.7,75.4 277.4,76.3 277.0,77.2 276.5,78.0 276.0,78.9 275.5,79.7 274.8,80.5 274.1,81.2 273.3,81.9 272.5,82.5 271.6,83.1 270.7,83.5 269.7,83.9 268.7,84.2 267.6,84.4 266.5,84.5 265.5,84.5 264.4,84.4 263.4,84.2 262.4,83.8 261.4,83.4 260.5,82.8 259.7,82.2 258.9,81.5 258.2,80.7 257.7,79.9 257.2,79.0 256.7,78.2 256.4,77.3 256.1,76.4 255.9,75.5 255.7,74.7 255.6,73.8 255.5,73.0 255.5,72.2 255.4,71.4 255.4,70.7 255.4,69.9 255.4,69.2 255.4,68.5 255.4,67.7 255.5,67.0 255.6,66.2 255.7,65.5 255.9,64.7 256.1,63.9 256.3,63.1 256.6,62.4 256.9,61.6 257.3,60.8 257.8,60.1 258.3,59.4 258.9,58.7 259.6,58.1 260.3,57.5 261.1,57.0 261.9,56.6 262.8,56.2 263.7,55.9 264.6,55.7 265.5,55.6 266.5,55.6 267.4,55.7 268.4,55.9 269.3,56.1 270.2,56.4 271.0,56.7 271.9,57.2 272.7,57.6 273.4,58.2 274.1,58.8 274.8,59.4 275.4,60.1 276.0,60.8 276.5,61.6 276.9,62.4 277.3,63.2 277.7,64.0 278.0,64.8 278.2,65.7 278.4,66.6 278.5,67.4 278.6,68.3ZM279.6,69.2 279.6,70.1 279.5,71.1 279.4,72.1 279.3,73.0 279.1,74.0 278.9,74.9 278.6,75.9 278.2,76.8 277.8,77.8 277.3,78.7 276.8,79.6 276.2,80.5 275.5,81.3 274.7,82.1 273.9,82.9 273.0,83.5 272.0,84.1 271.0,84.6 270.0,85.0 268.9,85.4 267.7,85.6 266.6,85.7 265.4,85.7 264.3,85.6 263.2,85.3 262.1,84.9 261.1,84.4 260.1,83.8 259.2,83.1 258.4,82.4 257.7,81.6 257.0,80.7 256.5,79.8 256.0,78.8 255.7,77.9 255.4,76.9 255.1,76.0 254.9,75.1 254.8,74.2 254.7,73.3 254.7,72.4 254.6,71.6 254.6,70.8 254.6,70.0 254.6,69.2 254.6,68.4 254.6,67.6 254.7,66.8 254.8,66.0 254.9,65.2 255.1,64.3 255.3,63.5 255.6,62.7 255.9,61.8 256.3,61.0 256.7,60.2 257.2,59.4 257.8,58.7 258.4,57.9 259.1,57.2 259.9,56.6 260.7,56.1 261.6,55.6 262.5,55.2 263.5,54.9 264.5,54.7 265.5,54.6 266.5,54.6 267.5,54.7 268.5,54.9 269.5,55.1 270.5,55.4 271.4,55.8 272.3,56.3 273.2,56.8 274.0,57.4 274.8,58.0 275.5,58.7 276.1,59.4 276.7,60.2 277.3,61.0 277.8,61.8 278.2,62.7 278.6,63.6 278.9,64.5 279.1,65.4 279.3,66.4 279.5,67.3 279.6,68.3Z" fill="none" stroke="#444" stroke-width="0.55" stroke-linejoin="round"/>
<rect x="207.5" y="17.9" width="124.2" height="124.5" fill="none" stroke="#000" stroke-width="1.1"/>
<rect x="226.4" y="31.4" width="24.4" height="28.8" fill="none" stroke="#000" stroke-width="1.0"/>
<rect x="226.4" y="64.4" width="24.4" height="26" fill="none" stroke="#000" stroke-width="1.0"/>
<rect x="254.4" y="53.2" width="30.4" height="37.2" fill="none" stroke="#000" stroke-width="1.0"/>
<path d="M264.4,142.9v2.2M306.7,142.9v1.2M279.7,142.9v2.5M231.9,142.9v2.5M234.9,142.9v2.4M301.3,142.9v1.8M209.6,142.9v1.6M288.7,142.9v1.7M283.4,142.9v0.9M247.1,142.9v2.7M234.7,142.9v2.0M234.2,142.9v1.7M233.2,142.9v2.0M243.8,142.9v2.4M253.3,142.9v1.6M258.4,142.9v2.6M329.8,142.9v2.8M282.7,142.9v1.7M264.1,142.9v1.1M328.5,142.9v2.5M231.4,142.9v3.0M229.1,142.9v1.1M263.7,142.9v2.4M218.1,142.9v2.6M216.5,142.9v2.8M254.4,142.9v1.1M247.2,142.9v1.0M311.6,142.9v3.0M265.0,142.9v1.1M254.2,142.9v1.2M252.2,142.9v2.1M232.9,142.9v1.8M211.5,142.9v2.5M230.6,142.9v1.2M270.3,142.9v2.8M230.6,142.9v1.3M237.6,142.9v2.5M208.8,142.9v0.9M290.7,142.9v1.8M228.6,142.9v0.9M233.4,142.9v1.5M302.6,142.9v1.5M253.6,142.9v2.4M294.9,142.9v1.8M265.6,142.9v0.9M275.1,142.9v3.0M224.4,142.9v2.8M257.1,142.9v2.8M253.8,142.9v1.3M300.4,142.9v1.7M237.8,142.9v1.3M262.5,142.9v1.1M221.1,142.9v0.9M238.9,142.9v1.9M235.8,142.9v1.1M228.1,142.9v1.2M288.0,142.9v2.7M238.8,142.9v1.9M326.0,142.9v1.2M261.5,142.9v2.3M262.9,142.9v1.4M265.4,142.9v2.0M268.3,142.9v1.4M228.8,142.9v1.9M243.6,142.9v2.2M232.3,142.9v2.0M240.3,142.9v1.7M225.5,142.9v2.5M323.1,142.9v2.7M231.6,142.9v1.2M268.5,142.9v1.1M234.7,142.9v1.0M301.0,142.9v3.0M267.7,142.9v2.9M227.6,142.9v1.3M294.0,142.9v2.9M317.9,142.9v1.3M308.1,142.9v1.9M260.1,142.9v1.9M228.6,142.9v2.8M230.4,142.9v0.9M314.0,142.9v1.5M258.6,142.9v2.1M230.2,142.9v0.9M303.2,142.9v1.3M265.5,142.9v1.8M260.0,142.9v2.7M238.3,142.9v2.5M240.7,142.9v2.6M232.7,142.9v2.5M217.0,142.9v2.4M301.5,142.9v2.7M247.4,142.9v2.3M258.2,142.9v2.4M235.5,142.9v1.5M276.1,142.9v1.2M214.1,142.9v2.5M238.3,142.9v1.2M215.7,142.9v2.8M226.8,142.9v2.1M323.0,142.9v1.5M267.0,142.9v2.9M242.0,142.9v1.1M255.2,142.9v1.9M300.9,142.9v1.0M236.7,142.9v2.9M261.5,142.9v2.1M269.3,142.9v2.6M237.3,142.9v1.4M254.9,142.9v2.6M277.8,142.9v2.3M309.7,142.9v2.2M228.5,142.9v2.9M314.9,142.9v1.8M209.2,142.9v1.7M276.2,142.9v2.3M286.5,142.9v2.6M227.7,142.9v1.5M241.2,142.9v2.3M287.7,142.9v1.3M211.6,142.9v2.0M264.7,142.9v2.5M282.9,142.9v0.9M254.4,142.9v2.4M273.0,142.9v0.8M231.9,142.9v2.9M230.6,142.9v1.8M237.7,142.9v1.7M230.1,142.9v2.4M236.9,142.9v2.0M318.9,142.9v2.4M260.2,142.9v1.0M236.4,142.9v2.0M233.6,142.9v2.0M319.8,142.9v2.9M243.8,142.9v0.9M326.0,142.9v1.8M254.5,142.9v2.2M255.2,142.9v2.0M306.7,142.9v1.0M275.0,142.9v2.1M260.7,142.9v1.3M242.1,142.9v1.2M302.3,142.9v2.7M240.8,142.9v1.2M312.9,142.9v1.8M222.5,142.9v2.5M242.4,142.9v2.4M255.2,142.9v2.0M319.3,142.9v2.6" fill="none" stroke="#111" stroke-width="0.6"/>
<path d="M207.0,69.1h-2.0M207.0,139.3h-2.7M207.0,67.9h-1.6M207.0,118.9h-1.2M207.0,122.1h-0.8M207.0,79.1h-1.0M207.0,86.6h-1.8M207.0,76.2h-0.8M207.0,35.0h-2.3M207.0,93.1h-2.4M207.0,56.1h-2.9M207.0,58.6h-2.4M207.0,47.5h-1.7M207.0,48.5h-2.5M207.0,119.4h-2.5M207.0,84.1h-0.9M207.0,58.1h-0.9M207.0,109.9h-1.2M207.0,112.2h-2.9M207.0,115.6h-1.6M207.0,128.0h-2.6M207.0,41.8h-1.6M207.0,76.2h-2.2M207.0,63.0h-1.6M207.0,21.6h-2.6M207.0,46.9h-1.9M207.0,79.5h-2.9M207.0,79.7h-2.6M207.0,113.3h-3.0M207.0,88.6h-1.5M207.0,112.8h-1.4M207.0,53.1h-2.2M207.0,39.4h-2.4M207.0,69.6h-1.7M207.0,33.9h-1.1M207.0,75.5h-1.3M207.0,89.8h-3.0M207.0,117.5h-1.5M207.0,121.9h-1.5M207.0,26.6h-1.9M207.0,134.8h-1.1M207.0,117.4h-1.1M207.0,140.1h-2.5M207.0,36.8h-1.9M207.0,76.3h-1.3M207.0,96.6h-2.8M207.0,118.2h-1.4M207.0,67.1h-2.3M207.0,88.4h-2.3M207.0,61.3h-1.0M207.0,88.3h-1.0M207.0,97.4h-2.5M207.0,105.9h-1.1M207.0,117.3h-1.2M207.0,56.2h-2.7M207.0,114.9h-2.0M207.0,32.8h-2.8M207.0,113.0h-2.8M207.0,89.9h-2.4M207.0,39.3h-1.0" fill="none" stroke="#111" stroke-width="0.6"/>
<line x1="198.2" y1="150.4" x2="198.2" y2="23.5" stroke="#333" stroke-width="1.2"/>
<path d="M198.2,17 L201.5,24.6 L198.2,23 L194.9,24.6 Z" fill="#111"/>
<line x1="197.6" y1="150.4" x2="326" y2="150.4" stroke="#333" stroke-width="1.2"/>
<path d="M332,150.4 L324.4,147.2 L326,150.4 L324.4,153.6 Z" fill="#111"/>
<text x="260.4" y="160.8" font-size="10.5" fill="#3a3a3a" textLength="19.5" lengthAdjust="spacingAndGlyphs">CD16</text>
<text x="193.1" y="80.3" font-size="10.5" text-anchor="middle" fill="#3a3a3a" transform="rotate(-90 193.1 80.3)" textLength="19.2" lengthAdjust="spacingAndGlyphs">CD56</text>
<text x="262.2" y="30.6" font-size="8.3" textLength="19.2" lengthAdjust="spacingAndGlyphs">CD56</text>
<text x="281.6" y="26.4" font-size="6.0" textLength="15.3" lengthAdjust="spacingAndGlyphs">bright</text>
<text x="262.2" y="39.8" font-size="8.3" textLength="21" lengthAdjust="spacingAndGlyphs">CD16-</text>
<text x="220" y="110.9" font-size="8.3" textLength="19.2" lengthAdjust="spacingAndGlyphs">CD56</text>
<text x="239.4" y="106.7" font-size="6.0" textLength="9" lengthAdjust="spacingAndGlyphs">dim</text>
<text x="220" y="119.8" font-size="8.3" textLength="21" lengthAdjust="spacingAndGlyphs">CD16-</text>
<text x="287.7" y="110.9" font-size="8.3" textLength="19.2" lengthAdjust="spacingAndGlyphs">CD56</text>
<text x="307.1" y="106.7" font-size="6.0" textLength="9" lengthAdjust="spacingAndGlyphs">dim</text>
<text x="287.7" y="119.8" font-size="8.3" textLength="23" lengthAdjust="spacingAndGlyphs">CD16+</text>
<text x="33.4" y="201" font-size="10.2" textLength="74.2" lengthAdjust="spacingAndGlyphs">CD56<tspan font-size="6.8" dy="-3.8">bright</tspan><tspan dy="3.8">CD16-</tspan></text>
<text x="144.3" y="201" font-size="10.2" textLength="69" lengthAdjust="spacingAndGlyphs">CD56<tspan font-size="6.8" dy="-3.8">dim</tspan><tspan dy="3.8">CD16-</tspan></text>
<text x="246.3" y="201" font-size="10.2" textLength="71.2" lengthAdjust="spacingAndGlyphs">CD56<tspan font-size="6.8" dy="-3.8">dim</tspan><tspan dy="3.8">CD16+</tspan></text>
<line x1="46.3" y1="206.4" x2="46.3" y2="310" stroke="#231f20" stroke-width="1.3"/>
<line x1="43.3" y1="309.4" x2="46.3" y2="309.4" stroke="#231f20" stroke-width="1.0"/>
<text x="40.2" y="312.52" font-size="8.8" text-anchor="end" textLength="4.5" lengthAdjust="spacingAndGlyphs">0</text>
<line x1="43.3" y1="284.4" x2="46.3" y2="284.4" stroke="#231f20" stroke-width="1.0"/>
<text x="40.2" y="287.52" font-size="8.8" text-anchor="end" textLength="4.5" lengthAdjust="spacingAndGlyphs">5</text>
<line x1="43.3" y1="259.4" x2="46.3" y2="259.4" stroke="#231f20" stroke-width="1.0"/>
<text x="40.2" y="262.52" font-size="8.8" text-anchor="end" textLength="9" lengthAdjust="spacingAndGlyphs">10</text>
<line x1="43.3" y1="234.4" x2="46.3" y2="234.4" stroke="#231f20" stroke-width="1.0"/>
<text x="40.2" y="237.52" font-size="8.8" text-anchor="end" textLength="9" lengthAdjust="spacingAndGlyphs">15</text>
<line x1="43.3" y1="209.4" x2="46.3" y2="209.4" stroke="#231f20" stroke-width="1.0"/>
<text x="40.2" y="212.52" font-size="8.8" text-anchor="end" textLength="9" lengthAdjust="spacingAndGlyphs">20</text>
<line x1="44.6" y1="296.9" x2="46.3" y2="296.9" stroke="#231f20" stroke-width="1.0"/>
<line x1="44.6" y1="271.9" x2="46.3" y2="271.9" stroke="#231f20" stroke-width="1.0"/>
<line x1="44.6" y1="246.9" x2="46.3" y2="246.9" stroke="#231f20" stroke-width="1.0"/>
<line x1="44.6" y1="221.9" x2="46.3" y2="221.9" stroke="#231f20" stroke-width="1.0"/>
<line x1="45.7" y1="309.4" x2="97.3" y2="309.4" stroke="#231f20" stroke-width="1.3"/>
<line x1="60.7" y1="309.4" x2="60.7" y2="312.4" stroke="#231f20" stroke-width="1.0"/>
<line x1="82.2" y1="309.4" x2="82.2" y2="312.4" stroke="#231f20" stroke-width="1.0"/>
<line x1="59.5" y1="225.5" x2="83.8" y2="225.5" stroke="#231f20" stroke-width="1.0"/>
<text x="71.6" y="222.2" font-size="7.5" text-anchor="middle">ns</text>
<text x="25.6" y="257.8" font-size="9.2" text-anchor="middle" transform="rotate(-90 25.6 257.8)" textLength="66.5" lengthAdjust="spacingAndGlyphs">% (of total NK cells)</text>
<line x1="60.6" y1="277.3" x2="60.6" y2="287.7" stroke="#231f20" stroke-width="1.2"/>
<line x1="57.35" y1="277.3" x2="63.85" y2="277.3" stroke="#231f20" stroke-width="1.2"/>
<line x1="57.35" y1="287.7" x2="63.85" y2="287.7" stroke="#231f20" stroke-width="1.2"/>
<line x1="53.6" y1="282.5" x2="67.6" y2="282.5" stroke="#231f20" stroke-width="1.2"/>
<circle cx="60.6" cy="238" r="2.1" fill="#fff" stroke="#c0264a" stroke-width="0.95"/>
<circle cx="58.7" cy="266.7" r="2.1" fill="#fff" stroke="#c0264a" stroke-width="0.95"/>
<circle cx="63.2" cy="268.3" r="2.1" fill="#fff" stroke="#c0264a" stroke-width="0.95"/>
<circle cx="58.7" cy="276.4" r="2.1" fill="#fff" stroke="#c0264a" stroke-width="0.95"/>
<circle cx="62.9" cy="277.2" r="2.1" fill="#fff" stroke="#c0264a" stroke-width="0.95"/>
<circle cx="60.6" cy="280.4" r="2.1" fill="#fff" stroke="#c0264a" stroke-width="0.95"/>
<circle cx="65.6" cy="281.2" r="2.1" fill="#fff" stroke="#c0264a" stroke-width="0.95"/>
<circle cx="56" cy="284.9" r="2.1" fill="#fff" stroke="#c0264a" stroke-width="0.95"/>
<circle cx="56" cy="294" r="2.1" fill="#fff" stroke="#c0264a" stroke-width="0.95"/>
<circle cx="60.8" cy="295.8" r="2.1" fill="#fff" stroke="#c0264a" stroke-width="0.95"/>
<circle cx="58.7" cy="300.9" r="2.1" fill="#fff" stroke="#c0264a" stroke-width="0.95"/>
<circle cx="64.5" cy="300.4" r="2.1" fill="#fff" stroke="#c0264a" stroke-width="0.95"/>
<circle cx="62.6" cy="307.8" r="2.1" fill="#fff" stroke="#c0264a" stroke-width="0.95"/>
<circle cx="82.4" cy="240.2" r="2.4" fill="#27487f"/>
<circle cx="79.2" cy="281.2" r="2.4" fill="#27487f"/>
<circle cx="85.3" cy="283.6" r="2.4" fill="#27487f"/>
<circle cx="83.2" cy="285.2" r="2.4" fill="#27487f"/>
<circle cx="80.8" cy="290" r="2.4" fill="#27487f"/>
<circle cx="84" cy="290.8" r="2.4" fill="#27487f"/>
<circle cx="85.6" cy="297.2" r="2.4" fill="#27487f"/>
<circle cx="79.2" cy="298.8" r="2.4" fill="#27487f"/>
<circle cx="77.6" cy="302.8" r="2.4" fill="#27487f"/>
<circle cx="80.5" cy="306.8" r="2.4" fill="#27487f"/>
<circle cx="84" cy="307.6" r="2.4" fill="#27487f"/>
<circle cx="86.9" cy="309.2" r="2.4" fill="#27487f"/>
<circle cx="82.4" cy="307" r="2.4" fill="#27487f"/>
<line x1="82.6" y1="287" x2="82.6" y2="296.8" stroke="#231f20" stroke-width="1.2"/>
<line x1="79.35" y1="287" x2="85.85" y2="287" stroke="#231f20" stroke-width="1.2"/>
<line x1="79.35" y1="296.8" x2="85.85" y2="296.8" stroke="#231f20" stroke-width="1.2"/>
<line x1="75.6" y1="291.6" x2="89.6" y2="291.6" stroke="#231f20" stroke-width="1.2"/>
<line x1="153.5" y1="207.1" x2="153.5" y2="310.2" stroke="#231f20" stroke-width="1.3"/>
<line x1="150.5" y1="309.6" x2="153.5" y2="309.6" stroke="#231f20" stroke-width="1.0"/>
<text x="146.8" y="312.72" font-size="8.8" text-anchor="end" textLength="4.5" lengthAdjust="spacingAndGlyphs">0</text>
<line x1="150.5" y1="289.6" x2="153.5" y2="289.6" stroke="#231f20" stroke-width="1.0"/>
<text x="146.8" y="292.72" font-size="8.8" text-anchor="end" textLength="9" lengthAdjust="spacingAndGlyphs">20</text>
<line x1="150.5" y1="269.6" x2="153.5" y2="269.6" stroke="#231f20" stroke-width="1.0"/>
<text x="146.8" y="272.72" font-size="8.8" text-anchor="end" textLength="9" lengthAdjust="spacingAndGlyphs">40</text>
<line x1="150.5" y1="249.6" x2="153.5" y2="249.6" stroke="#231f20" stroke-width="1.0"/>
<text x="146.8" y="252.72" font-size="8.8" text-anchor="end" textLength="9" lengthAdjust="spacingAndGlyphs">60</text>
<line x1="150.5" y1="229.6" x2="153.5" y2="229.6" stroke="#231f20" stroke-width="1.0"/>
<text x="146.8" y="232.72" font-size="8.8" text-anchor="end" textLength="9" lengthAdjust="spacingAndGlyphs">80</text>
<line x1="150.5" y1="209.6" x2="153.5" y2="209.6" stroke="#231f20" stroke-width="1.0"/>
<text x="146.8" y="212.72" font-size="8.8" text-anchor="end" textLength="13.5" lengthAdjust="spacingAndGlyphs">100</text>
<line x1="151.8" y1="299.6" x2="153.5" y2="299.6" stroke="#231f20" stroke-width="1.0"/>
<line x1="151.8" y1="279.6" x2="153.5" y2="279.6" stroke="#231f20" stroke-width="1.0"/>
<line x1="151.8" y1="259.6" x2="153.5" y2="259.6" stroke="#231f20" stroke-width="1.0"/>
<line x1="151.8" y1="239.6" x2="153.5" y2="239.6" stroke="#231f20" stroke-width="1.0"/>
<line x1="151.8" y1="219.6" x2="153.5" y2="219.6" stroke="#231f20" stroke-width="1.0"/>
<line x1="152.9" y1="309.6" x2="204.5" y2="309.6" stroke="#231f20" stroke-width="1.3"/>
<line x1="167.6" y1="309.6" x2="167.6" y2="312.6" stroke="#231f20" stroke-width="1.0"/>
<line x1="189.4" y1="309.6" x2="189.4" y2="312.6" stroke="#231f20" stroke-width="1.0"/>
<line x1="167.1" y1="220.2" x2="191.8" y2="220.2" stroke="#231f20" stroke-width="1.0"/>
<text x="179.6" y="217.3" font-size="7.5" text-anchor="middle">ns</text>
<text x="127.8" y="257.8" font-size="9.2" text-anchor="middle" transform="rotate(-90 127.8 257.8)" textLength="66.5" lengthAdjust="spacingAndGlyphs">% (of total NK cells)</text>
<line x1="167.9" y1="281.5" x2="167.9" y2="291.5" stroke="#231f20" stroke-width="1.2"/>
<line x1="164.65" y1="281.5" x2="171.15" y2="281.5" stroke="#231f20" stroke-width="1.2"/>
<line x1="164.65" y1="291.5" x2="171.15" y2="291.5" stroke="#231f20" stroke-width="1.2"/>
<line x1="160.9" y1="286.5" x2="174.9" y2="286.5" stroke="#231f20" stroke-width="1.2"/>
<circle cx="168.9" cy="268.7" r="2.1" fill="#fff" stroke="#c0264a" stroke-width="0.95"/>
<circle cx="167.6" cy="270.8" r="2.1" fill="#fff" stroke="#c0264a" stroke-width="0.95"/>
<circle cx="169.4" cy="275.3" r="2.1" fill="#fff" stroke="#c0264a" stroke-width="0.95"/>
<circle cx="167.6" cy="279.9" r="2.1" fill="#fff" stroke="#c0264a" stroke-width="0.95"/>
<circle cx="168.9" cy="283.8" r="2.1" fill="#fff" stroke="#c0264a" stroke-width="0.95"/>
<circle cx="165.7" cy="283.3" r="2.1" fill="#fff" stroke="#c0264a" stroke-width="0.95"/>
<circle cx="170" cy="289.5" r="2.1" fill="#fff" stroke="#c0264a" stroke-width="0.95"/>
<circle cx="164.1" cy="292.9" r="2.1" fill="#fff" stroke="#c0264a" stroke-width="0.95"/>
<circle cx="165.7" cy="295.6" r="2.1" fill="#fff" stroke="#c0264a" stroke-width="0.95"/>
<circle cx="168.4" cy="294.5" r="2.1" fill="#fff" stroke="#c0264a" stroke-width="0.95"/>
<circle cx="171" cy="297.7" r="2.1" fill="#fff" stroke="#c0264a" stroke-width="0.95"/>
<circle cx="172.9" cy="298.8" r="2.1" fill="#fff" stroke="#c0264a" stroke-width="0.95"/>
<circle cx="189.9" cy="225.5" r="2.4" fill="#27487f"/>
<circle cx="189.9" cy="233.2" r="2.4" fill="#27487f"/>
<circle cx="191.5" cy="263.8" r="2.4" fill="#27487f"/>
<circle cx="187.9" cy="268" r="2.4" fill="#27487f"/>
<circle cx="188.1" cy="279" r="2.4" fill="#27487f"/>
<circle cx="191.9" cy="281.7" r="2.4" fill="#27487f"/>
<circle cx="193.5" cy="284.4" r="2.4" fill="#27487f"/>
<circle cx="190.8" cy="286" r="2.4" fill="#27487f"/>
<circle cx="188.1" cy="288.1" r="2.4" fill="#27487f"/>
<circle cx="185.4" cy="291.3" r="2.4" fill="#27487f"/>
<circle cx="187" cy="293.5" r="2.4" fill="#27487f"/>
<circle cx="189.7" cy="295.6" r="2.4" fill="#27487f"/>
<circle cx="192.4" cy="296.1" r="2.4" fill="#27487f"/>
<circle cx="194.5" cy="296.7" r="2.4" fill="#27487f"/>
<line x1="190.3" y1="269.4" x2="190.3" y2="282.6" stroke="#231f20" stroke-width="1.2"/>
<line x1="187.05" y1="269.4" x2="193.55" y2="269.4" stroke="#231f20" stroke-width="1.2"/>
<line x1="187.05" y1="282.6" x2="193.55" y2="282.6" stroke="#231f20" stroke-width="1.2"/>
<line x1="183.3" y1="276.4" x2="197.3" y2="276.4" stroke="#231f20" stroke-width="1.2"/>
<line x1="256.5" y1="207" x2="256.5" y2="310.1" stroke="#231f20" stroke-width="1.3"/>
<line x1="253.5" y1="309.5" x2="256.5" y2="309.5" stroke="#231f20" stroke-width="1.0"/>
<text x="249.7" y="312.62" font-size="8.8" text-anchor="end" textLength="4.5" lengthAdjust="spacingAndGlyphs">0</text>
<line x1="253.5" y1="289.5" x2="256.5" y2="289.5" stroke="#231f20" stroke-width="1.0"/>
<text x="249.7" y="292.62" font-size="8.8" text-anchor="end" textLength="9" lengthAdjust="spacingAndGlyphs">20</text>
<line x1="253.5" y1="269.5" x2="256.5" y2="269.5" stroke="#231f20" stroke-width="1.0"/>
<text x="249.7" y="272.62" font-size="8.8" text-anchor="end" textLength="9" lengthAdjust="spacingAndGlyphs">40</text>
<line x1="253.5" y1="249.5" x2="256.5" y2="249.5" stroke="#231f20" stroke-width="1.0"/>
<text x="249.7" y="252.62" font-size="8.8" text-anchor="end" textLength="9" lengthAdjust="spacingAndGlyphs">60</text>
<line x1="253.5" y1="229.5" x2="256.5" y2="229.5" stroke="#231f20" stroke-width="1.0"/>
<text x="249.7" y="232.62" font-size="8.8" text-anchor="end" textLength="9" lengthAdjust="spacingAndGlyphs">80</text>
<line x1="253.5" y1="209.5" x2="256.5" y2="209.5" stroke="#231f20" stroke-width="1.0"/>
<text x="249.7" y="212.62" font-size="8.8" text-anchor="end" textLength="13.5" lengthAdjust="spacingAndGlyphs">100</text>
<line x1="254.8" y1="299.5" x2="256.5" y2="299.5" stroke="#231f20" stroke-width="1.0"/>
<line x1="254.8" y1="279.5" x2="256.5" y2="279.5" stroke="#231f20" stroke-width="1.0"/>
<line x1="254.8" y1="259.5" x2="256.5" y2="259.5" stroke="#231f20" stroke-width="1.0"/>
<line x1="254.8" y1="239.5" x2="256.5" y2="239.5" stroke="#231f20" stroke-width="1.0"/>
<line x1="254.8" y1="219.5" x2="256.5" y2="219.5" stroke="#231f20" stroke-width="1.0"/>
<line x1="255.9" y1="309.5" x2="307.4" y2="309.5" stroke="#231f20" stroke-width="1.3"/>
<line x1="271" y1="309.5" x2="271" y2="312.5" stroke="#231f20" stroke-width="1.0"/>
<line x1="293" y1="309.5" x2="293" y2="312.5" stroke="#231f20" stroke-width="1.0"/>
<line x1="269.5" y1="218.8" x2="294.3" y2="218.8" stroke="#231f20" stroke-width="1.0"/>
<text x="282" y="215.8" font-size="7.5" text-anchor="middle">ns</text>
<text x="230.8" y="257.8" font-size="9.2" text-anchor="middle" transform="rotate(-90 230.8 257.8)" textLength="66.5" lengthAdjust="spacingAndGlyphs">% (of total NK cells)</text>
<line x1="270.9" y1="238.3" x2="270.9" y2="246.3" stroke="#231f20" stroke-width="1.2"/>
<line x1="267.65" y1="238.3" x2="274.15" y2="238.3" stroke="#231f20" stroke-width="1.2"/>
<line x1="267.65" y1="246.3" x2="274.15" y2="246.3" stroke="#231f20" stroke-width="1.2"/>
<line x1="263.9" y1="242.4" x2="277.9" y2="242.4" stroke="#231f20" stroke-width="1.2"/>
<circle cx="266.8" cy="226.5" r="2.1" fill="#fff" stroke="#c0264a" stroke-width="0.95"/>
<circle cx="274.9" cy="225.7" r="2.1" fill="#fff" stroke="#c0264a" stroke-width="0.95"/>
<circle cx="271.7" cy="229" r="2.1" fill="#fff" stroke="#c0264a" stroke-width="0.95"/>
<circle cx="268.1" cy="231.9" r="2.1" fill="#fff" stroke="#c0264a" stroke-width="0.95"/>
<circle cx="273.5" cy="233.3" r="2.1" fill="#fff" stroke="#c0264a" stroke-width="0.95"/>
<circle cx="269.5" cy="233.8" r="2.1" fill="#fff" stroke="#c0264a" stroke-width="0.95"/>
<circle cx="271.7" cy="239.2" r="2.1" fill="#fff" stroke="#c0264a" stroke-width="0.95"/>
<circle cx="269.8" cy="240.8" r="2.1" fill="#fff" stroke="#c0264a" stroke-width="0.95"/>
<circle cx="269.2" cy="250" r="2.1" fill="#fff" stroke="#c0264a" stroke-width="0.95"/>
<circle cx="270.6" cy="255.4" r="2.1" fill="#fff" stroke="#c0264a" stroke-width="0.95"/>
<circle cx="273.5" cy="256.2" r="2.1" fill="#fff" stroke="#c0264a" stroke-width="0.95"/>
<circle cx="269.8" cy="261.6" r="2.1" fill="#fff" stroke="#c0264a" stroke-width="0.95"/>
<circle cx="271.7" cy="267.1" r="2.1" fill="#fff" stroke="#c0264a" stroke-width="0.95"/>
<circle cx="289" cy="228.1" r="2.4" fill="#27487f"/>
<circle cx="292.4" cy="229.2" r="2.4" fill="#27487f"/>
<circle cx="295.9" cy="228.1" r="2.4" fill="#27487f"/>
<circle cx="291.1" cy="237.2" r="2.4" fill="#27487f"/>
<circle cx="294.3" cy="238.8" r="2.4" fill="#27487f"/>
<circle cx="293.8" cy="243.1" r="2.4" fill="#27487f"/>
<circle cx="297.5" cy="246.3" r="2.4" fill="#27487f"/>
<circle cx="287.4" cy="248.8" r="2.4" fill="#27487f"/>
<circle cx="292.3" cy="260.7" r="2.4" fill="#27487f"/>
<circle cx="292.3" cy="278.4" r="2.4" fill="#27487f"/>
<circle cx="291" cy="298.7" r="2.4" fill="#27487f"/>
<circle cx="293.9" cy="299.3" r="2.4" fill="#27487f"/>
<line x1="292.7" y1="246.5" x2="292.7" y2="258.9" stroke="#231f20" stroke-width="1.2"/>
<line x1="289.45" y1="246.5" x2="295.95" y2="246.5" stroke="#231f20" stroke-width="1.2"/>
<line x1="289.45" y1="258.9" x2="295.95" y2="258.9" stroke="#231f20" stroke-width="1.2"/>
<line x1="285.7" y1="252.7" x2="299.7" y2="252.7" stroke="#231f20" stroke-width="1.2"/>
<text x="63.7" y="318.2" font-size="8.6" text-anchor="end" transform="rotate(-45 63.7 318.2)" textLength="29.5" lengthAdjust="spacingAndGlyphs">Healthy</text>
<text x="170.6" y="318.2" font-size="8.6" text-anchor="end" transform="rotate(-45 170.6 318.2)" textLength="29.5" lengthAdjust="spacingAndGlyphs">Healthy</text>
<text x="274" y="318.2" font-size="8.6" text-anchor="end" transform="rotate(-45 274 318.2)" textLength="29.5" lengthAdjust="spacingAndGlyphs">Healthy</text>
<text x="85.2" y="318.4" font-size="8.6" text-anchor="end" transform="rotate(-45 85.2 318.4)" textLength="26" lengthAdjust="spacingAndGlyphs">DLBCL</text>
<text x="192.4" y="318.4" font-size="8.6" text-anchor="end" transform="rotate(-45 192.4 318.4)" textLength="26" lengthAdjust="spacingAndGlyphs">DLBCL</text>
<text x="296" y="318.4" font-size="8.6" text-anchor="end" transform="rotate(-45 296 318.4)" textLength="26" lengthAdjust="spacingAndGlyphs">DLBCL</text>
<circle cx="128.8" cy="346.2" r="2.2" fill="#fff" stroke="#c0264a" stroke-width="1.0"/>
<text x="133.8" y="348.9" font-size="8.7" textLength="25.9" lengthAdjust="spacingAndGlyphs">Healthy</text>
<circle cx="177.2" cy="346.2" r="2.5" fill="#27487f"/>
<text x="181.8" y="348.9" font-size="8.7" textLength="23.6" lengthAdjust="spacingAndGlyphs">DLBCL</text>
<line x1="408.7" y1="58.9" x2="408.7" y2="65.12" stroke="#231f20" stroke-width="1.2"/>
<line x1="405.2" y1="58.9" x2="412.2" y2="58.9" stroke="#231f20" stroke-width="1.2"/>
<rect x="400.6" y="64.12" width="16.2" height="61.18" fill="#a8002c"/>
<line x1="434.25" y1="46.06" x2="434.25" y2="52.08" stroke="#231f20" stroke-width="1.2"/>
<line x1="430.75" y1="46.06" x2="437.75" y2="46.06" stroke="#231f20" stroke-width="1.2"/>
<rect x="426" y="51.08" width="16.5" height="74.22" fill="#2d4c82"/>
<line x1="467.85" y1="73.44" x2="467.85" y2="80.56" stroke="#231f20" stroke-width="1.2"/>
<line x1="464.35" y1="73.44" x2="471.35" y2="73.44" stroke="#231f20" stroke-width="1.2"/>
<rect x="459.8" y="79.56" width="16.1" height="45.74" fill="#a8002c"/>
<line x1="493.35" y1="68.63" x2="493.35" y2="73.54" stroke="#231f20" stroke-width="1.2"/>
<line x1="489.85" y1="68.63" x2="496.85" y2="68.63" stroke="#231f20" stroke-width="1.2"/>
<rect x="485.4" y="72.54" width="15.9" height="52.76" fill="#2d4c82"/>
<line x1="450.6" y1="24.7" x2="450.6" y2="125.3" stroke="#231f20" stroke-width="1.1" stroke-dasharray="1,1"/>
<line x1="391.4" y1="22" x2="391.4" y2="125.9" stroke="#231f20" stroke-width="1.3"/>
<line x1="388.4" y1="125.3" x2="391.4" y2="125.3" stroke="#231f20" stroke-width="1.0"/>
<text x="385.7" y="128.42" font-size="8.8" text-anchor="end" textLength="4.35" lengthAdjust="spacingAndGlyphs">0</text>
<line x1="388.4" y1="105.24" x2="391.4" y2="105.24" stroke="#231f20" stroke-width="1.0"/>
<text x="385.7" y="108.36" font-size="8.8" text-anchor="end" textLength="8.7" lengthAdjust="spacingAndGlyphs">20</text>
<line x1="388.4" y1="85.18" x2="391.4" y2="85.18" stroke="#231f20" stroke-width="1.0"/>
<text x="385.7" y="88.3" font-size="8.8" text-anchor="end" textLength="8.7" lengthAdjust="spacingAndGlyphs">40</text>
<line x1="388.4" y1="65.12" x2="391.4" y2="65.12" stroke="#231f20" stroke-width="1.0"/>
<text x="385.7" y="68.24" font-size="8.8" text-anchor="end" textLength="8.7" lengthAdjust="spacingAndGlyphs">60</text>
<line x1="388.4" y1="45.06" x2="391.4" y2="45.06" stroke="#231f20" stroke-width="1.0"/>
<text x="385.7" y="48.18" font-size="8.8" text-anchor="end" textLength="8.7" lengthAdjust="spacingAndGlyphs">80</text>
<line x1="388.4" y1="25" x2="391.4" y2="25" stroke="#231f20" stroke-width="1.0"/>
<text x="385.7" y="28.12" font-size="8.8" text-anchor="end" textLength="13.05" lengthAdjust="spacingAndGlyphs">100</text>
<line x1="390.9" y1="125.3" x2="512.6" y2="125.3" stroke="#231f20" stroke-width="1.3"/>
<line x1="408.7" y1="125.3" x2="408.7" y2="128.6" stroke="#231f20" stroke-width="1.0"/>
<line x1="434.3" y1="125.3" x2="434.3" y2="128.6" stroke="#231f20" stroke-width="1.0"/>
<line x1="467.8" y1="125.3" x2="467.8" y2="128.6" stroke="#231f20" stroke-width="1.0"/>
<line x1="493.3" y1="125.3" x2="493.3" y2="128.6" stroke="#231f20" stroke-width="1.0"/>
<line x1="407.5" y1="40.7" x2="434.2" y2="40.7" stroke="#231f20" stroke-width="1.0"/>
<text x="421" y="37.6" font-size="7.5" text-anchor="middle">ns</text>
<line x1="466.7" y1="64.2" x2="493" y2="64.2" stroke="#231f20" stroke-width="1.0"/>
<text x="480" y="61.1" font-size="7.5" text-anchor="middle">ns</text>
<text x="367" y="75.4" font-size="8.6" text-anchor="middle" transform="rotate(-90 367 75.4)" textLength="97" lengthAdjust="spacingAndGlyphs">NK cell-mediated killing [%]</text>
<text x="411" y="131.6" font-size="8.6" text-anchor="end" transform="rotate(-90 411 131.6)" textLength="28.2" lengthAdjust="spacingAndGlyphs">Healthy</text>
<text x="437" y="131.6" font-size="8.6" text-anchor="end" transform="rotate(-90 437 131.6)" textLength="31.3" lengthAdjust="spacingAndGlyphs">DLCBCL</text>
<text x="470.2" y="131.6" font-size="8.6" text-anchor="end" transform="rotate(-90 470.2 131.6)" textLength="28.2" lengthAdjust="spacingAndGlyphs">Healthy</text>
<text x="495.9" y="131.6" font-size="8.6" text-anchor="end" transform="rotate(-90 495.9 131.6)" textLength="31.3" lengthAdjust="spacingAndGlyphs">DLCBCL</text>
<line x1="402.9" y1="166.4" x2="439" y2="166.4" stroke="#231f20" stroke-width="1.0"/>
<line x1="462" y1="166.4" x2="499" y2="166.4" stroke="#231f20" stroke-width="1.0"/>
<text x="421.2" y="176.3" font-size="7.7" text-anchor="middle">1:1</text>
<text x="480.4" y="176.3" font-size="7.7" text-anchor="middle">1:5</text>
<line x1="392" y1="205.9" x2="392" y2="310.1" stroke="#231f20" stroke-width="1.3"/>
<line x1="389" y1="309.5" x2="392" y2="309.5" stroke="#231f20" stroke-width="1.0"/>
<text x="385.6" y="312.62" font-size="8.8" text-anchor="end" textLength="4.45" lengthAdjust="spacingAndGlyphs">0</text>
<line x1="389" y1="289.38" x2="392" y2="289.38" stroke="#231f20" stroke-width="1.0"/>
<text x="385.6" y="292.5" font-size="8.8" text-anchor="end" textLength="8.9" lengthAdjust="spacingAndGlyphs">20</text>
<line x1="389" y1="269.26" x2="392" y2="269.26" stroke="#231f20" stroke-width="1.0"/>
<text x="385.6" y="272.38" font-size="8.8" text-anchor="end" textLength="8.9" lengthAdjust="spacingAndGlyphs">40</text>
<line x1="389" y1="249.14" x2="392" y2="249.14" stroke="#231f20" stroke-width="1.0"/>
<text x="385.6" y="252.26" font-size="8.8" text-anchor="end" textLength="8.9" lengthAdjust="spacingAndGlyphs">60</text>
<line x1="389" y1="229.02" x2="392" y2="229.02" stroke="#231f20" stroke-width="1.0"/>
<text x="385.6" y="232.14" font-size="8.8" text-anchor="end" textLength="8.9" lengthAdjust="spacingAndGlyphs">80</text>
<line x1="389" y1="208.9" x2="392" y2="208.9" stroke="#231f20" stroke-width="1.0"/>
<text x="385.6" y="212.02" font-size="8.8" text-anchor="end" textLength="13.35" lengthAdjust="spacingAndGlyphs">100</text>
<line x1="391.4" y1="309.5" x2="509" y2="309.5" stroke="#231f20" stroke-width="1.3"/>
<line x1="411.9" y1="309.5" x2="411.9" y2="312.7" stroke="#231f20" stroke-width="1.0"/>
<line x1="451.2" y1="309.5" x2="451.2" y2="312.7" stroke="#231f20" stroke-width="1.0"/>
<line x1="490.6" y1="309.5" x2="490.6" y2="312.7" stroke="#231f20" stroke-width="1.0"/>
<text x="366.5" y="257.4" font-size="8.6" text-anchor="middle" transform="rotate(-90 366.5 257.4)" textLength="84" lengthAdjust="spacingAndGlyphs">CD107a + pNK cells [%]</text>
<line x1="451.2" y1="258.8" x2="451.2" y2="268" stroke="#231f20" stroke-width="1.1"/>
<line x1="448.6" y1="258.8" x2="453.8" y2="258.8" stroke="#231f20" stroke-width="1.1"/>
<line x1="448.6" y1="268" x2="453.8" y2="268" stroke="#231f20" stroke-width="1.1"/>
<line x1="490.9" y1="232.7" x2="490.9" y2="240.3" stroke="#231f20" stroke-width="1.1"/>
<line x1="488.3" y1="232.7" x2="493.5" y2="232.7" stroke="#231f20" stroke-width="1.1"/>
<line x1="488.3" y1="240.3" x2="493.5" y2="240.3" stroke="#231f20" stroke-width="1.1"/>
<line x1="411.9" y1="296.5" x2="411.9" y2="301.3" stroke="#231f20" stroke-width="1.1"/>
<line x1="409.3" y1="296.5" x2="414.5" y2="296.5" stroke="#231f20" stroke-width="1.1"/>
<line x1="409.3" y1="301.3" x2="414.5" y2="301.3" stroke="#231f20" stroke-width="1.1"/>
<line x1="451.2" y1="276" x2="451.2" y2="289.2" stroke="#231f20" stroke-width="1.1"/>
<line x1="448.6" y1="276" x2="453.8" y2="276" stroke="#231f20" stroke-width="1.1"/>
<line x1="448.6" y1="289.2" x2="453.8" y2="289.2" stroke="#231f20" stroke-width="1.1"/>
<line x1="490.9" y1="247.2" x2="490.9" y2="262.2" stroke="#231f20" stroke-width="1.1"/>
<line x1="488.3" y1="247.2" x2="493.5" y2="247.2" stroke="#231f20" stroke-width="1.1"/>
<line x1="488.3" y1="262.2" x2="493.5" y2="262.2" stroke="#231f20" stroke-width="1.1"/>
<line x1="411.9" y1="299.5" x2="411.9" y2="304.5" stroke="#231f20" stroke-width="1.1"/>
<line x1="409.3" y1="299.5" x2="414.5" y2="299.5" stroke="#231f20" stroke-width="1.1"/>
<line x1="409.3" y1="304.5" x2="414.5" y2="304.5" stroke="#231f20" stroke-width="1.1"/>
<path d="M411.9,301.8 L451.2,282.9 L490.9,254.6" fill="none" stroke="#2d4c82" stroke-width="1.3"/>
<path d="M411.9,298.9 L451.2,263.3 L490.9,236.7" fill="none" stroke="#c0264a" stroke-width="1.3"/>
<circle cx="411.9" cy="301.8" r="2.7" fill="#27487f"/>
<circle cx="451.2" cy="282.9" r="2.7" fill="#27487f"/>
<circle cx="490.9" cy="254.6" r="2.7" fill="#27487f"/>
<circle cx="411.9" cy="298.9" r="2.3" fill="#fff" stroke="#c0264a" stroke-width="1.2"/>
<circle cx="451.2" cy="263.3" r="2.3" fill="#fff" stroke="#c0264a" stroke-width="1.2"/>
<circle cx="490.9" cy="236.7" r="2.3" fill="#fff" stroke="#c0264a" stroke-width="1.2"/>
<text x="451.2" y="258.5" font-size="8" text-anchor="middle">*</text>
<text x="490.9" y="232.8" font-size="8" text-anchor="middle">*</text>
<text x="411.9" y="292.3" font-size="7.5" text-anchor="middle">ns</text>
<line x1="471.2" y1="284.2" x2="481.2" y2="284.2" stroke="#c0264a" stroke-width="1.3"/>
<circle cx="476.2" cy="284.2" r="2.3" fill="#fff" stroke="#c0264a" stroke-width="1.2"/>
<text x="483.6" y="287.3" font-size="8.7" textLength="27" lengthAdjust="spacingAndGlyphs">Healthy</text>
<line x1="471.2" y1="295.7" x2="481.2" y2="295.7" stroke="#2d4c82" stroke-width="1.3"/>
<circle cx="476.2" cy="295.7" r="2.6" fill="#27487f"/>
<text x="483.6" y="298.8" font-size="8.7" textLength="24" lengthAdjust="spacingAndGlyphs">DLBCL</text>
<text x="415.2" y="318.8" font-size="8.6" text-anchor="end" transform="rotate(-45 415.2 318.8)" textLength="25" lengthAdjust="spacingAndGlyphs">unstim</text>
<text x="454.5" y="318.8" font-size="8.6" text-anchor="end" transform="rotate(-45 454.5 318.8)" textLength="10.5" lengthAdjust="spacingAndGlyphs">1:1</text>
<text x="493.9" y="318.8" font-size="8.6" text-anchor="end" transform="rotate(-45 493.9 318.8)" textLength="10.5" lengthAdjust="spacingAndGlyphs">1:5</text>
<text x="451.2" y="348.2" font-size="9.0" text-anchor="middle" textLength="60" lengthAdjust="spacingAndGlyphs">Effector: target</text>
<path d="M109.9,470 L110.8,478 L111.6,481.2 L115.2,481.5 L121.4,480.3 L129.1,476.9 L133.7,472.3 L136.8,465.4 L139.1,453.8 L140.6,451.5 L142.2,450.8 L144.2,446.5 L145.7,450.8 L147.5,458.5 L149.8,469.2 L151.4,474.6 L152.4,482.6 L152.4,482.6 L109.9,482.6 Z" fill="#5a6fa8" fill-opacity="0.75"/>
<path d="M109.9,470 L110.8,478 L111.6,481.2 L115.2,481.5 L121.4,480.3 L129.1,476.9 L133.7,472.3 L136.8,465.4 L139.1,453.8 L140.6,451.5 L142.2,450.8 L144.2,446.5 L145.7,450.8 L147.5,458.5 L149.8,469.2 L151.4,474.6 L152.4,482.6 L236.2,482.6" fill="none" stroke="#2d4c82" stroke-width="1.1" stroke-linejoin="round"/>
<path d="M109.9,476.9 L110.6,490 L111.4,500.5 L112.2,502.3 L126,502.3 L130.6,499.2 L135.2,496.9 L139.1,490.8 L141.4,484.6 L142.9,478.5 L145.2,476.2 L146.8,472.6 L149.1,474.6 L152.2,472.6 L154.5,474.6 L156.8,480.3 L159.1,481.8 L161.7,483.5 L163.2,476.9 L165.2,472.3 L166.8,471.5 L169.1,472.6 L171.8,472.3 L173.7,480 L176,492.3 L178.3,500.8 L179.8,502.3 L179.8,502.3 L109.9,502.3 Z" fill="#cf8a80" fill-opacity="0.75"/>
<path d="M109.9,476.9 L110.6,490 L111.4,500.5 L112.2,502.3 L126,502.3 L130.6,499.2 L135.2,496.9 L139.1,490.8 L141.4,484.6 L142.9,478.5 L145.2,476.2 L146.8,472.6 L149.1,474.6 L152.2,472.6 L154.5,474.6 L156.8,480.3 L159.1,481.8 L161.7,483.5 L163.2,476.9 L165.2,472.3 L166.8,471.5 L169.1,472.6 L171.8,472.3 L173.7,480 L176,492.3 L178.3,500.8 L179.8,502.3" fill="none" stroke="#b3183f" stroke-width="1.35" stroke-linejoin="round"/>
<defs><linearGradient id="gg" x1="110" y1="0" x2="180" y2="0" gradientUnits="userSpaceOnUse"><stop offset="0" stop-color="#a6d98e"/><stop offset="0.45" stop-color="#7cc45c"/><stop offset="0.75" stop-color="#4aa82a"/><stop offset="1" stop-color="#4aa82a"/></linearGradient></defs>
<path d="M109.9,461.9 L109.9,449 L110.6,456 L111.5,461.4 L111.5,461.9 Z" fill="#5fb040"/>
<path d="M109.9,449 L110.6,456 L111.5,461.4 L113.7,461.5 L124.5,460.5 L136.8,457.7 L144.5,453.1 L147.5,450.8 L149.8,448.9 L152.2,446.2 L153.5,446.8 L155.2,444.6 L156.5,443.5 L158.3,440.8 L160.5,438.5 L162.9,435.4 L164.5,433 L166,430.8 L168.3,428 L169.8,430 L170.6,432 L171.4,434.6 L172.9,437.7 L174.5,446.2 L176,455.4 L179.1,460.8 L182.9,461.9" fill="none" stroke="url(#gg)" stroke-width="1.2" stroke-linejoin="round"/>
<line x1="182.9" y1="461.9" x2="236.2" y2="461.9" stroke="#7e9a72" stroke-width="1.0"/>
<path d="M110.4,380 L110.8,400 L111.5,416 L112.5,419.6 L115,419.7 L120,418.8 L125,417.5 L129.3,415.2 L132.8,411.7 L135.4,405.7 L138,399.6 L140.6,393.6 L142.7,387.2 L144.5,385.2 L146.2,384.5 L147.9,388.4 L149.5,393 L151,397.9 L153.5,406.5 L155.8,410.5 L157.9,413.5 L162.2,417.8 L165.5,419.6 L168.3,420.5 L168.3,420.5 L110.2,420.5 Z" fill="#f0c585"/>
<path d="M110.4,380 L110.8,400 L111.5,416 L112.5,419.6 L115,419.7 L120,418.8 L125,417.5 L129.3,415.2 L132.8,411.7 L135.4,405.7 L138,399.6 L140.6,393.6 L142.7,387.2 L144.5,385.2 L146.2,384.5 L147.9,388.4 L149.5,393 L151,397.9 L153.5,406.5 L155.8,410.5 L157.9,413.5 L162.2,417.8 L165.5,419.6 L168.3,420.5 L236.2,420.5" fill="none" stroke="#e89a30" stroke-width="1.2" stroke-dasharray="1.3,1.3" stroke-linejoin="round"/>
<path d="M109.9,416.9 L110.8,432 L111.8,440.3 L118.3,441.1 L126,439.2 L133.7,435.4 L137,430.5 L139.1,426.2 L141,421.5 L142.9,416.9 L145,411.5 L146.8,408.5 L148.5,411.5 L150.6,416.9 L152.3,422.5 L153.7,427.7 L156,433.5 L158.3,437.7 L162,439.8 L167.5,440.9 L172.2,441.3" fill="none" stroke="#5e3d8c" stroke-width="1.2" stroke-linejoin="round"/>
<line x1="172.2" y1="441.3" x2="236.2" y2="441.3" stroke="#7d6499" stroke-width="1.0"/>
<line x1="109.6" y1="376.5" x2="236.2" y2="376.5" stroke="#000" stroke-width="1.1"/>
<line x1="236.2" y1="376.5" x2="236.2" y2="502.5" stroke="#000" stroke-width="1.1"/>
<line x1="109.6" y1="376.5" x2="109.6" y2="503" stroke="#000" stroke-width="1.2"/>
<line x1="109.6" y1="502.5" x2="236.7" y2="502.5" stroke="#000" stroke-width="1.2"/>
<line x1="112.01" y1="502.5" x2="112.01" y2="504.5" stroke="#000" stroke-width="0.8"/>
<line x1="113.69" y1="502.5" x2="113.69" y2="504.5" stroke="#000" stroke-width="0.8"/>
<line x1="115.17" y1="502.5" x2="115.17" y2="504.5" stroke="#000" stroke-width="0.8"/>
<line x1="116.5" y1="502.5" x2="116.5" y2="505.7" stroke="#000" stroke-width="0.8"/>
<line x1="125.23" y1="502.5" x2="125.23" y2="504.5" stroke="#000" stroke-width="0.8"/>
<line x1="130.34" y1="502.5" x2="130.34" y2="504.5" stroke="#000" stroke-width="0.8"/>
<line x1="133.96" y1="502.5" x2="133.96" y2="504.5" stroke="#000" stroke-width="0.8"/>
<line x1="136.77" y1="502.5" x2="136.77" y2="504.5" stroke="#000" stroke-width="0.8"/>
<line x1="139.07" y1="502.5" x2="139.07" y2="504.5" stroke="#000" stroke-width="0.8"/>
<line x1="141.01" y1="502.5" x2="141.01" y2="504.5" stroke="#000" stroke-width="0.8"/>
<line x1="142.69" y1="502.5" x2="142.69" y2="504.5" stroke="#000" stroke-width="0.8"/>
<line x1="144.17" y1="502.5" x2="144.17" y2="504.5" stroke="#000" stroke-width="0.8"/>
<line x1="145.5" y1="502.5" x2="145.5" y2="505.7" stroke="#000" stroke-width="0.8"/>
<line x1="154.23" y1="502.5" x2="154.23" y2="504.5" stroke="#000" stroke-width="0.8"/>
<line x1="159.34" y1="502.5" x2="159.34" y2="504.5" stroke="#000" stroke-width="0.8"/>
<line x1="162.96" y1="502.5" x2="162.96" y2="504.5" stroke="#000" stroke-width="0.8"/>
<line x1="165.77" y1="502.5" x2="165.77" y2="504.5" stroke="#000" stroke-width="0.8"/>
<line x1="168.07" y1="502.5" x2="168.07" y2="504.5" stroke="#000" stroke-width="0.8"/>
<line x1="170.01" y1="502.5" x2="170.01" y2="504.5" stroke="#000" stroke-width="0.8"/>
<line x1="171.69" y1="502.5" x2="171.69" y2="504.5" stroke="#000" stroke-width="0.8"/>
<line x1="173.17" y1="502.5" x2="173.17" y2="504.5" stroke="#000" stroke-width="0.8"/>
<line x1="174.5" y1="502.5" x2="174.5" y2="505.7" stroke="#000" stroke-width="0.8"/>
<line x1="183.23" y1="502.5" x2="183.23" y2="504.5" stroke="#000" stroke-width="0.8"/>
<line x1="188.34" y1="502.5" x2="188.34" y2="504.5" stroke="#000" stroke-width="0.8"/>
<line x1="191.96" y1="502.5" x2="191.96" y2="504.5" stroke="#000" stroke-width="0.8"/>
<line x1="194.77" y1="502.5" x2="194.77" y2="504.5" stroke="#000" stroke-width="0.8"/>
<line x1="197.07" y1="502.5" x2="197.07" y2="504.5" stroke="#000" stroke-width="0.8"/>
<line x1="199.01" y1="502.5" x2="199.01" y2="504.5" stroke="#000" stroke-width="0.8"/>
<line x1="200.69" y1="502.5" x2="200.69" y2="504.5" stroke="#000" stroke-width="0.8"/>
<line x1="202.17" y1="502.5" x2="202.17" y2="504.5" stroke="#000" stroke-width="0.8"/>
<line x1="203.5" y1="502.5" x2="203.5" y2="505.7" stroke="#000" stroke-width="0.8"/>
<line x1="212.23" y1="502.5" x2="212.23" y2="504.5" stroke="#000" stroke-width="0.8"/>
<line x1="217.34" y1="502.5" x2="217.34" y2="504.5" stroke="#000" stroke-width="0.8"/>
<line x1="220.96" y1="502.5" x2="220.96" y2="504.5" stroke="#000" stroke-width="0.8"/>
<line x1="223.77" y1="502.5" x2="223.77" y2="504.5" stroke="#000" stroke-width="0.8"/>
<line x1="226.07" y1="502.5" x2="226.07" y2="504.5" stroke="#000" stroke-width="0.8"/>
<line x1="228.01" y1="502.5" x2="228.01" y2="504.5" stroke="#000" stroke-width="0.8"/>
<line x1="229.69" y1="502.5" x2="229.69" y2="504.5" stroke="#000" stroke-width="0.8"/>
<line x1="231.17" y1="502.5" x2="231.17" y2="504.5" stroke="#000" stroke-width="0.8"/>
<line x1="232.5" y1="502.5" x2="232.5" y2="505.7" stroke="#000" stroke-width="0.8"/>
<text x="230" y="389.1" font-size="8.1" text-anchor="end" textLength="33.9" lengthAdjust="spacingAndGlyphs">% positve</text>
<text x="230.1" y="435" font-size="7.6" text-anchor="end" textLength="15.1" lengthAdjust="spacingAndGlyphs">0.46</text>
<text x="230.1" y="457.7" font-size="7.6" text-anchor="end" textLength="15.1" lengthAdjust="spacingAndGlyphs">63.0</text>
<text x="230.1" y="478.3" font-size="7.6" text-anchor="end" textLength="11" lengthAdjust="spacingAndGlyphs">0.3</text>
<text x="230.1" y="498.6" font-size="7.6" text-anchor="end" textLength="15.1" lengthAdjust="spacingAndGlyphs">43.5</text>
<text x="105.9" y="415.8" font-size="8.7" text-anchor="end" textLength="18.8" lengthAdjust="spacingAndGlyphs">FMO</text>
<text x="105.9" y="436.8" font-size="8.8" text-anchor="end" textLength="25.6" lengthAdjust="spacingAndGlyphs">Unstim</text>
<text x="17.1" y="447.8" font-size="8.8" textLength="27.6" lengthAdjust="spacingAndGlyphs">Healthy</text>
<line x1="48" y1="436" x2="48" y2="454.5" stroke="#000" stroke-width="1.1"/>
<text x="105.9" y="458.3" font-size="8.8" text-anchor="end" textLength="53.9" lengthAdjust="spacingAndGlyphs">IL-15+IL-12/18</text>
<text x="105.9" y="478.8" font-size="8.8" text-anchor="end" textLength="25.6" lengthAdjust="spacingAndGlyphs">Unstim</text>
<text x="19.7" y="490.5" font-size="8.8" textLength="25" lengthAdjust="spacingAndGlyphs">DLBCL</text>
<line x1="48" y1="477.3" x2="48" y2="496.5" stroke="#000" stroke-width="1.1"/>
<text x="105.9" y="500.1" font-size="8.8" text-anchor="end" textLength="53.9" lengthAdjust="spacingAndGlyphs">IL-15+IL-12/18</text>
<text x="172.5" y="518.8" font-size="10.0" text-anchor="middle" textLength="18" lengthAdjust="spacingAndGlyphs">IFN-γ</text>
<text x="306.7" y="393.8" font-size="9.9" text-anchor="middle" textLength="38" lengthAdjust="spacingAndGlyphs">Total NK</text>
<line x1="280.8" y1="399.6" x2="280.8" y2="503.7" stroke="#231f20" stroke-width="1.3"/>
<line x1="277.8" y1="503.1" x2="280.8" y2="503.1" stroke="#231f20" stroke-width="1.0"/>
<text x="273.4" y="506.1" font-size="8.4" text-anchor="end" textLength="4.05" lengthAdjust="spacingAndGlyphs">0</text>
<line x1="277.8" y1="483" x2="280.8" y2="483" stroke="#231f20" stroke-width="1.0"/>
<text x="273.4" y="486" font-size="8.4" text-anchor="end" textLength="8.1" lengthAdjust="spacingAndGlyphs">20</text>
<line x1="277.8" y1="462.9" x2="280.8" y2="462.9" stroke="#231f20" stroke-width="1.0"/>
<text x="273.4" y="465.9" font-size="8.4" text-anchor="end" textLength="8.1" lengthAdjust="spacingAndGlyphs">40</text>
<line x1="277.8" y1="442.8" x2="280.8" y2="442.8" stroke="#231f20" stroke-width="1.0"/>
<text x="273.4" y="445.8" font-size="8.4" text-anchor="end" textLength="8.1" lengthAdjust="spacingAndGlyphs">60</text>
<line x1="277.8" y1="422.7" x2="280.8" y2="422.7" stroke="#231f20" stroke-width="1.0"/>
<text x="273.4" y="425.7" font-size="8.4" text-anchor="end" textLength="8.1" lengthAdjust="spacingAndGlyphs">80</text>
<line x1="277.8" y1="402.6" x2="280.8" y2="402.6" stroke="#231f20" stroke-width="1.0"/>
<text x="273.4" y="405.6" font-size="8.4" text-anchor="end" textLength="12.15" lengthAdjust="spacingAndGlyphs">100</text>
<line x1="278.7" y1="503.1" x2="331.4" y2="503.1" stroke="#231f20" stroke-width="1.3"/>
<line x1="293.4" y1="503.1" x2="293.4" y2="506.1" stroke="#231f20" stroke-width="1.0"/>
<line x1="322.8" y1="503.1" x2="322.8" y2="506.1" stroke="#231f20" stroke-width="1.0"/>
<text x="254.5" y="451.3" font-size="9.0" text-anchor="middle" transform="rotate(-90 254.5 451.3)" textLength="45" lengthAdjust="spacingAndGlyphs">% IFN-γ+ NK</text>
<line x1="286.3" y1="491.6" x2="300.7" y2="491.6" stroke="#555" stroke-width="1.1"/>
<text x="293.5" y="489" font-size="7.3" text-anchor="middle">ns</text>
<line x1="315.8" y1="406.8" x2="330.5" y2="406.8" stroke="#555" stroke-width="1.1"/>
<text x="323.2" y="405.6" font-size="7.5" text-anchor="middle">*</text>
<line x1="317.5" y1="438.5" x2="317.5" y2="451.5" stroke="#231f20" stroke-width="1.0"/>
<line x1="316" y1="438.5" x2="319" y2="438.5" stroke="#231f20" stroke-width="1.0"/>
<line x1="316" y1="451.5" x2="319" y2="451.5" stroke="#231f20" stroke-width="1.0"/>
<line x1="314.5" y1="445.5" x2="320.7" y2="445.5" stroke="#231f20" stroke-width="1.1"/>
<circle cx="317.5" cy="445.5" r="1.65" fill="#fff" stroke="#c0264a" stroke-width="0.9"/>
<circle cx="318" cy="419.8" r="1.65" fill="#fff" stroke="#c0264a" stroke-width="0.9"/>
<circle cx="316.6" cy="424.1" r="1.65" fill="#fff" stroke="#c0264a" stroke-width="0.9"/>
<circle cx="315.8" cy="431.6" r="1.65" fill="#fff" stroke="#c0264a" stroke-width="0.9"/>
<circle cx="319.2" cy="431.6" r="1.65" fill="#fff" stroke="#c0264a" stroke-width="0.9"/>
<circle cx="317.5" cy="435" r="1.65" fill="#fff" stroke="#c0264a" stroke-width="0.9"/>
<circle cx="316.6" cy="438.5" r="1.65" fill="#fff" stroke="#c0264a" stroke-width="0.9"/>
<circle cx="318.4" cy="440.2" r="1.65" fill="#fff" stroke="#c0264a" stroke-width="0.9"/>
<circle cx="316.6" cy="451.8" r="1.65" fill="#fff" stroke="#c0264a" stroke-width="0.9"/>
<circle cx="318.4" cy="454.7" r="1.65" fill="#fff" stroke="#c0264a" stroke-width="0.9"/>
<circle cx="316.6" cy="460.4" r="1.65" fill="#fff" stroke="#c0264a" stroke-width="0.9"/>
<circle cx="318.4" cy="462.2" r="1.65" fill="#fff" stroke="#c0264a" stroke-width="0.9"/>
<circle cx="317.5" cy="494.2" r="1.65" fill="#fff" stroke="#c0264a" stroke-width="0.9"/>
<circle cx="286.5" cy="502.9" r="1.65" fill="#fff" stroke="#c0264a" stroke-width="0.9"/>
<circle cx="288.2" cy="503" r="1.65" fill="#fff" stroke="#c0264a" stroke-width="0.9"/>
<circle cx="289.8" cy="502.8" r="1.65" fill="#fff" stroke="#c0264a" stroke-width="0.9"/>
<circle cx="328.7" cy="417.6" r="1.9" fill="#27487f"/>
<circle cx="327.5" cy="435" r="1.9" fill="#27487f"/>
<circle cx="329.6" cy="436.2" r="1.9" fill="#27487f"/>
<circle cx="328.7" cy="449.5" r="1.9" fill="#27487f"/>
<circle cx="328.7" cy="455.2" r="1.9" fill="#27487f"/>
<circle cx="327" cy="459.4" r="1.9" fill="#27487f"/>
<circle cx="330.5" cy="459.4" r="1.9" fill="#27487f"/>
<circle cx="326.7" cy="473.2" r="1.9" fill="#27487f"/>
<circle cx="328.7" cy="473.7" r="1.9" fill="#27487f"/>
<circle cx="330.5" cy="476" r="1.9" fill="#27487f"/>
<circle cx="327.9" cy="495" r="1.9" fill="#27487f"/>
<circle cx="329.6" cy="496.2" r="1.9" fill="#27487f"/>
<circle cx="297.3" cy="503" r="1.9" fill="#27487f"/>
<circle cx="299" cy="503" r="1.9" fill="#27487f"/>
<circle cx="300.6" cy="502.7" r="1.9" fill="#27487f"/>
<line x1="328.7" y1="452.8" x2="328.7" y2="466.3" stroke="#231f20" stroke-width="1.1"/>
<line x1="326.9" y1="452.8" x2="330.5" y2="452.8" stroke="#231f20" stroke-width="1.1"/>
<line x1="326.9" y1="466.3" x2="330.5" y2="466.3" stroke="#231f20" stroke-width="1.1"/>
<line x1="324.6" y1="459.2" x2="332.8" y2="459.2" stroke="#231f20" stroke-width="1.1"/>
<text x="297.36" y="511.4" font-size="8.6" text-anchor="end" transform="rotate(-45 297.36 511.4)" textLength="25.5" lengthAdjust="spacingAndGlyphs">Unstim</text>
<text x="327.4" y="513" font-size="8.6" text-anchor="end" transform="rotate(-45 327.4 513)" textLength="57" lengthAdjust="spacingAndGlyphs">IL-15+ IL-12/18</text>
<circle cx="342.8" cy="445.7" r="1.65" fill="#fff" stroke="#c0264a" stroke-width="0.9"/>
<text x="347.5" y="448.2" font-size="8.0" textLength="26.2" lengthAdjust="spacingAndGlyphs">Healthy</text>
<circle cx="342.8" cy="457.3" r="1.9" fill="#27487f"/>
<text x="347.5" y="459.9" font-size="8.0" textLength="22.9" lengthAdjust="spacingAndGlyphs">DLBCL</text>
<rect x="0.5" y="0.5" width="519" height="561" fill="none" stroke="#000" stroke-width="1.2"/>
</svg>
</body></html>
